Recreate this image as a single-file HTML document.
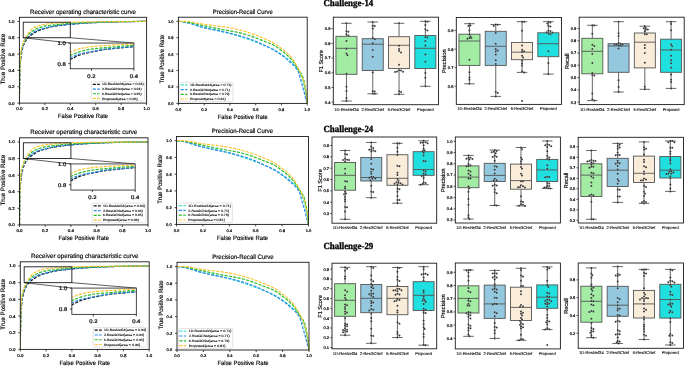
<!DOCTYPE html>
<html><head><meta charset="utf-8"><style>
html,body{margin:0;padding:0;background:#fff;width:685px;height:366px;overflow:hidden}
svg{display:block;will-change:transform}
.d{fill:#2b2b2b;stroke:#fff;stroke-opacity:.4;stroke-width:.3}

</style></head><body>
<svg width="685" height="366" viewBox="0 0 685 366" text-rendering="geometricPrecision" font-family="'Liberation Sans', sans-serif">
<rect width="685" height="366" fill="#fff"/>
<text x="83.00" y="13.80" font-size="6.3" text-anchor="middle" textLength="106.00" lengthAdjust="spacingAndGlyphs" stroke="#000" stroke-width="0.15">Receiver operating characteristic curve</text>
<text x="83.00" y="118.40" font-size="6.2" text-anchor="middle" textLength="50.00" lengthAdjust="spacingAndGlyphs" stroke="#000" stroke-width="0.15">False Positive Rate</text>
<text x="0" y="0" font-size="6.3" text-anchor="middle" textLength="50.50" lengthAdjust="spacingAndGlyphs" transform="translate(4.90,59.00) rotate(-90)" stroke="#000" stroke-width="0.15">True Positive Rate</text>
<line x1="19.40" y1="103.10" x2="19.40" y2="105.10" stroke="#1a1a1a" stroke-width="0.8"/>
<text x="19.40" y="110.30" font-size="4.1" text-anchor="middle" textLength="6.20" lengthAdjust="spacingAndGlyphs" stroke="#000" stroke-width="0.2">0.0</text>
<line x1="17.40" y1="103.10" x2="19.40" y2="103.10" stroke="#1a1a1a" stroke-width="0.8"/>
<text x="14.60" y="104.60" font-size="4.1" text-anchor="end" textLength="6.20" lengthAdjust="spacingAndGlyphs" stroke="#000" stroke-width="0.2">0.0</text>
<line x1="44.84" y1="103.10" x2="44.84" y2="105.10" stroke="#1a1a1a" stroke-width="0.8"/>
<text x="44.84" y="110.30" font-size="4.1" text-anchor="middle" textLength="6.20" lengthAdjust="spacingAndGlyphs" stroke="#000" stroke-width="0.2">0.2</text>
<line x1="17.40" y1="86.76" x2="19.40" y2="86.76" stroke="#1a1a1a" stroke-width="0.8"/>
<text x="14.60" y="88.26" font-size="4.1" text-anchor="end" textLength="6.20" lengthAdjust="spacingAndGlyphs" stroke="#000" stroke-width="0.2">0.2</text>
<line x1="70.28" y1="103.10" x2="70.28" y2="105.10" stroke="#1a1a1a" stroke-width="0.8"/>
<text x="70.28" y="110.30" font-size="4.1" text-anchor="middle" textLength="6.20" lengthAdjust="spacingAndGlyphs" stroke="#000" stroke-width="0.2">0.4</text>
<line x1="17.40" y1="70.41" x2="19.40" y2="70.41" stroke="#1a1a1a" stroke-width="0.8"/>
<text x="14.60" y="71.91" font-size="4.1" text-anchor="end" textLength="6.20" lengthAdjust="spacingAndGlyphs" stroke="#000" stroke-width="0.2">0.4</text>
<line x1="95.72" y1="103.10" x2="95.72" y2="105.10" stroke="#1a1a1a" stroke-width="0.8"/>
<text x="95.72" y="110.30" font-size="4.1" text-anchor="middle" textLength="6.20" lengthAdjust="spacingAndGlyphs" stroke="#000" stroke-width="0.2">0.6</text>
<line x1="17.40" y1="54.07" x2="19.40" y2="54.07" stroke="#1a1a1a" stroke-width="0.8"/>
<text x="14.60" y="55.57" font-size="4.1" text-anchor="end" textLength="6.20" lengthAdjust="spacingAndGlyphs" stroke="#000" stroke-width="0.2">0.6</text>
<line x1="121.16" y1="103.10" x2="121.16" y2="105.10" stroke="#1a1a1a" stroke-width="0.8"/>
<text x="121.16" y="110.30" font-size="4.1" text-anchor="middle" textLength="6.20" lengthAdjust="spacingAndGlyphs" stroke="#000" stroke-width="0.2">0.8</text>
<line x1="17.40" y1="37.73" x2="19.40" y2="37.73" stroke="#1a1a1a" stroke-width="0.8"/>
<text x="14.60" y="39.23" font-size="4.1" text-anchor="end" textLength="6.20" lengthAdjust="spacingAndGlyphs" stroke="#000" stroke-width="0.2">0.8</text>
<line x1="146.60" y1="103.10" x2="146.60" y2="105.10" stroke="#1a1a1a" stroke-width="0.8"/>
<text x="146.60" y="110.30" font-size="4.1" text-anchor="middle" textLength="6.20" lengthAdjust="spacingAndGlyphs" stroke="#000" stroke-width="0.2">1.0</text>
<line x1="17.40" y1="21.39" x2="19.40" y2="21.39" stroke="#1a1a1a" stroke-width="0.8"/>
<text x="14.60" y="22.89" font-size="4.1" text-anchor="end" textLength="6.20" lengthAdjust="spacingAndGlyphs" stroke="#000" stroke-width="0.2">1.0</text>
<clipPath id="c19_17"><rect x="19.4" y="17.3" width="127.19999999999999" height="85.8"/></clipPath>
<g clip-path="url(#c19_17)">
<polyline points="19.40,103.10 19.41,101.69 19.42,100.22 19.43,98.76 19.44,97.35 19.45,96.05 19.46,94.93 19.47,93.95 19.48,93.04 19.50,92.19 19.51,91.41 19.52,90.69 19.53,90.03 19.59,86.32 19.65,82.93 19.72,79.87 19.78,77.16 19.85,74.82 19.91,72.87 19.99,70.68 20.08,68.76 20.16,67.08 20.25,65.59 20.33,64.26 20.42,63.06 20.52,61.69 20.63,60.45 20.74,59.32 20.84,58.30 20.95,57.37 21.05,56.52 21.20,55.44 21.35,54.45 21.50,53.54 21.65,52.71 21.80,51.94 21.94,51.21 22.16,50.24 22.37,49.33 22.58,48.48 22.79,47.69 23.00,46.97 23.22,46.31 23.53,45.40 23.85,44.56 24.17,43.79 24.49,43.08 24.81,42.42 25.12,41.81 25.44,41.25 25.76,40.73 26.08,40.25 26.40,39.79 26.71,39.36 27.03,38.95 27.46,38.44 27.88,37.94 28.30,37.48 28.73,37.04 29.15,36.63 29.58,36.26 30.04,35.88 30.51,35.54 30.98,35.21 31.44,34.90 31.91,34.60 32.37,34.30 33.37,33.63 34.37,32.95 35.36,32.28 36.36,31.66 37.36,31.10 38.35,30.62 39.62,30.11 40.90,29.65 42.17,29.24 43.44,28.86 44.71,28.51 45.98,28.17 47.45,27.79 48.91,27.42 50.37,27.08 51.84,26.76 53.30,26.47 54.76,26.21 56.22,25.98 57.69,25.78 59.15,25.59 60.61,25.42 62.08,25.24 63.54,25.06 64.66,24.92 65.79,24.77 66.91,24.63 68.03,24.49 69.16,24.36 70.28,24.25 72.40,24.05 74.52,23.87 76.64,23.71 78.76,23.55 80.88,23.41 83.00,23.27 85.12,23.13 87.24,22.99 89.36,22.87 91.48,22.75 93.60,22.63 95.72,22.53 97.84,22.43 99.96,22.34 102.08,22.26 104.20,22.18 106.32,22.11 108.44,22.04 110.56,21.97 112.68,21.91 114.80,21.85 116.92,21.80 119.04,21.75 121.16,21.71 123.28,21.68 125.40,21.65 127.52,21.62 129.64,21.60 131.76,21.58 133.88,21.55 136.00,21.52 138.12,21.49 140.24,21.47 142.36,21.44 144.48,21.41 146.60,21.39" fill="none" stroke="#111111" stroke-width="1.2" stroke-dasharray="3.1 1.3"/>
<polyline points="19.40,103.10 19.41,101.54 19.42,99.91 19.43,98.28 19.44,96.72 19.45,95.30 19.46,94.11 19.47,93.11 19.48,92.19 19.50,91.36 19.51,90.59 19.52,89.88 19.53,89.21 19.59,85.38 19.65,81.83 19.72,78.59 19.78,75.72 19.85,73.25 19.91,71.23 19.99,69.02 20.08,67.10 20.16,65.42 20.25,63.94 20.33,62.62 20.42,61.43 20.52,60.06 20.63,58.81 20.74,57.69 20.84,56.67 20.95,55.74 21.05,54.89 21.20,53.80 21.35,52.80 21.50,51.89 21.65,51.06 21.80,50.29 21.94,49.58 22.16,48.64 22.37,47.77 22.58,46.97 22.79,46.23 23.00,45.55 23.22,44.92 23.53,44.05 23.85,43.25 24.17,42.51 24.49,41.82 24.81,41.18 25.12,40.59 25.44,40.03 25.76,39.51 26.08,39.02 26.40,38.56 26.71,38.13 27.03,37.73 27.46,37.23 27.88,36.76 28.30,36.32 28.73,35.90 29.15,35.50 29.58,35.11 30.04,34.69 30.51,34.27 30.98,33.87 31.44,33.49 31.91,33.14 32.37,32.83 33.37,32.22 34.37,31.65 35.36,31.14 36.36,30.67 37.36,30.25 38.35,29.88 39.62,29.48 40.90,29.12 42.17,28.81 43.44,28.51 44.71,28.22 45.98,27.92 47.45,27.57 48.91,27.21 50.37,26.85 51.84,26.52 53.30,26.22 54.76,25.96 56.22,25.75 57.69,25.55 59.15,25.38 60.61,25.21 62.08,25.06 63.54,24.90 64.66,24.78 65.79,24.67 66.91,24.56 68.03,24.45 69.16,24.35 70.28,24.25 72.40,24.06 74.52,23.89 76.64,23.72 78.76,23.56 80.88,23.41 83.00,23.27 85.12,23.13 87.24,22.99 89.36,22.87 91.48,22.75 93.60,22.63 95.72,22.53 97.84,22.43 99.96,22.34 102.08,22.26 104.20,22.18 106.32,22.11 108.44,22.04 110.56,21.97 112.68,21.91 114.80,21.85 116.92,21.80 119.04,21.75 121.16,21.71 123.28,21.68 125.40,21.65 127.52,21.62 129.64,21.60 131.76,21.58 133.88,21.55 136.00,21.52 138.12,21.49 140.24,21.47 142.36,21.44 144.48,21.41 146.60,21.39" fill="none" stroke="#2a8be8" stroke-width="1.2" stroke-dasharray="3.1 1.3"/>
<polyline points="19.40,103.10 19.41,101.24 19.42,99.27 19.43,97.30 19.44,95.44 19.45,93.79 19.46,92.48 19.47,91.43 19.48,90.51 19.50,89.69 19.51,88.95 19.52,88.25 19.53,87.57 19.59,83.63 19.65,79.92 19.72,76.50 19.78,73.46 19.85,70.86 19.91,68.78 19.99,66.55 20.08,64.62 20.16,62.94 20.25,61.47 20.33,60.17 20.42,58.97 20.52,57.60 20.63,56.35 20.74,55.21 20.84,54.18 20.95,53.26 21.05,52.44 21.20,51.41 21.35,50.49 21.50,49.66 21.65,48.90 21.80,48.20 21.94,47.53 22.16,46.64 22.37,45.80 22.58,45.02 22.79,44.31 23.00,43.64 23.22,43.04 23.53,42.22 23.85,41.46 24.17,40.77 24.49,40.13 24.81,39.53 25.12,38.95 25.44,38.41 25.76,37.90 26.08,37.41 26.40,36.95 26.71,36.51 27.03,36.09 27.46,35.56 27.88,35.04 28.30,34.55 28.73,34.08 29.15,33.64 29.58,33.23 30.04,32.81 30.51,32.41 30.98,32.03 31.44,31.67 31.91,31.34 32.37,31.03 33.37,30.42 34.37,29.84 35.36,29.31 36.36,28.82 37.36,28.39 38.35,28.00 39.62,27.57 40.90,27.17 42.17,26.81 43.44,26.48 44.71,26.20 45.98,25.96 47.45,25.74 48.91,25.55 50.37,25.38 51.84,25.22 53.30,25.07 54.76,24.90 56.22,24.72 57.69,24.53 59.15,24.34 60.61,24.16 62.08,23.99 63.54,23.84 64.66,23.73 65.79,23.62 66.91,23.52 68.03,23.43 69.16,23.34 70.28,23.27 72.40,23.13 74.52,23.01 76.64,22.90 78.76,22.79 80.88,22.70 83.00,22.61 85.12,22.53 87.24,22.46 89.36,22.39 91.48,22.33 93.60,22.26 95.72,22.20 97.84,22.14 99.96,22.09 102.08,22.03 104.20,21.98 106.32,21.92 108.44,21.88 110.56,21.83 112.68,21.79 114.80,21.74 116.92,21.70 119.04,21.67 121.16,21.63 123.28,21.60 125.40,21.57 127.52,21.54 129.64,21.51 131.76,21.49 133.88,21.47 136.00,21.45 138.12,21.44 140.24,21.42 142.36,21.41 144.48,21.40 146.60,21.39" fill="none" stroke="#2bbd2b" stroke-width="1.2" stroke-dasharray="3.1 1.3"/>
<polyline points="19.40,103.10 19.41,100.95 19.42,98.68 19.43,96.41 19.44,94.27 19.45,92.37 19.46,90.84 19.47,89.62 19.48,88.53 19.50,87.55 19.51,86.67 19.52,85.87 19.53,85.12 19.59,80.96 19.65,77.18 19.72,73.81 19.78,70.87 19.85,68.37 19.91,66.33 19.99,64.08 20.08,62.12 20.16,60.42 20.25,58.94 20.33,57.65 20.42,56.52 20.52,55.28 20.63,54.16 20.74,53.17 20.84,52.28 20.95,51.50 21.05,50.80 21.20,49.94 21.35,49.18 21.50,48.50 21.65,47.87 21.80,47.29 21.94,46.72 22.16,45.92 22.37,45.17 22.58,44.46 22.79,43.79 23.00,43.18 23.22,42.63 23.53,41.90 23.85,41.25 24.17,40.66 24.49,40.10 24.81,39.54 25.12,38.95 25.53,38.18 25.93,37.40 26.33,36.62 26.74,35.86 27.14,35.13 27.54,34.46 27.88,33.93 28.22,33.42 28.56,32.94 28.90,32.47 29.24,32.03 29.58,31.60 30.04,31.02 30.51,30.45 30.98,29.90 31.44,29.39 31.91,28.95 32.37,28.58 33.37,27.92 34.37,27.35 35.36,26.85 36.36,26.42 37.36,26.04 38.35,25.72 39.62,25.35 40.90,25.03 42.17,24.74 43.44,24.48 44.71,24.27 45.98,24.08 47.45,23.91 48.91,23.75 50.37,23.62 51.84,23.50 53.30,23.38 54.76,23.27 56.22,23.15 57.69,23.03 59.15,22.92 60.61,22.81 62.08,22.71 63.54,22.61 64.66,22.53 65.79,22.45 66.91,22.38 68.03,22.31 69.16,22.25 70.28,22.20 72.40,22.14 74.52,22.10 76.64,22.06 78.76,22.02 80.88,21.99 83.00,21.96 85.12,21.93 87.24,21.90 89.36,21.87 91.48,21.85 93.60,21.82 95.72,21.79 97.84,21.77 99.96,21.74 102.08,21.71 104.20,21.68 106.32,21.65 108.44,21.63 110.56,21.61 112.68,21.60 114.80,21.59 116.92,21.57 119.04,21.56 121.16,21.55 123.28,21.54 125.40,21.52 127.52,21.51 129.64,21.49 131.76,21.48 133.88,21.47 136.00,21.45 138.12,21.44 140.24,21.43 142.36,21.41 144.48,21.40 146.60,21.39" fill="none" stroke="#fcc430" stroke-width="1.2" stroke-dasharray="3.1 1.3"/>
</g>
<rect x="19.40" y="17.30" width="127.20" height="85.80" fill="none" stroke="#1a1a1a" stroke-width="0.9"/>
<rect x="23.22" y="22.20" width="47.06" height="15.53" fill="none" stroke="#1a1a1a" stroke-width="0.9"/>
<line x1="23.22" y1="37.73" x2="70.28" y2="43.04" stroke="#1a1a1a" stroke-width="0.7"/>
<line x1="70.28" y1="37.73" x2="133.88" y2="43.04" stroke="#1a1a1a" stroke-width="0.7"/>
<rect x="70.28" y="43.04" width="63.60" height="25.74" fill="#fff" stroke="none" stroke-width="0"/>
<clipPath id="i19_17"><rect x="70.28" y="43.04" width="63.599999999999994" height="25.740000000000002"/></clipPath>
<g clip-path="url(#i19_17)">
<polyline points="66.04,61.78 66.82,61.30 67.59,60.87 68.37,60.46 69.15,60.07 69.93,59.69 70.70,59.31 72.36,58.46 74.03,57.61 75.69,56.77 77.35,55.98 79.01,55.28 80.67,54.67 82.79,54.03 84.91,53.45 87.03,52.93 89.15,52.46 91.27,52.01 93.39,51.59 95.83,51.11 98.26,50.65 100.70,50.21 103.14,49.81 105.58,49.44 108.02,49.11 110.45,48.83 112.89,48.57 115.33,48.34 117.77,48.12 120.21,47.90 122.64,47.67 124.52,47.49 126.39,47.31 128.26,47.13 130.13,46.95 132.01,46.79 133.88,46.64 137.41,46.40" fill="none" stroke="#111111" stroke-width="1.2" stroke-dasharray="3.1 1.3"/>
<polyline points="66.04,60.34 66.82,59.80 67.59,59.28 68.37,58.77 69.15,58.29 69.93,57.85 70.70,57.45 72.36,56.69 74.03,55.98 75.69,55.33 77.35,54.74 79.01,54.21 80.67,53.75 82.79,53.24 84.91,52.79 87.03,52.39 89.15,52.01 91.27,51.65 93.39,51.28 95.83,50.83 98.26,50.37 100.70,49.93 103.14,49.51 105.58,49.13 108.02,48.81 110.45,48.53 112.89,48.29 115.33,48.07 117.77,47.86 120.21,47.66 122.64,47.47 124.52,47.32 126.39,47.17 128.26,47.03 130.13,46.90 132.01,46.77 133.88,46.64 137.41,46.42" fill="none" stroke="#2a8be8" stroke-width="1.2" stroke-dasharray="3.1 1.3"/>
<polyline points="66.04,57.97 66.82,57.44 67.59,56.93 68.37,56.45 69.15,56.00 69.93,55.58 70.70,55.19 72.36,54.42 74.03,53.69 75.69,53.02 77.35,52.41 79.01,51.86 80.67,51.38 82.79,50.83 84.91,50.33 87.03,49.87 89.15,49.46 91.27,49.10 93.39,48.81 95.83,48.52 98.26,48.28 100.70,48.07 103.14,47.87 105.58,47.68 108.02,47.47 110.45,47.24 112.89,47.00 115.33,46.77 117.77,46.54 120.21,46.32 122.64,46.13 124.52,45.99 126.39,45.86 128.26,45.73 130.13,45.62 132.01,45.51 133.88,45.41 137.41,45.24" fill="none" stroke="#2bbd2b" stroke-width="1.2" stroke-dasharray="3.1 1.3"/>
<polyline points="66.04,55.91 66.82,55.18 67.59,54.46 68.37,53.77 69.15,53.13 69.93,52.57 70.70,52.10 72.36,51.28 74.03,50.56 75.69,49.93 77.35,49.38 79.01,48.90 80.67,48.50 82.79,48.04 84.91,47.63 87.03,47.26 89.15,46.94 91.27,46.67 93.39,46.44 95.83,46.21 98.26,46.02 100.70,45.86 103.14,45.70 105.58,45.56 108.02,45.41 110.45,45.26 112.89,45.11 115.33,44.97 117.77,44.84 120.21,44.71 122.64,44.58 124.52,44.49 126.39,44.39 128.26,44.29 130.13,44.20 132.01,44.13 133.88,44.07 137.41,44.00" fill="none" stroke="#fcc430" stroke-width="1.2" stroke-dasharray="3.1 1.3"/>
</g>
<rect x="70.28" y="43.04" width="63.60" height="25.74" fill="none" stroke="#1a1a1a" stroke-width="0.8"/>
<line x1="91.48" y1="68.78" x2="91.48" y2="70.78" stroke="#1a1a1a" stroke-width="0.8"/>
<text x="91.48" y="77.78" font-size="5.2" text-anchor="middle" textLength="8.20" lengthAdjust="spacingAndGlyphs" stroke="#000" stroke-width="0.2">0.2</text>
<line x1="133.88" y1="68.78" x2="133.88" y2="70.78" stroke="#1a1a1a" stroke-width="0.8"/>
<text x="133.88" y="77.78" font-size="5.2" text-anchor="middle" textLength="8.20" lengthAdjust="spacingAndGlyphs" stroke="#000" stroke-width="0.2">0.4</text>
<line x1="68.28" y1="63.63" x2="70.28" y2="63.63" stroke="#1a1a1a" stroke-width="0.8"/>
<text x="65.68" y="65.53" font-size="5.2" text-anchor="end" textLength="8.20" lengthAdjust="spacingAndGlyphs" stroke="#000" stroke-width="0.2">0.8</text>
<line x1="68.28" y1="43.04" x2="70.28" y2="43.04" stroke="#1a1a1a" stroke-width="0.8"/>
<text x="65.68" y="44.94" font-size="5.2" text-anchor="end" textLength="8.20" lengthAdjust="spacingAndGlyphs" stroke="#000" stroke-width="0.2">1.0</text>
<rect x="91.27" y="81.74" width="53.30" height="19.13" rx="1" fill="#fff" fill-opacity="0.85" stroke="#d0d0d0" stroke-width="0.6"/>
<line x1="92.77" y1="84.34" x2="99.77" y2="84.34" stroke="#111111" stroke-width="1.2" stroke-dasharray="3.1 1.3"/>
<text x="101.97" y="85.49" font-size="3.1999999999999997" textLength="41.60" lengthAdjust="spacingAndGlyphs" stroke="#000" stroke-width="0.1">1D-ResNet34(area = 0.94)</text>
<line x1="92.77" y1="89.04" x2="99.77" y2="89.04" stroke="#2a8be8" stroke-width="1.2" stroke-dasharray="3.1 1.3"/>
<text x="101.97" y="90.19" font-size="3.1999999999999997" textLength="39.60" lengthAdjust="spacingAndGlyphs" stroke="#000" stroke-width="0.1">2-ResGCNet(area = 0.94)</text>
<line x1="92.77" y1="93.74" x2="99.77" y2="93.74" stroke="#2bbd2b" stroke-width="1.2" stroke-dasharray="3.1 1.3"/>
<text x="101.97" y="94.89" font-size="3.1999999999999997" textLength="39.60" lengthAdjust="spacingAndGlyphs" stroke="#000" stroke-width="0.1">6-ResGCNet(area = 0.95)</text>
<line x1="92.77" y1="98.44" x2="99.77" y2="98.44" stroke="#fcc430" stroke-width="1.2" stroke-dasharray="3.1 1.3"/>
<text x="101.97" y="99.59" font-size="3.1999999999999997" textLength="35.70" lengthAdjust="spacingAndGlyphs" stroke="#000" stroke-width="0.1">Proposed(area = 0.96)</text>
<text x="83.75" y="134.30" font-size="6.3" text-anchor="middle" textLength="107.08" lengthAdjust="spacingAndGlyphs" stroke="#000" stroke-width="0.15">Receiver operating characteristic curve</text>
<text x="83.75" y="240.20" font-size="6.2" text-anchor="middle" textLength="50.51" lengthAdjust="spacingAndGlyphs" stroke="#000" stroke-width="0.15">False Positive Rate</text>
<text x="0" y="0" font-size="6.3" text-anchor="middle" textLength="50.50" lengthAdjust="spacingAndGlyphs" transform="translate(4.90,180.15) rotate(-90)" stroke="#000" stroke-width="0.15">True Positive Rate</text>
<line x1="19.50" y1="224.90" x2="19.50" y2="226.90" stroke="#1a1a1a" stroke-width="0.8"/>
<text x="19.50" y="232.10" font-size="4.1" text-anchor="middle" textLength="6.20" lengthAdjust="spacingAndGlyphs" stroke="#000" stroke-width="0.2">0.0</text>
<line x1="17.50" y1="224.90" x2="19.50" y2="224.90" stroke="#1a1a1a" stroke-width="0.8"/>
<text x="14.70" y="226.40" font-size="4.1" text-anchor="end" textLength="6.20" lengthAdjust="spacingAndGlyphs" stroke="#000" stroke-width="0.2">0.0</text>
<line x1="45.20" y1="224.90" x2="45.20" y2="226.90" stroke="#1a1a1a" stroke-width="0.8"/>
<text x="45.20" y="232.10" font-size="4.1" text-anchor="middle" textLength="6.20" lengthAdjust="spacingAndGlyphs" stroke="#000" stroke-width="0.2">0.2</text>
<line x1="17.50" y1="208.31" x2="19.50" y2="208.31" stroke="#1a1a1a" stroke-width="0.8"/>
<text x="14.70" y="209.81" font-size="4.1" text-anchor="end" textLength="6.20" lengthAdjust="spacingAndGlyphs" stroke="#000" stroke-width="0.2">0.2</text>
<line x1="70.90" y1="224.90" x2="70.90" y2="226.90" stroke="#1a1a1a" stroke-width="0.8"/>
<text x="70.90" y="232.10" font-size="4.1" text-anchor="middle" textLength="6.20" lengthAdjust="spacingAndGlyphs" stroke="#000" stroke-width="0.2">0.4</text>
<line x1="17.50" y1="191.72" x2="19.50" y2="191.72" stroke="#1a1a1a" stroke-width="0.8"/>
<text x="14.70" y="193.22" font-size="4.1" text-anchor="end" textLength="6.20" lengthAdjust="spacingAndGlyphs" stroke="#000" stroke-width="0.2">0.4</text>
<line x1="96.60" y1="224.90" x2="96.60" y2="226.90" stroke="#1a1a1a" stroke-width="0.8"/>
<text x="96.60" y="232.10" font-size="4.1" text-anchor="middle" textLength="6.20" lengthAdjust="spacingAndGlyphs" stroke="#000" stroke-width="0.2">0.6</text>
<line x1="17.50" y1="175.13" x2="19.50" y2="175.13" stroke="#1a1a1a" stroke-width="0.8"/>
<text x="14.70" y="176.63" font-size="4.1" text-anchor="end" textLength="6.20" lengthAdjust="spacingAndGlyphs" stroke="#000" stroke-width="0.2">0.6</text>
<line x1="122.30" y1="224.90" x2="122.30" y2="226.90" stroke="#1a1a1a" stroke-width="0.8"/>
<text x="122.30" y="232.10" font-size="4.1" text-anchor="middle" textLength="6.20" lengthAdjust="spacingAndGlyphs" stroke="#000" stroke-width="0.2">0.8</text>
<line x1="17.50" y1="158.54" x2="19.50" y2="158.54" stroke="#1a1a1a" stroke-width="0.8"/>
<text x="14.70" y="160.04" font-size="4.1" text-anchor="end" textLength="6.20" lengthAdjust="spacingAndGlyphs" stroke="#000" stroke-width="0.2">0.8</text>
<line x1="148.00" y1="224.90" x2="148.00" y2="226.90" stroke="#1a1a1a" stroke-width="0.8"/>
<text x="148.00" y="232.10" font-size="4.1" text-anchor="middle" textLength="6.20" lengthAdjust="spacingAndGlyphs" stroke="#000" stroke-width="0.2">1.0</text>
<line x1="17.50" y1="141.95" x2="19.50" y2="141.95" stroke="#1a1a1a" stroke-width="0.8"/>
<text x="14.70" y="143.45" font-size="4.1" text-anchor="end" textLength="6.20" lengthAdjust="spacingAndGlyphs" stroke="#000" stroke-width="0.2">1.0</text>
<clipPath id="c19_137"><rect x="19.5" y="137.8" width="128.5" height="87.1"/></clipPath>
<g clip-path="url(#c19_137)">
<polyline points="19.50,224.90 19.51,223.47 19.52,221.98 19.53,220.49 19.54,219.06 19.55,217.75 19.56,216.60 19.57,215.61 19.59,214.68 19.60,213.83 19.61,213.04 19.62,212.31 19.63,211.63 19.69,207.87 19.76,204.42 19.82,201.32 19.89,198.56 19.95,196.19 20.01,194.21 20.10,191.99 20.19,190.04 20.27,188.33 20.36,186.82 20.44,185.47 20.53,184.25 20.64,182.86 20.74,181.60 20.85,180.46 20.96,179.42 21.06,178.48 21.17,177.62 21.32,176.52 21.47,175.51 21.62,174.59 21.77,173.75 21.92,172.96 22.07,172.23 22.28,171.24 22.50,170.31 22.71,169.45 22.93,168.65 23.14,167.92 23.36,167.25 23.68,166.33 24.00,165.48 24.32,164.69 24.64,163.97 24.96,163.30 25.28,162.69 25.60,162.12 25.93,161.59 26.25,161.09 26.57,160.63 26.89,160.20 27.21,159.78 27.64,159.26 28.07,158.76 28.50,158.28 28.92,157.84 29.35,157.43 29.78,157.04 30.25,156.66 30.72,156.31 31.19,155.98 31.66,155.67 32.14,155.36 32.61,155.05 33.61,154.37 34.62,153.68 35.63,153.01 36.63,152.38 37.64,151.81 38.65,151.32 39.93,150.80 41.22,150.34 42.50,149.92 43.79,149.54 45.07,149.18 46.36,148.83 47.83,148.45 49.31,148.08 50.79,147.73 52.27,147.40 53.75,147.10 55.22,146.84 56.70,146.61 58.18,146.41 59.66,146.22 61.13,146.04 62.61,145.86 64.09,145.68 65.22,145.53 66.36,145.39 67.49,145.24 68.63,145.10 69.76,144.97 70.90,144.85 73.04,144.65 75.18,144.47 77.33,144.30 79.47,144.15 81.61,144.00 83.75,143.86 85.89,143.72 88.03,143.58 90.18,143.45 92.32,143.33 94.46,143.21 96.60,143.11 98.74,143.01 100.88,142.92 103.02,142.84 105.17,142.76 107.31,142.68 109.45,142.61 111.59,142.55 113.73,142.48 115.88,142.42 118.02,142.37 120.16,142.32 122.30,142.28 124.44,142.25 126.58,142.22 128.73,142.19 130.87,142.16 133.01,142.14 135.15,142.11 137.29,142.09 139.43,142.06 141.57,142.03 143.72,142.00 145.86,141.98 148.00,141.95" fill="none" stroke="#111111" stroke-width="1.2" stroke-dasharray="3.1 1.3"/>
<polyline points="19.50,224.90 19.51,223.32 19.52,221.66 19.53,220.00 19.54,218.42 19.55,216.99 19.56,215.78 19.57,214.75 19.59,213.83 19.60,212.98 19.61,212.20 19.62,211.48 19.63,210.80 19.69,206.91 19.76,203.31 19.82,200.02 19.89,197.10 19.95,194.60 20.01,192.55 20.10,190.30 20.19,188.35 20.27,186.64 20.36,185.14 20.44,183.81 20.53,182.59 20.64,181.20 20.74,179.94 20.85,178.80 20.96,177.76 21.06,176.82 21.17,175.96 21.32,174.85 21.47,173.84 21.62,172.92 21.77,172.07 21.92,171.29 22.07,170.57 22.28,169.61 22.50,168.73 22.71,167.92 22.93,167.17 23.14,166.48 23.36,165.84 23.68,164.95 24.00,164.14 24.32,163.39 24.64,162.69 24.96,162.04 25.28,161.44 25.60,160.88 25.93,160.35 26.25,159.85 26.57,159.38 26.89,158.95 27.21,158.54 27.64,158.03 28.07,157.55 28.50,157.11 28.92,156.69 29.35,156.28 29.78,155.88 30.25,155.45 30.72,155.03 31.19,154.62 31.66,154.24 32.14,153.88 32.61,153.56 33.61,152.94 34.62,152.37 35.63,151.85 36.63,151.37 37.64,150.95 38.65,150.57 39.93,150.16 41.22,149.80 42.50,149.48 43.79,149.18 45.07,148.88 46.36,148.58 47.83,148.22 49.31,147.86 50.79,147.50 52.27,147.16 53.75,146.85 55.22,146.59 56.70,146.37 58.18,146.18 59.66,146.00 61.13,145.83 62.61,145.67 64.09,145.51 65.22,145.39 66.36,145.28 67.49,145.17 68.63,145.06 69.76,144.95 70.90,144.85 73.04,144.67 75.18,144.49 77.33,144.32 79.47,144.16 81.61,144.00 83.75,143.86 85.89,143.72 88.03,143.58 90.18,143.45 92.32,143.33 94.46,143.21 96.60,143.11 98.74,143.01 100.88,142.92 103.02,142.84 105.17,142.76 107.31,142.68 109.45,142.61 111.59,142.55 113.73,142.48 115.88,142.42 118.02,142.37 120.16,142.32 122.30,142.28 124.44,142.25 126.58,142.22 128.73,142.19 130.87,142.16 133.01,142.14 135.15,142.11 137.29,142.09 139.43,142.06 141.57,142.03 143.72,142.00 145.86,141.98 148.00,141.95" fill="none" stroke="#2a8be8" stroke-width="1.2" stroke-dasharray="3.1 1.3"/>
<polyline points="19.50,224.90 19.51,223.01 19.52,221.01 19.53,219.01 19.54,217.12 19.55,215.45 19.56,214.12 19.57,213.05 19.59,212.12 19.60,211.29 19.61,210.53 19.62,209.82 19.63,209.14 19.69,205.14 19.76,201.36 19.82,197.90 19.89,194.81 19.95,192.17 20.01,190.06 20.10,187.79 20.19,185.83 20.27,184.13 20.36,182.64 20.44,181.32 20.53,180.11 20.64,178.71 20.74,177.44 20.85,176.28 20.96,175.24 21.06,174.30 21.17,173.47 21.32,172.43 21.47,171.49 21.62,170.65 21.77,169.88 21.92,169.16 22.07,168.49 22.28,167.58 22.50,166.73 22.71,165.94 22.93,165.21 23.14,164.54 23.36,163.93 23.68,163.09 24.00,162.33 24.32,161.63 24.64,160.97 24.96,160.36 25.28,159.78 25.60,159.23 25.93,158.71 26.25,158.22 26.57,157.75 26.89,157.31 27.21,156.88 27.64,156.33 28.07,155.81 28.50,155.31 28.92,154.84 29.35,154.39 29.78,153.98 30.25,153.55 30.72,153.14 31.19,152.75 31.66,152.39 32.14,152.05 32.61,151.74 33.61,151.11 34.62,150.53 35.63,149.99 36.63,149.50 37.64,149.05 38.65,148.67 39.93,148.23 41.22,147.82 42.50,147.45 43.79,147.12 45.07,146.83 46.36,146.59 47.83,146.36 49.31,146.17 50.79,146.00 52.27,145.84 53.75,145.68 55.22,145.51 56.70,145.33 58.18,145.14 59.66,144.95 61.13,144.77 62.61,144.59 64.09,144.44 65.22,144.33 66.36,144.22 67.49,144.12 68.63,144.02 69.76,143.93 70.90,143.86 73.04,143.72 75.18,143.60 77.33,143.48 79.47,143.38 81.61,143.28 83.75,143.19 85.89,143.11 88.03,143.04 90.18,142.97 92.32,142.90 94.46,142.84 96.60,142.78 98.74,142.72 100.88,142.66 103.02,142.60 105.17,142.55 107.31,142.49 109.45,142.45 111.59,142.40 113.73,142.35 115.88,142.31 118.02,142.27 120.16,142.23 122.30,142.20 124.44,142.16 126.58,142.13 128.73,142.10 130.87,142.08 133.01,142.05 135.15,142.03 137.29,142.01 139.43,142.00 141.57,141.99 143.72,141.97 145.86,141.96 148.00,141.95" fill="none" stroke="#2bbd2b" stroke-width="1.2" stroke-dasharray="3.1 1.3"/>
<polyline points="19.50,224.90 19.51,222.72 19.52,220.42 19.53,218.11 19.54,215.93 19.55,214.01 19.56,212.46 19.57,211.21 19.59,210.11 19.60,209.12 19.61,208.22 19.62,207.41 19.63,206.65 19.69,202.42 19.76,198.59 19.82,195.17 19.89,192.18 19.95,189.64 20.01,187.57 20.10,185.29 20.19,183.30 20.27,181.57 20.36,180.07 20.44,178.76 20.53,177.62 20.64,176.35 20.74,175.22 20.85,174.21 20.96,173.31 21.06,172.52 21.17,171.81 21.32,170.94 21.47,170.16 21.62,169.47 21.77,168.84 21.92,168.24 22.07,167.66 22.28,166.86 22.50,166.09 22.71,165.37 22.93,164.69 23.14,164.07 23.36,163.52 23.68,162.77 24.00,162.12 24.32,161.51 24.64,160.94 24.96,160.37 25.28,159.78 25.69,159.00 26.10,158.20 26.50,157.41 26.91,156.64 27.32,155.90 27.72,155.22 28.07,154.68 28.41,154.17 28.75,153.67 29.09,153.20 29.44,152.75 29.78,152.32 30.25,151.73 30.72,151.15 31.19,150.59 31.66,150.08 32.14,149.62 32.61,149.25 33.61,148.59 34.62,148.00 35.63,147.50 36.63,147.05 37.64,146.67 38.65,146.34 39.93,145.98 41.22,145.64 42.50,145.35 43.79,145.09 45.07,144.87 46.36,144.69 47.83,144.51 49.31,144.35 50.79,144.22 52.27,144.09 53.75,143.98 55.22,143.86 56.70,143.73 58.18,143.62 59.66,143.51 61.13,143.40 62.61,143.29 64.09,143.19 65.22,143.11 66.36,143.03 67.49,142.95 68.63,142.88 69.76,142.82 70.90,142.78 73.04,142.72 75.18,142.67 77.33,142.63 79.47,142.59 81.61,142.56 83.75,142.53 85.89,142.50 88.03,142.47 90.18,142.44 92.32,142.42 94.46,142.39 96.60,142.36 98.74,142.33 100.88,142.30 103.02,142.27 105.17,142.24 107.31,142.22 109.45,142.20 111.59,142.18 113.73,142.16 115.88,142.15 118.02,142.14 120.16,142.13 122.30,142.11 124.44,142.10 126.58,142.09 128.73,142.07 130.87,142.06 133.01,142.04 135.15,142.03 137.29,142.02 139.43,142.00 141.57,141.99 143.72,141.98 145.86,141.96 148.00,141.95" fill="none" stroke="#fcc430" stroke-width="1.2" stroke-dasharray="3.1 1.3"/>
</g>
<rect x="19.50" y="137.80" width="128.50" height="87.10" fill="none" stroke="#1a1a1a" stroke-width="0.9"/>
<rect x="23.36" y="142.78" width="47.55" height="15.76" fill="none" stroke="#1a1a1a" stroke-width="0.9"/>
<line x1="23.36" y1="158.54" x2="70.90" y2="163.93" stroke="#1a1a1a" stroke-width="0.7"/>
<line x1="70.90" y1="158.54" x2="135.15" y2="163.93" stroke="#1a1a1a" stroke-width="0.7"/>
<rect x="70.90" y="163.93" width="64.25" height="26.13" fill="#fff" stroke="none" stroke-width="0"/>
<clipPath id="i19_137"><rect x="70.9" y="163.93" width="64.25" height="26.129999999999995"/></clipPath>
<g clip-path="url(#i19_137)">
<polyline points="66.62,182.95 67.40,182.47 68.19,182.03 68.97,181.62 69.76,181.22 70.54,180.83 71.33,180.44 73.01,179.59 74.68,178.72 76.36,177.87 78.04,177.07 79.72,176.35 81.39,175.74 83.54,175.09 85.68,174.50 87.82,173.97 89.96,173.49 92.10,173.04 94.24,172.61 96.71,172.12 99.17,171.65 101.63,171.21 104.10,170.80 106.56,170.43 109.02,170.10 111.48,169.81 113.95,169.55 116.41,169.31 118.87,169.08 121.34,168.86 123.80,168.63 125.69,168.45 127.58,168.26 129.47,168.08 131.37,167.90 133.26,167.74 135.15,167.59 138.72,167.34" fill="none" stroke="#111111" stroke-width="1.2" stroke-dasharray="3.1 1.3"/>
<polyline points="66.62,181.49 67.40,180.95 68.19,180.41 68.97,179.90 69.76,179.42 70.54,178.97 71.33,178.56 73.01,177.78 74.68,177.06 76.36,176.40 78.04,175.80 79.72,175.27 81.39,174.80 83.54,174.28 85.68,173.83 87.82,173.42 89.96,173.04 92.10,172.67 94.24,172.29 96.71,171.84 99.17,171.37 101.63,170.92 104.10,170.50 106.56,170.11 109.02,169.78 111.48,169.51 113.95,169.26 116.41,169.03 118.87,168.82 121.34,168.62 123.80,168.42 125.69,168.27 127.58,168.13 129.47,167.98 131.37,167.85 133.26,167.72 135.15,167.59 138.72,167.36" fill="none" stroke="#2a8be8" stroke-width="1.2" stroke-dasharray="3.1 1.3"/>
<polyline points="66.62,179.09 67.40,178.54 68.19,178.03 68.97,177.54 69.76,177.08 70.54,176.66 71.33,176.26 73.01,175.48 74.68,174.74 76.36,174.06 78.04,173.44 79.72,172.88 81.39,172.40 83.54,171.84 85.68,171.33 87.82,170.86 89.96,170.45 92.10,170.09 94.24,169.78 96.71,169.50 99.17,169.25 101.63,169.04 104.10,168.84 106.56,168.64 109.02,168.42 111.48,168.19 113.95,167.95 116.41,167.71 118.87,167.48 121.34,167.26 123.80,167.07 125.69,166.93 127.58,166.79 129.47,166.66 131.37,166.54 133.26,166.43 135.15,166.33 138.72,166.16" fill="none" stroke="#2bbd2b" stroke-width="1.2" stroke-dasharray="3.1 1.3"/>
<polyline points="66.62,177.00 67.40,176.26 68.19,175.52 68.97,174.82 69.76,174.17 70.54,173.60 71.33,173.13 73.01,172.29 74.68,171.56 76.36,170.92 78.04,170.36 79.72,169.88 81.39,169.47 83.54,169.00 85.68,168.59 87.82,168.22 89.96,167.89 92.10,167.61 94.24,167.38 96.71,167.15 99.17,166.96 101.63,166.79 104.10,166.63 106.56,166.48 109.02,166.33 111.48,166.18 113.95,166.03 116.41,165.89 118.87,165.76 121.34,165.62 123.80,165.50 125.69,165.40 127.58,165.30 129.47,165.20 131.37,165.11 133.26,165.03 135.15,164.98 138.72,164.90" fill="none" stroke="#fcc430" stroke-width="1.2" stroke-dasharray="3.1 1.3"/>
</g>
<rect x="70.90" y="163.93" width="64.25" height="26.13" fill="none" stroke="#1a1a1a" stroke-width="0.8"/>
<line x1="92.32" y1="190.06" x2="92.32" y2="192.06" stroke="#1a1a1a" stroke-width="0.8"/>
<text x="92.32" y="199.06" font-size="5.2" text-anchor="middle" textLength="8.20" lengthAdjust="spacingAndGlyphs" stroke="#000" stroke-width="0.2">0.2</text>
<line x1="135.15" y1="190.06" x2="135.15" y2="192.06" stroke="#1a1a1a" stroke-width="0.8"/>
<text x="135.15" y="199.06" font-size="5.2" text-anchor="middle" textLength="8.20" lengthAdjust="spacingAndGlyphs" stroke="#000" stroke-width="0.2">0.4</text>
<line x1="68.90" y1="184.83" x2="70.90" y2="184.83" stroke="#1a1a1a" stroke-width="0.8"/>
<text x="66.30" y="186.73" font-size="5.2" text-anchor="end" textLength="8.20" lengthAdjust="spacingAndGlyphs" stroke="#000" stroke-width="0.2">0.8</text>
<line x1="68.90" y1="163.93" x2="70.90" y2="163.93" stroke="#1a1a1a" stroke-width="0.8"/>
<text x="66.30" y="165.83" font-size="5.2" text-anchor="end" textLength="8.20" lengthAdjust="spacingAndGlyphs" stroke="#000" stroke-width="0.2">1.0</text>
<rect x="92.10" y="203.21" width="53.84" height="19.42" rx="1" fill="#fff" fill-opacity="0.85" stroke="#d0d0d0" stroke-width="0.6"/>
<line x1="93.62" y1="205.84" x2="100.69" y2="205.84" stroke="#111111" stroke-width="1.2" stroke-dasharray="3.1 1.3"/>
<text x="102.91" y="206.99" font-size="3.232704402515724" textLength="42.03" lengthAdjust="spacingAndGlyphs" stroke="#000" stroke-width="0.1">1D-ResNet34(area = 0.94)</text>
<line x1="93.62" y1="210.59" x2="100.69" y2="210.59" stroke="#2a8be8" stroke-width="1.2" stroke-dasharray="3.1 1.3"/>
<text x="102.91" y="211.74" font-size="3.232704402515724" textLength="40.00" lengthAdjust="spacingAndGlyphs" stroke="#000" stroke-width="0.1">2-ResGCNet(area = 0.94)</text>
<line x1="93.62" y1="215.33" x2="100.69" y2="215.33" stroke="#2bbd2b" stroke-width="1.2" stroke-dasharray="3.1 1.3"/>
<text x="102.91" y="216.48" font-size="3.232704402515724" textLength="40.00" lengthAdjust="spacingAndGlyphs" stroke="#000" stroke-width="0.1">6-ResGCNet(area = 0.95)</text>
<line x1="93.62" y1="220.08" x2="100.69" y2="220.08" stroke="#fcc430" stroke-width="1.2" stroke-dasharray="3.1 1.3"/>
<text x="102.91" y="221.23" font-size="3.232704402515724" textLength="36.06" lengthAdjust="spacingAndGlyphs" stroke="#000" stroke-width="0.1">Proposed(area = 0.96)</text>
<text x="84.75" y="258.30" font-size="6.3" text-anchor="middle" textLength="107.42" lengthAdjust="spacingAndGlyphs" stroke="#000" stroke-width="0.15">Receiver operating characteristic curve</text>
<text x="84.75" y="364.70" font-size="6.2" text-anchor="middle" textLength="50.67" lengthAdjust="spacingAndGlyphs" stroke="#000" stroke-width="0.15">False Positive Rate</text>
<text x="0" y="0" font-size="6.3" text-anchor="middle" textLength="50.50" lengthAdjust="spacingAndGlyphs" transform="translate(4.90,304.40) rotate(-90)" stroke="#000" stroke-width="0.15">True Positive Rate</text>
<line x1="20.30" y1="349.40" x2="20.30" y2="351.40" stroke="#1a1a1a" stroke-width="0.8"/>
<text x="20.30" y="356.60" font-size="4.1" text-anchor="middle" textLength="6.20" lengthAdjust="spacingAndGlyphs" stroke="#000" stroke-width="0.2">0.0</text>
<line x1="18.30" y1="349.40" x2="20.30" y2="349.40" stroke="#1a1a1a" stroke-width="0.8"/>
<text x="15.50" y="350.90" font-size="4.1" text-anchor="end" textLength="6.20" lengthAdjust="spacingAndGlyphs" stroke="#000" stroke-width="0.2">0.0</text>
<line x1="46.08" y1="349.40" x2="46.08" y2="351.40" stroke="#1a1a1a" stroke-width="0.8"/>
<text x="46.08" y="356.60" font-size="4.1" text-anchor="middle" textLength="6.20" lengthAdjust="spacingAndGlyphs" stroke="#000" stroke-width="0.2">0.2</text>
<line x1="18.30" y1="332.71" x2="20.30" y2="332.71" stroke="#1a1a1a" stroke-width="0.8"/>
<text x="15.50" y="334.21" font-size="4.1" text-anchor="end" textLength="6.20" lengthAdjust="spacingAndGlyphs" stroke="#000" stroke-width="0.2">0.2</text>
<line x1="71.86" y1="349.40" x2="71.86" y2="351.40" stroke="#1a1a1a" stroke-width="0.8"/>
<text x="71.86" y="356.60" font-size="4.1" text-anchor="middle" textLength="6.20" lengthAdjust="spacingAndGlyphs" stroke="#000" stroke-width="0.2">0.4</text>
<line x1="18.30" y1="316.03" x2="20.30" y2="316.03" stroke="#1a1a1a" stroke-width="0.8"/>
<text x="15.50" y="317.53" font-size="4.1" text-anchor="end" textLength="6.20" lengthAdjust="spacingAndGlyphs" stroke="#000" stroke-width="0.2">0.4</text>
<line x1="97.64" y1="349.40" x2="97.64" y2="351.40" stroke="#1a1a1a" stroke-width="0.8"/>
<text x="97.64" y="356.60" font-size="4.1" text-anchor="middle" textLength="6.20" lengthAdjust="spacingAndGlyphs" stroke="#000" stroke-width="0.2">0.6</text>
<line x1="18.30" y1="299.34" x2="20.30" y2="299.34" stroke="#1a1a1a" stroke-width="0.8"/>
<text x="15.50" y="300.84" font-size="4.1" text-anchor="end" textLength="6.20" lengthAdjust="spacingAndGlyphs" stroke="#000" stroke-width="0.2">0.6</text>
<line x1="123.42" y1="349.40" x2="123.42" y2="351.40" stroke="#1a1a1a" stroke-width="0.8"/>
<text x="123.42" y="356.60" font-size="4.1" text-anchor="middle" textLength="6.20" lengthAdjust="spacingAndGlyphs" stroke="#000" stroke-width="0.2">0.8</text>
<line x1="18.30" y1="282.66" x2="20.30" y2="282.66" stroke="#1a1a1a" stroke-width="0.8"/>
<text x="15.50" y="284.16" font-size="4.1" text-anchor="end" textLength="6.20" lengthAdjust="spacingAndGlyphs" stroke="#000" stroke-width="0.2">0.8</text>
<line x1="149.20" y1="349.40" x2="149.20" y2="351.40" stroke="#1a1a1a" stroke-width="0.8"/>
<text x="149.20" y="356.60" font-size="4.1" text-anchor="middle" textLength="6.20" lengthAdjust="spacingAndGlyphs" stroke="#000" stroke-width="0.2">1.0</text>
<line x1="18.30" y1="265.97" x2="20.30" y2="265.97" stroke="#1a1a1a" stroke-width="0.8"/>
<text x="15.50" y="267.47" font-size="4.1" text-anchor="end" textLength="6.20" lengthAdjust="spacingAndGlyphs" stroke="#000" stroke-width="0.2">1.0</text>
<clipPath id="c20_261"><rect x="20.3" y="261.8" width="128.89999999999998" height="87.59999999999997"/></clipPath>
<g clip-path="url(#c20_261)">
<polyline points="20.30,349.40 20.31,347.96 20.32,346.46 20.33,344.97 20.34,343.53 20.35,342.21 20.36,341.06 20.38,340.05 20.39,339.12 20.40,338.26 20.41,337.47 20.42,336.73 20.43,336.05 20.49,332.27 20.56,328.81 20.62,325.68 20.69,322.91 20.75,320.52 20.82,318.53 20.90,316.30 20.99,314.34 21.07,312.62 21.16,311.10 21.25,309.75 21.33,308.52 21.44,307.12 21.55,305.85 21.65,304.70 21.76,303.66 21.87,302.71 21.98,301.85 22.13,300.74 22.28,299.73 22.43,298.80 22.58,297.95 22.73,297.16 22.88,296.42 23.09,295.43 23.31,294.50 23.52,293.63 23.74,292.83 23.95,292.09 24.17,291.42 24.49,290.49 24.81,289.63 25.13,288.85 25.46,288.12 25.78,287.45 26.10,286.83 26.42,286.26 26.74,285.72 27.07,285.23 27.39,284.76 27.71,284.32 28.03,283.91 28.46,283.38 28.89,282.88 29.32,282.40 29.75,281.95 30.18,281.54 30.61,281.16 31.08,280.77 31.56,280.42 32.03,280.09 32.50,279.77 32.98,279.46 33.45,279.15 34.46,278.47 35.47,277.78 36.48,277.10 37.49,276.46 38.50,275.89 39.51,275.40 40.80,274.88 42.08,274.41 43.37,273.99 44.66,273.60 45.95,273.24 47.24,272.90 48.72,272.51 50.20,272.13 51.69,271.78 53.17,271.46 54.65,271.16 56.13,270.89 57.62,270.66 59.10,270.46 60.58,270.27 62.06,270.09 63.55,269.91 65.03,269.73 66.17,269.58 67.31,269.43 68.44,269.28 69.58,269.14 70.72,269.01 71.86,268.89 74.01,268.69 76.16,268.51 78.30,268.34 80.45,268.18 82.60,268.03 84.75,267.89 86.90,267.75 89.05,267.61 91.19,267.48 93.34,267.36 95.49,267.24 97.64,267.14 99.79,267.04 101.94,266.95 104.08,266.86 106.23,266.78 108.38,266.71 110.53,266.64 112.68,266.57 114.83,266.51 116.97,266.45 119.12,266.39 121.27,266.35 123.42,266.31 125.57,266.27 127.72,266.24 129.87,266.21 132.01,266.19 134.16,266.16 136.31,266.14 138.46,266.11 140.61,266.08 142.75,266.05 144.90,266.03 147.05,266.00 149.20,265.97" fill="none" stroke="#111111" stroke-width="1.2" stroke-dasharray="3.1 1.3"/>
<polyline points="20.30,349.40 20.31,347.81 20.32,346.14 20.33,344.47 20.34,342.88 20.35,341.44 20.36,340.22 20.38,339.20 20.39,338.26 20.40,337.41 20.41,336.63 20.42,335.90 20.43,335.22 20.49,331.31 20.56,327.68 20.62,324.38 20.69,321.44 20.75,318.92 20.82,316.86 20.90,314.61 20.99,312.64 21.07,310.93 21.16,309.42 21.25,308.07 21.33,306.85 21.44,305.45 21.55,304.19 21.65,303.04 21.76,301.99 21.87,301.04 21.98,300.18 22.13,299.07 22.28,298.05 22.43,297.12 22.58,296.26 22.73,295.48 22.88,294.75 23.09,293.80 23.31,292.91 23.52,292.09 23.74,291.34 23.95,290.64 24.17,290.00 24.49,289.11 24.81,288.29 25.13,287.53 25.46,286.83 25.78,286.18 26.10,285.58 26.42,285.01 26.74,284.48 27.07,283.98 27.39,283.51 27.71,283.07 28.03,282.66 28.46,282.14 28.89,281.67 29.32,281.22 29.75,280.79 30.18,280.39 30.61,279.99 31.08,279.55 31.56,279.13 32.03,278.72 32.50,278.33 32.98,277.97 33.45,277.65 34.46,277.03 35.47,276.45 36.48,275.93 37.49,275.45 38.50,275.02 39.51,274.65 40.80,274.23 42.08,273.87 43.37,273.55 44.66,273.24 45.95,272.95 47.24,272.65 48.72,272.28 50.20,271.91 51.69,271.55 53.17,271.21 54.65,270.90 56.13,270.64 57.62,270.42 59.10,270.22 60.58,270.05 62.06,269.88 63.55,269.72 65.03,269.56 66.17,269.44 67.31,269.32 68.44,269.21 69.58,269.10 70.72,268.99 71.86,268.89 74.01,268.71 76.16,268.53 78.30,268.36 80.45,268.19 82.60,268.04 84.75,267.89 86.90,267.75 89.05,267.61 91.19,267.48 93.34,267.36 95.49,267.24 97.64,267.14 99.79,267.04 101.94,266.95 104.08,266.86 106.23,266.78 108.38,266.71 110.53,266.64 112.68,266.57 114.83,266.51 116.97,266.45 119.12,266.39 121.27,266.35 123.42,266.31 125.57,266.27 127.72,266.24 129.87,266.21 132.01,266.19 134.16,266.16 136.31,266.14 138.46,266.11 140.61,266.08 142.75,266.05 144.90,266.03 147.05,266.00 149.20,265.97" fill="none" stroke="#2a8be8" stroke-width="1.2" stroke-dasharray="3.1 1.3"/>
<polyline points="20.30,349.40 20.31,347.50 20.32,345.49 20.33,343.48 20.34,341.58 20.35,339.90 20.36,338.55 20.38,337.49 20.39,336.55 20.40,335.71 20.41,334.95 20.42,334.24 20.43,333.55 20.49,329.52 20.56,325.73 20.62,322.24 20.69,319.14 20.75,316.49 20.82,314.36 20.90,312.08 20.99,310.11 21.07,308.40 21.16,306.90 21.25,305.57 21.33,304.35 21.44,302.94 21.55,301.66 21.65,300.50 21.76,299.45 21.87,298.51 21.98,297.67 22.13,296.63 22.28,295.69 22.43,294.84 22.58,294.06 22.73,293.34 22.88,292.67 23.09,291.75 23.31,290.90 23.52,290.11 23.74,289.37 23.95,288.70 24.17,288.08 24.49,287.24 24.81,286.47 25.13,285.76 25.46,285.11 25.78,284.49 26.10,283.91 26.42,283.35 26.74,282.83 27.07,282.33 27.39,281.86 27.71,281.42 28.03,280.99 28.46,280.44 28.89,279.91 29.32,279.41 29.75,278.93 30.18,278.49 30.61,278.07 31.08,277.64 31.56,277.23 32.03,276.84 32.50,276.47 32.98,276.13 33.45,275.82 34.46,275.19 35.47,274.60 36.48,274.06 37.49,273.56 38.50,273.12 39.51,272.73 40.80,272.29 42.08,271.88 43.37,271.50 44.66,271.17 45.95,270.89 47.24,270.64 48.72,270.41 50.20,270.22 51.69,270.05 53.17,269.89 54.65,269.73 56.13,269.56 57.62,269.37 59.10,269.18 60.58,268.99 62.06,268.81 63.55,268.63 65.03,268.47 66.17,268.36 67.31,268.26 68.44,268.15 69.58,268.06 70.72,267.97 71.86,267.89 74.01,267.75 76.16,267.63 78.30,267.51 80.45,267.41 82.60,267.31 84.75,267.22 86.90,267.14 89.05,267.07 91.19,267.00 93.34,266.93 95.49,266.87 97.64,266.81 99.79,266.74 101.94,266.69 104.08,266.63 106.23,266.57 108.38,266.52 110.53,266.47 112.68,266.42 114.83,266.38 116.97,266.34 119.12,266.30 121.27,266.26 123.42,266.22 125.57,266.19 127.72,266.16 129.87,266.13 132.01,266.10 134.16,266.08 136.31,266.05 138.46,266.04 140.61,266.02 142.75,266.01 144.90,266.00 147.05,265.98 149.20,265.97" fill="none" stroke="#2bbd2b" stroke-width="1.2" stroke-dasharray="3.1 1.3"/>
<polyline points="20.30,349.40 20.31,347.21 20.32,344.89 20.33,342.57 20.34,340.38 20.35,338.44 20.36,336.89 20.38,335.63 20.39,334.52 20.40,333.53 20.41,332.63 20.42,331.81 20.43,331.05 20.49,326.79 20.56,322.94 20.62,319.50 20.69,316.49 20.75,313.94 20.82,311.86 20.90,309.56 20.99,307.56 21.07,305.82 21.16,304.31 21.25,302.99 21.33,301.85 21.44,300.57 21.55,299.43 21.65,298.42 21.76,297.52 21.87,296.72 21.98,296.01 22.13,295.13 22.28,294.35 22.43,293.65 22.58,293.01 22.73,292.41 22.88,291.83 23.09,291.02 23.31,290.25 23.52,289.53 23.74,288.85 23.95,288.23 24.17,287.66 24.49,286.92 24.81,286.26 25.13,285.65 25.46,285.08 25.78,284.50 26.10,283.91 26.51,283.12 26.92,282.32 27.33,281.52 27.73,280.75 28.14,280.01 28.55,279.32 28.89,278.78 29.24,278.26 29.58,277.77 29.92,277.29 30.27,276.84 30.61,276.40 31.08,275.81 31.56,275.23 32.03,274.67 32.50,274.15 32.98,273.69 33.45,273.31 34.46,272.65 35.47,272.06 36.48,271.55 37.49,271.11 38.50,270.72 39.51,270.39 40.80,270.02 42.08,269.69 43.37,269.39 44.66,269.13 45.95,268.91 47.24,268.72 48.72,268.54 50.20,268.39 51.69,268.25 53.17,268.13 54.65,268.01 56.13,267.89 57.62,267.77 59.10,267.65 60.58,267.54 62.06,267.43 63.55,267.32 65.03,267.22 66.17,267.14 67.31,267.06 68.44,266.98 69.58,266.91 70.72,266.85 71.86,266.81 74.01,266.75 76.16,266.70 78.30,266.66 80.45,266.62 82.60,266.59 84.75,266.56 86.90,266.52 89.05,266.49 91.19,266.47 93.34,266.44 95.49,266.42 97.64,266.39 99.79,266.36 101.94,266.33 104.08,266.30 106.23,266.27 108.38,266.24 110.53,266.22 112.68,266.20 114.83,266.19 116.97,266.18 119.12,266.16 121.27,266.15 123.42,266.14 125.57,266.12 127.72,266.11 129.87,266.10 132.01,266.08 134.16,266.07 136.31,266.05 138.46,266.04 140.61,266.03 142.75,266.01 144.90,266.00 147.05,265.99 149.20,265.97" fill="none" stroke="#fcc430" stroke-width="1.2" stroke-dasharray="3.1 1.3"/>
</g>
<rect x="20.30" y="261.80" width="128.90" height="87.60" fill="none" stroke="#1a1a1a" stroke-width="0.9"/>
<rect x="24.17" y="266.81" width="47.69" height="15.85" fill="none" stroke="#1a1a1a" stroke-width="0.9"/>
<line x1="24.17" y1="282.66" x2="71.86" y2="288.08" stroke="#1a1a1a" stroke-width="0.7"/>
<line x1="71.86" y1="282.66" x2="136.31" y2="288.08" stroke="#1a1a1a" stroke-width="0.7"/>
<rect x="71.86" y="288.08" width="64.45" height="26.28" fill="#fff" stroke="none" stroke-width="0"/>
<clipPath id="i20_261"><rect x="71.86" y="288.08" width="64.44999999999997" height="26.28000000000003"/></clipPath>
<g clip-path="url(#i20_261)">
<polyline points="67.56,307.21 68.35,306.73 69.14,306.28 69.93,305.87 70.71,305.47 71.50,305.08 72.29,304.69 73.97,303.83 75.66,302.95 77.34,302.10 79.02,301.30 80.70,300.57 82.39,299.96 84.54,299.30 86.68,298.71 88.83,298.18 90.98,297.70 93.13,297.24 95.28,296.80 97.75,296.32 100.22,295.85 102.69,295.40 105.16,294.99 107.63,294.61 110.10,294.28 112.57,293.99 115.04,293.73 117.51,293.49 119.98,293.26 122.45,293.04 124.92,292.81 126.82,292.63 128.72,292.44 130.62,292.25 132.51,292.08 134.41,291.91 136.31,291.76 139.89,291.51" fill="none" stroke="#111111" stroke-width="1.2" stroke-dasharray="3.1 1.3"/>
<polyline points="67.56,305.74 68.35,305.19 69.14,304.66 69.93,304.14 70.71,303.65 71.50,303.20 72.29,302.80 73.97,302.01 75.66,301.29 77.34,300.62 79.02,300.02 80.70,299.48 82.39,299.01 84.54,298.49 86.68,298.04 88.83,297.63 90.98,297.24 93.13,296.87 95.28,296.49 97.75,296.03 100.22,295.57 102.69,295.11 105.16,294.68 107.63,294.30 110.10,293.97 112.57,293.69 115.04,293.44 117.51,293.21 119.98,293.00 122.45,292.80 124.92,292.60 126.82,292.45 128.72,292.30 130.62,292.16 132.51,292.02 134.41,291.89 136.31,291.76 139.89,291.53" fill="none" stroke="#2a8be8" stroke-width="1.2" stroke-dasharray="3.1 1.3"/>
<polyline points="67.56,303.32 68.35,302.78 69.14,302.26 69.93,301.77 70.71,301.31 71.50,300.88 72.29,300.48 73.97,299.70 75.66,298.96 77.34,298.27 79.02,297.65 80.70,297.09 82.39,296.59 84.54,296.04 86.68,295.52 88.83,295.05 90.98,294.63 93.13,294.27 95.28,293.97 97.75,293.68 100.22,293.43 102.69,293.22 105.16,293.02 107.63,292.82 110.10,292.60 112.57,292.37 115.04,292.13 117.51,291.89 119.98,291.65 122.45,291.43 124.92,291.23 126.82,291.09 128.72,290.96 130.62,290.83 132.51,290.71 134.41,290.60 136.31,290.50 139.89,290.33" fill="none" stroke="#2bbd2b" stroke-width="1.2" stroke-dasharray="3.1 1.3"/>
<polyline points="67.56,301.22 68.35,300.48 69.14,299.74 69.93,299.03 70.71,298.38 71.50,297.81 72.29,297.33 73.97,296.49 75.66,295.76 77.34,295.11 79.02,294.55 80.70,294.07 82.39,293.65 84.54,293.18 86.68,292.76 88.83,292.39 90.98,292.07 93.13,291.79 95.28,291.55 97.75,291.32 100.22,291.13 102.69,290.96 105.16,290.80 107.63,290.65 110.10,290.50 112.57,290.34 115.04,290.20 117.51,290.05 119.98,289.92 122.45,289.78 124.92,289.66 126.82,289.56 128.72,289.45 130.62,289.36 132.51,289.26 134.41,289.19 136.31,289.13 139.89,289.06" fill="none" stroke="#fcc430" stroke-width="1.2" stroke-dasharray="3.1 1.3"/>
</g>
<rect x="71.86" y="288.08" width="64.45" height="26.28" fill="none" stroke="#1a1a1a" stroke-width="0.8"/>
<line x1="93.34" y1="314.36" x2="93.34" y2="316.36" stroke="#1a1a1a" stroke-width="0.8"/>
<text x="93.34" y="323.36" font-size="5.2" text-anchor="middle" textLength="8.20" lengthAdjust="spacingAndGlyphs" stroke="#000" stroke-width="0.2">0.2</text>
<line x1="136.31" y1="314.36" x2="136.31" y2="316.36" stroke="#1a1a1a" stroke-width="0.8"/>
<text x="136.31" y="323.36" font-size="5.2" text-anchor="middle" textLength="8.20" lengthAdjust="spacingAndGlyphs" stroke="#000" stroke-width="0.2">0.4</text>
<line x1="69.86" y1="309.10" x2="71.86" y2="309.10" stroke="#1a1a1a" stroke-width="0.8"/>
<text x="67.26" y="311.00" font-size="5.2" text-anchor="end" textLength="8.20" lengthAdjust="spacingAndGlyphs" stroke="#000" stroke-width="0.2">0.8</text>
<line x1="69.86" y1="288.08" x2="71.86" y2="288.08" stroke="#1a1a1a" stroke-width="0.8"/>
<text x="67.26" y="289.98" font-size="5.2" text-anchor="end" textLength="8.20" lengthAdjust="spacingAndGlyphs" stroke="#000" stroke-width="0.2">1.0</text>
<rect x="93.13" y="327.59" width="54.01" height="19.53" rx="1" fill="#fff" fill-opacity="0.85" stroke="#d0d0d0" stroke-width="0.6"/>
<line x1="94.65" y1="330.22" x2="101.74" y2="330.22" stroke="#111111" stroke-width="1.2" stroke-dasharray="3.1 1.3"/>
<text x="103.97" y="331.37" font-size="3.2427672955974836" textLength="42.16" lengthAdjust="spacingAndGlyphs" stroke="#000" stroke-width="0.1">1D-ResNet34(area = 0.94)</text>
<line x1="94.65" y1="334.99" x2="101.74" y2="334.99" stroke="#2a8be8" stroke-width="1.2" stroke-dasharray="3.1 1.3"/>
<text x="103.97" y="336.14" font-size="3.2427672955974836" textLength="40.13" lengthAdjust="spacingAndGlyphs" stroke="#000" stroke-width="0.1">2-ResGCNet(area = 0.94)</text>
<line x1="94.65" y1="339.75" x2="101.74" y2="339.75" stroke="#2bbd2b" stroke-width="1.2" stroke-dasharray="3.1 1.3"/>
<text x="103.97" y="340.90" font-size="3.2427672955974836" textLength="40.13" lengthAdjust="spacingAndGlyphs" stroke="#000" stroke-width="0.1">6-ResGCNet(area = 0.95)</text>
<line x1="94.65" y1="344.51" x2="101.74" y2="344.51" stroke="#fcc430" stroke-width="1.2" stroke-dasharray="3.1 1.3"/>
<text x="103.97" y="345.66" font-size="3.2427672955974836" textLength="36.18" lengthAdjust="spacingAndGlyphs" stroke="#000" stroke-width="0.1">Proposed(area = 0.96)</text>
<text x="242.80" y="13.70" font-size="6.3" text-anchor="middle" textLength="60.00" lengthAdjust="spacingAndGlyphs" stroke="#000" stroke-width="0.15">Precision-Recall Curve</text>
<text x="242.80" y="118.70" font-size="6.2" text-anchor="middle" textLength="50.00" lengthAdjust="spacingAndGlyphs" stroke="#000" stroke-width="0.15">False Positive Rate</text>
<text x="0" y="0" font-size="6.3" text-anchor="middle" textLength="49.00" lengthAdjust="spacingAndGlyphs" transform="translate(164.30,59.10) rotate(-90)" stroke="#000" stroke-width="0.15">True Positive Rate</text>
<line x1="178.40" y1="103.40" x2="178.40" y2="105.40" stroke="#1a1a1a" stroke-width="0.8"/>
<text x="178.40" y="110.60" font-size="3.8" text-anchor="middle" textLength="5.70" lengthAdjust="spacingAndGlyphs" stroke="#000" stroke-width="0.2">0.0</text>
<line x1="176.40" y1="103.40" x2="178.40" y2="103.40" stroke="#1a1a1a" stroke-width="0.8"/>
<text x="173.60" y="104.80" font-size="3.8" text-anchor="end" textLength="5.60" lengthAdjust="spacingAndGlyphs" stroke="#000" stroke-width="0.2">0.0</text>
<line x1="204.16" y1="103.40" x2="204.16" y2="105.40" stroke="#1a1a1a" stroke-width="0.8"/>
<text x="204.16" y="110.60" font-size="3.8" text-anchor="middle" textLength="5.70" lengthAdjust="spacingAndGlyphs" stroke="#000" stroke-width="0.2">0.2</text>
<line x1="176.40" y1="86.98" x2="178.40" y2="86.98" stroke="#1a1a1a" stroke-width="0.8"/>
<text x="173.60" y="88.38" font-size="3.8" text-anchor="end" textLength="5.60" lengthAdjust="spacingAndGlyphs" stroke="#000" stroke-width="0.2">0.2</text>
<line x1="229.92" y1="103.40" x2="229.92" y2="105.40" stroke="#1a1a1a" stroke-width="0.8"/>
<text x="229.92" y="110.60" font-size="3.8" text-anchor="middle" textLength="5.70" lengthAdjust="spacingAndGlyphs" stroke="#000" stroke-width="0.2">0.4</text>
<line x1="176.40" y1="70.56" x2="178.40" y2="70.56" stroke="#1a1a1a" stroke-width="0.8"/>
<text x="173.60" y="71.96" font-size="3.8" text-anchor="end" textLength="5.60" lengthAdjust="spacingAndGlyphs" stroke="#000" stroke-width="0.2">0.4</text>
<line x1="255.68" y1="103.40" x2="255.68" y2="105.40" stroke="#1a1a1a" stroke-width="0.8"/>
<text x="255.68" y="110.60" font-size="3.8" text-anchor="middle" textLength="5.70" lengthAdjust="spacingAndGlyphs" stroke="#000" stroke-width="0.2">0.6</text>
<line x1="176.40" y1="54.14" x2="178.40" y2="54.14" stroke="#1a1a1a" stroke-width="0.8"/>
<text x="173.60" y="55.54" font-size="3.8" text-anchor="end" textLength="5.60" lengthAdjust="spacingAndGlyphs" stroke="#000" stroke-width="0.2">0.6</text>
<line x1="281.44" y1="103.40" x2="281.44" y2="105.40" stroke="#1a1a1a" stroke-width="0.8"/>
<text x="281.44" y="110.60" font-size="3.8" text-anchor="middle" textLength="5.70" lengthAdjust="spacingAndGlyphs" stroke="#000" stroke-width="0.2">0.8</text>
<line x1="176.40" y1="37.72" x2="178.40" y2="37.72" stroke="#1a1a1a" stroke-width="0.8"/>
<text x="173.60" y="39.12" font-size="3.8" text-anchor="end" textLength="5.60" lengthAdjust="spacingAndGlyphs" stroke="#000" stroke-width="0.2">0.8</text>
<line x1="307.20" y1="103.40" x2="307.20" y2="105.40" stroke="#1a1a1a" stroke-width="0.8"/>
<text x="307.20" y="110.60" font-size="3.8" text-anchor="middle" textLength="5.70" lengthAdjust="spacingAndGlyphs" stroke="#000" stroke-width="0.2">1.0</text>
<line x1="176.40" y1="21.30" x2="178.40" y2="21.30" stroke="#1a1a1a" stroke-width="0.8"/>
<text x="173.60" y="22.70" font-size="3.8" text-anchor="end" textLength="5.60" lengthAdjust="spacingAndGlyphs" stroke="#000" stroke-width="0.2">1.0</text>
<clipPath id="p178_17"><rect x="178.4" y="15.2" width="130.79999999999998" height="88.2"/></clipPath>
<g clip-path="url(#p178_17)">
<polyline points="178.40,21.30 180.01,21.50 181.62,21.68 183.23,21.89 184.84,22.13 189.22,23.10 193.60,24.41 197.98,25.81 202.36,27.05 207.28,28.20 212.21,29.25 217.14,30.29 222.06,31.40 224.06,31.89 226.06,32.39 228.05,32.91 230.05,33.45 232.75,34.26 235.46,35.14 238.16,36.03 240.87,36.90 242.25,37.33 243.64,37.75 245.02,38.18 246.41,38.63 248.56,39.39 250.72,40.19 252.88,41.01 255.04,41.83 256.97,42.53 258.90,43.23 260.83,43.95 262.76,44.70 265.50,45.83 268.24,47.00 270.98,48.26 273.71,49.63 275.06,50.37 276.42,51.18 277.77,52.03 279.12,52.91 282.02,54.84 284.92,56.85 287.82,59.05 290.71,61.53 292.52,63.22 294.32,65.07 296.12,67.20 297.93,69.74 298.96,71.50 299.99,73.60 301.02,76.03 302.05,78.77 302.85,81.23 303.66,84.10 304.46,87.38 305.27,91.09 305.75,93.76 306.23,96.88 306.72,100.19 307.20,103.40" fill="none" stroke="#40e0d0" stroke-width="1.2" stroke-dasharray="3.1 1.3"/>
<polyline points="178.40,21.30 180.01,21.50 181.62,21.68 183.23,21.88 184.84,22.13 189.22,23.13 193.60,24.49 197.98,25.94 202.36,27.22 207.28,28.39 212.21,29.47 217.14,30.52 222.06,31.57 224.06,31.99 226.06,32.41 228.05,32.84 230.05,33.29 232.75,33.95 235.46,34.65 238.16,35.39 240.87,36.16 243.60,36.97 246.34,37.81 249.08,38.71 251.82,39.69 254.55,40.80 257.29,42.03 260.03,43.32 262.76,44.62 265.50,45.91 268.24,47.22 270.98,48.58 273.71,50.04 275.06,50.80 276.42,51.59 277.77,52.43 279.12,53.32 282.02,55.39 284.92,57.64 287.82,60.09 290.71,62.76 292.52,64.41 294.32,66.10 296.12,68.18 297.93,70.97 298.70,72.87 299.47,75.49 300.24,78.42 301.02,81.23 301.76,83.73 302.50,86.24 303.24,88.81 303.98,91.50 304.50,93.52 305.01,95.66 305.53,97.77 306.04,99.71 306.33,100.68 306.62,101.60 306.91,102.49 307.20,103.40" fill="none" stroke="#2a8be8" stroke-width="1.2" stroke-dasharray="3.1 1.3"/>
<polyline points="178.40,21.30 180.01,21.40 181.62,21.49 183.23,21.59 184.84,21.72 189.22,22.34 193.60,23.30 197.98,24.39 202.36,25.41 207.28,26.46 212.21,27.52 217.14,28.55 222.06,29.51 224.06,29.87 226.06,30.21 228.05,30.55 230.05,30.91 232.75,31.42 235.46,31.94 238.16,32.51 240.87,33.13 243.60,33.84 246.34,34.64 249.08,35.50 251.82,36.41 254.55,37.40 257.29,38.47 260.03,39.57 262.76,40.68 265.50,41.71 268.24,42.72 270.98,43.81 273.71,45.11 275.06,45.91 276.42,46.85 277.77,47.86 279.12,48.89 282.02,51.06 284.92,53.30 287.82,55.78 290.71,58.66 292.52,60.84 294.32,63.39 296.12,66.13 297.93,68.92 299.18,70.68 300.44,72.37 301.69,74.39 302.95,77.13 303.59,79.28 304.24,82.24 304.88,85.73 305.53,89.44 305.85,91.33 306.17,93.36 306.49,95.69 306.81,98.47 306.91,99.53 307.01,100.78 307.10,102.11 307.20,103.40" fill="none" stroke="#2bbd2b" stroke-width="1.2" stroke-dasharray="3.1 1.3"/>
<polyline points="178.40,21.30 180.01,21.30 181.62,21.30 183.23,21.30 184.84,21.30 189.22,21.62 193.60,22.39 197.98,23.31 202.36,24.10 207.28,24.76 212.21,25.37 217.14,25.98 222.06,26.64 224.06,26.92 226.06,27.21 228.05,27.53 230.05,27.87 232.75,28.42 235.46,29.04 238.16,29.72 240.87,30.42 243.60,31.15 246.34,31.91 249.08,32.73 251.82,33.62 254.55,34.60 257.29,35.68 260.03,36.81 262.76,37.97 265.50,39.10 268.24,40.24 270.98,41.47 273.71,42.90 275.06,43.73 276.42,44.69 277.77,45.71 279.12,46.75 282.02,48.93 284.92,51.16 287.82,53.64 290.71,56.61 292.52,58.89 294.32,61.60 296.12,64.65 297.93,67.93 298.96,69.94 299.99,72.11 301.02,74.49 302.05,77.13 302.82,79.24 303.59,81.53 304.37,84.18 305.14,87.39 305.53,89.36 305.91,91.73 306.30,94.49 306.68,97.65 306.81,98.91 306.94,100.37 307.07,101.90 307.20,103.40" fill="none" stroke="#fcc430" stroke-width="1.2" stroke-dasharray="3.1 1.3"/>
</g>
<rect x="178.40" y="17.20" width="128.80" height="86.20" fill="none" stroke="#1a1a1a" stroke-width="0.9"/>
<rect x="179.82" y="82.28" width="53.07" height="19.39" rx="1" fill="#fff" fill-opacity="0.85" stroke="#d0d0d0" stroke-width="0.6"/>
<line x1="180.72" y1="84.88" x2="187.32" y2="84.88" stroke="#40e0d0" stroke-width="1.2" stroke-dasharray="3.1 1.3"/>
<text x="189.92" y="86.03" font-size="3.1999999999999993" textLength="41.60" lengthAdjust="spacingAndGlyphs" stroke="#000" stroke-width="0.1">1D-ResNet34(area = 0.71)</text>
<line x1="180.72" y1="89.58" x2="187.32" y2="89.58" stroke="#2a8be8" stroke-width="1.2" stroke-dasharray="3.1 1.3"/>
<text x="189.92" y="90.73" font-size="3.1999999999999993" textLength="39.90" lengthAdjust="spacingAndGlyphs" stroke="#000" stroke-width="0.1">2-ResGCNet(area = 0.71)</text>
<line x1="180.72" y1="94.28" x2="187.32" y2="94.28" stroke="#2bbd2b" stroke-width="1.2" stroke-dasharray="3.1 1.3"/>
<text x="189.92" y="95.43" font-size="3.1999999999999993" textLength="39.60" lengthAdjust="spacingAndGlyphs" stroke="#000" stroke-width="0.1">6-ResGCNet(area = 0.79)</text>
<line x1="180.72" y1="98.98" x2="187.32" y2="98.98" stroke="#fcc430" stroke-width="1.2" stroke-dasharray="3.1 1.3"/>
<text x="189.92" y="100.13" font-size="3.1999999999999993" textLength="35.70" lengthAdjust="spacingAndGlyphs" stroke="#000" stroke-width="0.1">Proposed(area = 0.81)</text>
<text x="242.50" y="133.00" font-size="6.3" text-anchor="middle" textLength="61.49" lengthAdjust="spacingAndGlyphs" stroke="#000" stroke-width="0.15">Precision-Recall Curve</text>
<text x="242.50" y="239.70" font-size="6.2" text-anchor="middle" textLength="51.24" lengthAdjust="spacingAndGlyphs" stroke="#000" stroke-width="0.15">False Positive Rate</text>
<text x="0" y="0" font-size="6.3" text-anchor="middle" textLength="49.00" lengthAdjust="spacingAndGlyphs" transform="translate(162.40,179.25) rotate(-90)" stroke="#000" stroke-width="0.15">True Positive Rate</text>
<line x1="176.50" y1="224.40" x2="176.50" y2="226.40" stroke="#1a1a1a" stroke-width="0.8"/>
<text x="176.50" y="231.60" font-size="3.8" text-anchor="middle" textLength="5.70" lengthAdjust="spacingAndGlyphs" stroke="#000" stroke-width="0.2">0.0</text>
<line x1="174.50" y1="224.40" x2="176.50" y2="224.40" stroke="#1a1a1a" stroke-width="0.8"/>
<text x="171.70" y="225.80" font-size="3.8" text-anchor="end" textLength="5.60" lengthAdjust="spacingAndGlyphs" stroke="#000" stroke-width="0.2">0.0</text>
<line x1="202.90" y1="224.40" x2="202.90" y2="226.40" stroke="#1a1a1a" stroke-width="0.8"/>
<text x="202.90" y="231.60" font-size="3.8" text-anchor="middle" textLength="5.70" lengthAdjust="spacingAndGlyphs" stroke="#000" stroke-width="0.2">0.2</text>
<line x1="174.50" y1="207.66" x2="176.50" y2="207.66" stroke="#1a1a1a" stroke-width="0.8"/>
<text x="171.70" y="209.06" font-size="3.8" text-anchor="end" textLength="5.60" lengthAdjust="spacingAndGlyphs" stroke="#000" stroke-width="0.2">0.2</text>
<line x1="229.30" y1="224.40" x2="229.30" y2="226.40" stroke="#1a1a1a" stroke-width="0.8"/>
<text x="229.30" y="231.60" font-size="3.8" text-anchor="middle" textLength="5.70" lengthAdjust="spacingAndGlyphs" stroke="#000" stroke-width="0.2">0.4</text>
<line x1="174.50" y1="190.91" x2="176.50" y2="190.91" stroke="#1a1a1a" stroke-width="0.8"/>
<text x="171.70" y="192.31" font-size="3.8" text-anchor="end" textLength="5.60" lengthAdjust="spacingAndGlyphs" stroke="#000" stroke-width="0.2">0.4</text>
<line x1="255.70" y1="224.40" x2="255.70" y2="226.40" stroke="#1a1a1a" stroke-width="0.8"/>
<text x="255.70" y="231.60" font-size="3.8" text-anchor="middle" textLength="5.70" lengthAdjust="spacingAndGlyphs" stroke="#000" stroke-width="0.2">0.6</text>
<line x1="174.50" y1="174.17" x2="176.50" y2="174.17" stroke="#1a1a1a" stroke-width="0.8"/>
<text x="171.70" y="175.57" font-size="3.8" text-anchor="end" textLength="5.60" lengthAdjust="spacingAndGlyphs" stroke="#000" stroke-width="0.2">0.6</text>
<line x1="282.10" y1="224.40" x2="282.10" y2="226.40" stroke="#1a1a1a" stroke-width="0.8"/>
<text x="282.10" y="231.60" font-size="3.8" text-anchor="middle" textLength="5.70" lengthAdjust="spacingAndGlyphs" stroke="#000" stroke-width="0.2">0.8</text>
<line x1="174.50" y1="157.43" x2="176.50" y2="157.43" stroke="#1a1a1a" stroke-width="0.8"/>
<text x="171.70" y="158.83" font-size="3.8" text-anchor="end" textLength="5.60" lengthAdjust="spacingAndGlyphs" stroke="#000" stroke-width="0.2">0.8</text>
<line x1="308.50" y1="224.40" x2="308.50" y2="226.40" stroke="#1a1a1a" stroke-width="0.8"/>
<text x="308.50" y="231.60" font-size="3.8" text-anchor="middle" textLength="5.70" lengthAdjust="spacingAndGlyphs" stroke="#000" stroke-width="0.2">1.0</text>
<line x1="174.50" y1="140.69" x2="176.50" y2="140.69" stroke="#1a1a1a" stroke-width="0.8"/>
<text x="171.70" y="142.09" font-size="3.8" text-anchor="end" textLength="5.60" lengthAdjust="spacingAndGlyphs" stroke="#000" stroke-width="0.2">1.0</text>
<clipPath id="p176_136"><rect x="176.5" y="134.5" width="134.0" height="89.9"/></clipPath>
<g clip-path="url(#p176_136)">
<polyline points="176.50,140.69 178.15,140.88 179.80,141.07 181.45,141.28 183.10,141.52 187.59,142.52 192.08,143.85 196.56,145.28 201.05,146.55 206.10,147.71 211.15,148.78 216.20,149.84 221.25,150.98 223.29,151.48 225.34,151.99 227.39,152.52 229.43,153.08 232.20,153.90 234.98,154.79 237.75,155.70 240.52,156.59 241.94,157.03 243.36,157.46 244.78,157.89 246.20,158.35 248.41,159.12 250.62,159.94 252.83,160.78 255.04,161.61 257.02,162.33 259.00,163.05 260.98,163.77 262.96,164.54 265.76,165.69 268.57,166.89 271.38,168.17 274.18,169.57 275.57,170.33 276.95,171.15 278.34,172.02 279.72,172.92 282.69,174.88 285.66,176.94 288.63,179.18 291.60,181.71 293.45,183.43 295.30,185.31 297.15,187.49 299.00,190.08 300.05,191.87 301.11,194.01 302.16,196.49 303.22,199.29 304.04,201.80 304.87,204.72 305.69,208.06 306.52,211.84 307.01,214.57 307.51,217.75 308.00,221.12 308.50,224.40" fill="none" stroke="#40e0d0" stroke-width="1.2" stroke-dasharray="3.1 1.3"/>
<polyline points="176.50,140.69 178.15,140.88 179.80,141.07 181.45,141.28 183.10,141.52 187.59,142.54 192.08,143.93 196.56,145.41 201.05,146.71 206.10,147.91 211.15,149.02 216.20,150.08 221.25,151.15 223.29,151.58 225.34,152.01 227.39,152.45 229.43,152.91 232.20,153.58 234.98,154.30 237.75,155.05 240.52,155.84 243.32,156.66 246.13,157.52 248.94,158.44 251.74,159.44 254.54,160.57 257.35,161.82 260.15,163.13 262.96,164.46 265.76,165.78 268.57,167.11 271.38,168.50 274.18,169.99 275.57,170.76 276.95,171.57 278.34,172.42 279.72,173.33 282.69,175.44 285.66,177.74 288.63,180.24 291.60,182.96 293.45,184.64 295.30,186.36 297.15,188.48 299.00,191.33 299.79,193.27 300.58,195.94 301.37,198.93 302.16,201.80 302.92,204.35 303.68,206.90 304.44,209.53 305.20,212.26 305.73,214.32 306.26,216.50 306.78,218.66 307.31,220.63 307.61,221.63 307.91,222.56 308.20,223.48 308.50,224.40" fill="none" stroke="#2a8be8" stroke-width="1.2" stroke-dasharray="3.1 1.3"/>
<polyline points="176.50,140.69 178.15,140.78 179.80,140.87 181.45,140.97 183.10,141.10 187.59,141.74 192.08,142.72 196.56,143.83 201.05,144.87 206.10,145.94 211.15,147.02 216.20,148.07 221.25,149.06 223.29,149.42 225.34,149.77 227.39,150.11 229.43,150.48 232.20,151.00 234.98,151.53 237.75,152.11 240.52,152.74 243.32,153.47 246.13,154.28 248.94,155.16 251.74,156.09 254.54,157.09 257.35,158.18 260.15,159.32 262.96,160.44 265.76,161.50 268.57,162.52 271.38,163.63 274.18,164.96 275.57,165.78 276.95,166.73 278.34,167.76 279.72,168.81 282.69,171.03 285.66,173.31 288.63,175.84 291.60,178.78 293.45,181.00 295.30,183.60 297.15,186.40 299.00,189.24 300.28,191.03 301.57,192.76 302.86,194.82 304.14,197.61 304.80,199.81 305.46,202.83 306.12,206.38 306.78,210.17 307.11,212.09 307.44,214.16 307.77,216.53 308.10,219.38 308.20,220.46 308.30,221.73 308.40,223.09 308.50,224.40" fill="none" stroke="#2bbd2b" stroke-width="1.2" stroke-dasharray="3.1 1.3"/>
<polyline points="176.50,140.69 178.15,140.69 179.80,140.69 181.45,140.69 183.10,140.69 187.59,141.01 192.08,141.79 196.56,142.73 201.05,143.53 206.10,144.21 211.15,144.83 216.20,145.45 221.25,146.13 223.29,146.42 225.34,146.71 227.39,147.03 229.43,147.38 232.20,147.94 234.98,148.58 237.75,149.26 240.52,149.98 243.32,150.72 246.13,151.50 248.94,152.34 251.74,153.24 254.54,154.24 257.35,155.34 260.15,156.50 262.96,157.68 265.76,158.83 268.57,159.99 271.38,161.25 274.18,162.70 275.57,163.56 276.95,164.53 278.34,165.57 279.72,166.64 282.69,168.86 285.66,171.13 288.63,173.66 291.60,176.68 293.45,179.01 295.30,181.78 297.15,184.88 299.00,188.24 300.05,190.28 301.11,192.49 302.16,194.92 303.22,197.61 304.01,199.76 304.80,202.09 305.60,204.80 306.39,208.08 306.78,210.09 307.18,212.50 307.58,215.32 307.97,218.54 308.10,219.82 308.24,221.31 308.37,222.87 308.50,224.40" fill="none" stroke="#fcc430" stroke-width="1.2" stroke-dasharray="3.1 1.3"/>
</g>
<rect x="176.50" y="136.50" width="132.00" height="87.90" fill="none" stroke="#1a1a1a" stroke-width="0.9"/>
<rect x="177.95" y="202.86" width="54.38" height="19.78" rx="1" fill="#fff" fill-opacity="0.85" stroke="#d0d0d0" stroke-width="0.6"/>
<line x1="178.87" y1="205.53" x2="185.64" y2="205.53" stroke="#40e0d0" stroke-width="1.2" stroke-dasharray="3.1 1.3"/>
<text x="188.30" y="206.68" font-size="3.2795031055900616" textLength="42.63" lengthAdjust="spacingAndGlyphs" stroke="#000" stroke-width="0.1">1D-ResNet34(area = 0.71)</text>
<line x1="178.87" y1="210.35" x2="185.64" y2="210.35" stroke="#2a8be8" stroke-width="1.2" stroke-dasharray="3.1 1.3"/>
<text x="188.30" y="211.50" font-size="3.2795031055900616" textLength="40.89" lengthAdjust="spacingAndGlyphs" stroke="#000" stroke-width="0.1">2-ResGCNet(area = 0.71)</text>
<line x1="178.87" y1="215.16" x2="185.64" y2="215.16" stroke="#2bbd2b" stroke-width="1.2" stroke-dasharray="3.1 1.3"/>
<text x="188.30" y="216.31" font-size="3.2795031055900616" textLength="40.58" lengthAdjust="spacingAndGlyphs" stroke="#000" stroke-width="0.1">6-ResGCNet(area = 0.79)</text>
<line x1="178.87" y1="219.98" x2="185.64" y2="219.98" stroke="#fcc430" stroke-width="1.2" stroke-dasharray="3.1 1.3"/>
<text x="188.30" y="221.13" font-size="3.2795031055900616" textLength="36.59" lengthAdjust="spacingAndGlyphs" stroke="#000" stroke-width="0.1">Proposed(area = 0.81)</text>
<text x="243.00" y="258.80" font-size="6.3" text-anchor="middle" textLength="61.49" lengthAdjust="spacingAndGlyphs" stroke="#000" stroke-width="0.15">Precision-Recall Curve</text>
<text x="243.00" y="365.30" font-size="6.2" text-anchor="middle" textLength="51.24" lengthAdjust="spacingAndGlyphs" stroke="#000" stroke-width="0.15">False Positive Rate</text>
<text x="0" y="0" font-size="6.3" text-anchor="middle" textLength="49.00" lengthAdjust="spacingAndGlyphs" transform="translate(162.90,304.95) rotate(-90)" stroke="#000" stroke-width="0.15">True Positive Rate</text>
<line x1="177.00" y1="350.00" x2="177.00" y2="352.00" stroke="#1a1a1a" stroke-width="0.8"/>
<text x="177.00" y="357.20" font-size="3.8" text-anchor="middle" textLength="5.70" lengthAdjust="spacingAndGlyphs" stroke="#000" stroke-width="0.2">0.0</text>
<line x1="175.00" y1="350.00" x2="177.00" y2="350.00" stroke="#1a1a1a" stroke-width="0.8"/>
<text x="172.20" y="351.40" font-size="3.8" text-anchor="end" textLength="5.60" lengthAdjust="spacingAndGlyphs" stroke="#000" stroke-width="0.2">0.0</text>
<line x1="203.40" y1="350.00" x2="203.40" y2="352.00" stroke="#1a1a1a" stroke-width="0.8"/>
<text x="203.40" y="357.20" font-size="3.8" text-anchor="middle" textLength="5.70" lengthAdjust="spacingAndGlyphs" stroke="#000" stroke-width="0.2">0.2</text>
<line x1="175.00" y1="333.30" x2="177.00" y2="333.30" stroke="#1a1a1a" stroke-width="0.8"/>
<text x="172.20" y="334.70" font-size="3.8" text-anchor="end" textLength="5.60" lengthAdjust="spacingAndGlyphs" stroke="#000" stroke-width="0.2">0.2</text>
<line x1="229.80" y1="350.00" x2="229.80" y2="352.00" stroke="#1a1a1a" stroke-width="0.8"/>
<text x="229.80" y="357.20" font-size="3.8" text-anchor="middle" textLength="5.70" lengthAdjust="spacingAndGlyphs" stroke="#000" stroke-width="0.2">0.4</text>
<line x1="175.00" y1="316.59" x2="177.00" y2="316.59" stroke="#1a1a1a" stroke-width="0.8"/>
<text x="172.20" y="317.99" font-size="3.8" text-anchor="end" textLength="5.60" lengthAdjust="spacingAndGlyphs" stroke="#000" stroke-width="0.2">0.4</text>
<line x1="256.20" y1="350.00" x2="256.20" y2="352.00" stroke="#1a1a1a" stroke-width="0.8"/>
<text x="256.20" y="357.20" font-size="3.8" text-anchor="middle" textLength="5.70" lengthAdjust="spacingAndGlyphs" stroke="#000" stroke-width="0.2">0.6</text>
<line x1="175.00" y1="299.89" x2="177.00" y2="299.89" stroke="#1a1a1a" stroke-width="0.8"/>
<text x="172.20" y="301.29" font-size="3.8" text-anchor="end" textLength="5.60" lengthAdjust="spacingAndGlyphs" stroke="#000" stroke-width="0.2">0.6</text>
<line x1="282.60" y1="350.00" x2="282.60" y2="352.00" stroke="#1a1a1a" stroke-width="0.8"/>
<text x="282.60" y="357.20" font-size="3.8" text-anchor="middle" textLength="5.70" lengthAdjust="spacingAndGlyphs" stroke="#000" stroke-width="0.2">0.8</text>
<line x1="175.00" y1="283.18" x2="177.00" y2="283.18" stroke="#1a1a1a" stroke-width="0.8"/>
<text x="172.20" y="284.58" font-size="3.8" text-anchor="end" textLength="5.60" lengthAdjust="spacingAndGlyphs" stroke="#000" stroke-width="0.2">0.8</text>
<line x1="309.00" y1="350.00" x2="309.00" y2="352.00" stroke="#1a1a1a" stroke-width="0.8"/>
<text x="309.00" y="357.20" font-size="3.8" text-anchor="middle" textLength="5.70" lengthAdjust="spacingAndGlyphs" stroke="#000" stroke-width="0.2">1.0</text>
<line x1="175.00" y1="266.48" x2="177.00" y2="266.48" stroke="#1a1a1a" stroke-width="0.8"/>
<text x="172.20" y="267.88" font-size="3.8" text-anchor="end" textLength="5.60" lengthAdjust="spacingAndGlyphs" stroke="#000" stroke-width="0.2">1.0</text>
<clipPath id="p177_262"><rect x="177.0" y="260.3" width="134.0" height="89.69999999999999"/></clipPath>
<g clip-path="url(#p177_262)">
<polyline points="177.00,266.48 178.65,266.67 180.30,266.86 181.95,267.07 183.60,267.31 188.09,268.30 192.58,269.63 197.06,271.06 201.55,272.32 206.60,273.49 211.65,274.56 216.70,275.61 221.75,276.75 223.79,277.24 225.84,277.75 227.89,278.28 229.93,278.84 232.70,279.66 235.48,280.55 238.25,281.46 241.02,282.35 242.44,282.78 243.86,283.21 245.28,283.64 246.70,284.10 248.91,284.87 251.12,285.69 253.33,286.53 255.54,287.36 257.52,288.08 259.50,288.79 261.48,289.51 263.46,290.28 266.26,291.42 269.07,292.62 271.88,293.90 274.68,295.29 276.07,296.05 277.45,296.87 278.84,297.74 280.22,298.63 283.19,300.59 286.16,302.64 289.13,304.88 292.10,307.40 293.95,309.12 295.80,311.00 297.65,313.17 299.50,315.76 300.55,317.55 301.61,319.68 302.66,322.15 303.72,324.94 304.54,327.45 305.37,330.36 306.19,333.70 307.02,337.47 307.51,340.19 308.01,343.37 308.50,346.73 309.00,350.00" fill="none" stroke="#40e0d0" stroke-width="1.2" stroke-dasharray="3.1 1.3"/>
<polyline points="177.00,266.48 178.65,266.67 180.30,266.86 181.95,267.07 183.60,267.31 188.09,268.33 192.58,269.71 197.06,271.19 201.55,272.49 206.60,273.69 211.65,274.79 216.70,275.85 221.75,276.92 223.79,277.35 225.84,277.77 227.89,278.21 229.93,278.67 232.70,279.34 235.48,280.06 238.25,280.81 241.02,281.59 243.82,282.42 246.63,283.27 249.44,284.19 252.24,285.19 255.04,286.31 257.85,287.56 260.65,288.87 263.46,290.20 266.26,291.51 269.07,292.84 271.88,294.23 274.68,295.71 276.07,296.48 277.45,297.29 278.84,298.14 280.22,299.05 283.19,301.15 286.16,303.44 289.13,305.94 292.10,308.66 293.95,310.33 295.80,312.05 297.65,314.16 299.50,317.01 300.29,318.94 301.08,321.61 301.87,324.58 302.66,327.45 303.42,329.99 304.18,332.54 304.94,335.16 305.70,337.89 306.23,339.95 306.76,342.12 307.28,344.27 307.81,346.24 308.11,347.23 308.41,348.17 308.70,349.08 309.00,350.00" fill="none" stroke="#2a8be8" stroke-width="1.2" stroke-dasharray="3.1 1.3"/>
<polyline points="177.00,266.48 178.65,266.57 180.30,266.66 181.95,266.76 183.60,266.89 188.09,267.53 192.58,268.51 197.06,269.62 201.55,270.65 206.60,271.72 211.65,272.80 216.70,273.84 221.75,274.83 223.79,275.19 225.84,275.54 227.89,275.88 229.93,276.25 232.70,276.77 235.48,277.30 238.25,277.87 241.02,278.50 243.82,279.23 246.63,280.04 249.44,280.92 252.24,281.84 255.04,282.85 257.85,283.94 260.65,285.06 263.46,286.19 266.26,287.24 269.07,288.26 271.88,289.37 274.68,290.70 276.07,291.51 277.45,292.46 278.84,293.49 280.22,294.54 283.19,296.75 286.16,299.03 289.13,301.55 292.10,304.48 293.95,306.70 295.80,309.29 297.65,312.08 299.50,314.92 300.78,316.71 302.07,318.43 303.36,320.49 304.64,323.27 305.30,325.46 305.96,328.48 306.62,332.02 307.28,335.80 307.61,337.72 307.94,339.78 308.27,342.15 308.60,344.99 308.70,346.06 308.80,347.34 308.90,348.69 309.00,350.00" fill="none" stroke="#2bbd2b" stroke-width="1.2" stroke-dasharray="3.1 1.3"/>
<polyline points="177.00,266.48 178.65,266.48 180.30,266.48 181.95,266.48 183.60,266.48 188.09,266.80 192.58,267.58 197.06,268.51 201.55,269.32 206.60,269.99 211.65,270.61 216.70,271.23 221.75,271.91 223.79,272.19 225.84,272.49 227.89,272.81 229.93,273.16 232.70,273.71 235.48,274.35 238.25,275.03 241.02,275.75 243.82,276.49 246.63,277.27 249.44,278.10 252.24,279.00 255.04,280.00 257.85,281.10 260.65,282.25 263.46,283.43 266.26,284.58 269.07,285.74 271.88,286.99 274.68,288.44 276.07,289.30 277.45,290.27 278.84,291.31 280.22,292.37 283.19,294.58 286.16,296.85 289.13,299.38 292.10,302.39 293.95,304.71 295.80,307.47 297.65,310.57 299.50,313.92 300.55,315.95 301.61,318.16 302.66,320.59 303.72,323.27 304.51,325.42 305.30,327.74 306.10,330.45 306.89,333.71 307.28,335.72 307.68,338.13 308.08,340.94 308.47,344.15 308.60,345.43 308.74,346.92 308.87,348.48 309.00,350.00" fill="none" stroke="#fcc430" stroke-width="1.2" stroke-dasharray="3.1 1.3"/>
</g>
<rect x="177.00" y="262.30" width="132.00" height="87.70" fill="none" stroke="#1a1a1a" stroke-width="0.9"/>
<rect x="178.45" y="328.51" width="54.38" height="19.73" rx="1" fill="#fff" fill-opacity="0.85" stroke="#d0d0d0" stroke-width="0.6"/>
<line x1="179.37" y1="331.18" x2="186.14" y2="331.18" stroke="#40e0d0" stroke-width="1.2" stroke-dasharray="3.1 1.3"/>
<text x="188.80" y="332.33" font-size="3.2795031055900616" textLength="42.63" lengthAdjust="spacingAndGlyphs" stroke="#000" stroke-width="0.1">1D-ResNet34(area = 0.71)</text>
<line x1="179.37" y1="335.99" x2="186.14" y2="335.99" stroke="#2a8be8" stroke-width="1.2" stroke-dasharray="3.1 1.3"/>
<text x="188.80" y="337.14" font-size="3.2795031055900616" textLength="40.89" lengthAdjust="spacingAndGlyphs" stroke="#000" stroke-width="0.1">2-ResGCNet(area = 0.71)</text>
<line x1="179.37" y1="340.81" x2="186.14" y2="340.81" stroke="#2bbd2b" stroke-width="1.2" stroke-dasharray="3.1 1.3"/>
<text x="188.80" y="341.96" font-size="3.2795031055900616" textLength="40.58" lengthAdjust="spacingAndGlyphs" stroke="#000" stroke-width="0.1">6-ResGCNet(area = 0.79)</text>
<line x1="179.37" y1="345.63" x2="186.14" y2="345.63" stroke="#fcc430" stroke-width="1.2" stroke-dasharray="3.1 1.3"/>
<text x="188.80" y="346.78" font-size="3.2795031055900616" textLength="36.59" lengthAdjust="spacingAndGlyphs" stroke="#000" stroke-width="0.1">Proposed(area = 0.81)</text>
<text x="323.40" y="6.30" font-size="9.4" textLength="49.90" lengthAdjust="spacingAndGlyphs" font-weight="bold" font-family="'Liberation Serif', serif" stroke="#000" stroke-width="0.3">Challenge-14</text>
<text x="323.40" y="131.80" font-size="9.4" textLength="49.90" lengthAdjust="spacingAndGlyphs" font-weight="bold" font-family="'Liberation Serif', serif" stroke="#000" stroke-width="0.3">Challenge-24</text>
<text x="323.40" y="248.80" font-size="9.4" textLength="49.90" lengthAdjust="spacingAndGlyphs" font-weight="bold" font-family="'Liberation Serif', serif" stroke="#000" stroke-width="0.3">Challenge-29</text>
<line x1="331.50" y1="28.60" x2="333.30" y2="28.60" stroke="#1a1a1a" stroke-width="0.7"/>
<text x="330.40" y="30.00" font-size="3.9" text-anchor="end" textLength="5.60" lengthAdjust="spacingAndGlyphs" stroke="#000" stroke-width="0.2">0.9</text>
<line x1="331.50" y1="43.32" x2="333.30" y2="43.32" stroke="#1a1a1a" stroke-width="0.7"/>
<text x="330.40" y="44.72" font-size="3.9" text-anchor="end" textLength="5.60" lengthAdjust="spacingAndGlyphs" stroke="#000" stroke-width="0.2">0.8</text>
<line x1="331.50" y1="58.04" x2="333.30" y2="58.04" stroke="#1a1a1a" stroke-width="0.7"/>
<text x="330.40" y="59.44" font-size="3.9" text-anchor="end" textLength="5.60" lengthAdjust="spacingAndGlyphs" stroke="#000" stroke-width="0.2">0.7</text>
<line x1="331.50" y1="72.76" x2="333.30" y2="72.76" stroke="#1a1a1a" stroke-width="0.7"/>
<text x="330.40" y="74.16" font-size="3.9" text-anchor="end" textLength="5.60" lengthAdjust="spacingAndGlyphs" stroke="#000" stroke-width="0.2">0.6</text>
<line x1="331.50" y1="87.48" x2="333.30" y2="87.48" stroke="#1a1a1a" stroke-width="0.7"/>
<text x="330.40" y="88.88" font-size="3.9" text-anchor="end" textLength="5.60" lengthAdjust="spacingAndGlyphs" stroke="#000" stroke-width="0.2">0.5</text>
<line x1="331.50" y1="102.20" x2="333.30" y2="102.20" stroke="#1a1a1a" stroke-width="0.7"/>
<text x="330.40" y="103.60" font-size="3.9" text-anchor="end" textLength="5.60" lengthAdjust="spacingAndGlyphs" stroke="#000" stroke-width="0.2">0.4</text>
<text x="0" y="0" font-size="5.8" text-anchor="middle" textLength="22.50" lengthAdjust="spacingAndGlyphs" transform="translate(322.80,61.35) rotate(-90)" stroke="#000" stroke-width="0.15">F1 Score</text>
<line x1="346.45" y1="23.30" x2="346.45" y2="36.30" stroke="#555555" stroke-width="0.9"/>
<line x1="346.45" y1="74.30" x2="346.45" y2="101.00" stroke="#555555" stroke-width="0.9"/>
<line x1="341.19" y1="23.30" x2="351.71" y2="23.30" stroke="#555555" stroke-width="0.9"/>
<line x1="341.19" y1="101.00" x2="351.71" y2="101.00" stroke="#555555" stroke-width="0.9"/>
<rect x="335.93" y="36.30" width="21.04" height="38.00" fill="#a3eca3" stroke="#555555" stroke-width="0.9"/>
<line x1="335.93" y1="48.30" x2="356.97" y2="48.30" stroke="#555555" stroke-width="0.9"/>
<text x="346.45" y="110.70" font-size="4.1" text-anchor="middle" textLength="24.60" lengthAdjust="spacingAndGlyphs" stroke="#000" stroke-width="0.1">1D-ResNet34</text>
<circle class="d" cx="346.45" cy="23.30" r="1.0"/>
<circle class="d" cx="346.45" cy="31.23" r="1.0"/>
<circle class="d" cx="348.45" cy="31.84" r="1.0"/>
<circle class="d" cx="346.45" cy="34.29" r="1.0"/>
<circle class="d" cx="348.45" cy="35.58" r="1.0"/>
<circle class="d" cx="346.45" cy="41.02" r="1.0"/>
<circle class="d" cx="346.45" cy="48.77" r="1.0"/>
<circle class="d" cx="346.45" cy="53.55" r="1.0"/>
<circle class="d" cx="347.45" cy="55.29" r="1.0"/>
<circle class="d" cx="346.45" cy="73.77" r="1.0"/>
<circle class="d" cx="346.45" cy="86.65" r="1.0"/>
<circle class="d" cx="346.45" cy="90.98" r="1.0"/>
<circle class="d" cx="346.45" cy="97.97" r="1.0"/>
<circle class="d" cx="346.45" cy="101.00" r="1.0"/>
<line x1="372.75" y1="22.00" x2="372.75" y2="38.70" stroke="#555555" stroke-width="0.9"/>
<line x1="372.75" y1="70.50" x2="372.75" y2="93.80" stroke="#555555" stroke-width="0.9"/>
<line x1="367.49" y1="22.00" x2="378.01" y2="22.00" stroke="#555555" stroke-width="0.9"/>
<line x1="367.49" y1="93.80" x2="378.01" y2="93.80" stroke="#555555" stroke-width="0.9"/>
<rect x="362.23" y="38.70" width="21.04" height="31.80" fill="#93c8de" stroke="#555555" stroke-width="0.9"/>
<line x1="362.23" y1="44.20" x2="383.27" y2="44.20" stroke="#555555" stroke-width="0.9"/>
<text x="372.75" y="110.70" font-size="4.1" text-anchor="middle" textLength="22.50" lengthAdjust="spacingAndGlyphs" stroke="#000" stroke-width="0.1">2-ResGCNet</text>
<circle class="d" cx="372.75" cy="22.00" r="1.0"/>
<circle class="d" cx="372.75" cy="25.66" r="1.0"/>
<circle class="d" cx="374.75" cy="26.06" r="1.0"/>
<circle class="d" cx="372.75" cy="28.58" r="1.0"/>
<circle class="d" cx="372.75" cy="37.88" r="1.0"/>
<circle class="d" cx="374.75" cy="39.33" r="1.0"/>
<circle class="d" cx="372.75" cy="43.29" r="1.0"/>
<circle class="d" cx="372.75" cy="49.95" r="1.0"/>
<circle class="d" cx="372.75" cy="56.70" r="1.0"/>
<circle class="d" cx="372.75" cy="72.48" r="1.0"/>
<circle class="d" cx="372.75" cy="90.95" r="1.0"/>
<circle class="d" cx="374.75" cy="91.43" r="1.0"/>
<circle class="d" cx="372.75" cy="93.60" r="1.0"/>
<circle class="d" cx="374.75" cy="93.80" r="1.0"/>
<line x1="399.05" y1="23.30" x2="399.05" y2="36.70" stroke="#555555" stroke-width="0.9"/>
<line x1="399.05" y1="68.50" x2="399.05" y2="94.30" stroke="#555555" stroke-width="0.9"/>
<line x1="393.79" y1="23.30" x2="404.31" y2="23.30" stroke="#555555" stroke-width="0.9"/>
<line x1="393.79" y1="94.30" x2="404.31" y2="94.30" stroke="#555555" stroke-width="0.9"/>
<rect x="388.53" y="36.70" width="21.04" height="31.80" fill="#f9ecd9" stroke="#555555" stroke-width="0.9"/>
<line x1="388.53" y1="45.30" x2="409.57" y2="45.30" stroke="#555555" stroke-width="0.9"/>
<text x="399.05" y="110.70" font-size="4.1" text-anchor="middle" textLength="22.50" lengthAdjust="spacingAndGlyphs" stroke="#000" stroke-width="0.1">6-ResGCNet</text>
<circle class="d" cx="399.05" cy="23.30" r="1.0"/>
<circle class="d" cx="399.05" cy="45.69" r="1.0"/>
<circle class="d" cx="399.05" cy="49.05" r="1.0"/>
<circle class="d" cx="399.05" cy="51.06" r="1.0"/>
<circle class="d" cx="401.05" cy="52.53" r="1.0"/>
<circle class="d" cx="399.05" cy="64.81" r="1.0"/>
<circle class="d" cx="399.05" cy="70.25" r="1.0"/>
<circle class="d" cx="401.05" cy="70.47" r="1.0"/>
<circle class="d" cx="397.05" cy="71.42" r="1.0"/>
<circle class="d" cx="403.05" cy="71.72" r="1.0"/>
<circle class="d" cx="395.05" cy="71.95" r="1.0"/>
<circle class="d" cx="399.05" cy="91.30" r="1.0"/>
<circle class="d" cx="401.05" cy="92.08" r="1.0"/>
<circle class="d" cx="399.05" cy="94.30" r="1.0"/>
<line x1="425.35" y1="21.30" x2="425.35" y2="35.50" stroke="#555555" stroke-width="0.9"/>
<line x1="425.35" y1="68.50" x2="425.35" y2="86.30" stroke="#555555" stroke-width="0.9"/>
<line x1="420.09" y1="21.30" x2="430.61" y2="21.30" stroke="#555555" stroke-width="0.9"/>
<line x1="420.09" y1="86.30" x2="430.61" y2="86.30" stroke="#555555" stroke-width="0.9"/>
<rect x="414.83" y="35.50" width="21.04" height="33.00" fill="#20dfdf" stroke="#555555" stroke-width="0.9"/>
<line x1="414.83" y1="48.30" x2="435.87" y2="48.30" stroke="#555555" stroke-width="0.9"/>
<text x="425.35" y="110.70" font-size="4.1" text-anchor="middle" textLength="16.60" lengthAdjust="spacingAndGlyphs" stroke="#000" stroke-width="0.1">Proposed</text>
<circle class="d" cx="425.35" cy="21.30" r="1.0"/>
<circle class="d" cx="427.35" cy="21.72" r="1.0"/>
<circle class="d" cx="425.35" cy="24.91" r="1.0"/>
<circle class="d" cx="425.35" cy="29.26" r="1.0"/>
<circle class="d" cx="427.35" cy="30.53" r="1.0"/>
<circle class="d" cx="425.35" cy="36.96" r="1.0"/>
<circle class="d" cx="427.35" cy="37.49" r="1.0"/>
<circle class="d" cx="425.35" cy="41.01" r="1.0"/>
<circle class="d" cx="425.35" cy="45.41" r="1.0"/>
<circle class="d" cx="425.35" cy="54.59" r="1.0"/>
<circle class="d" cx="425.35" cy="61.82" r="1.0"/>
<circle class="d" cx="425.35" cy="73.06" r="1.0"/>
<circle class="d" cx="425.35" cy="77.69" r="1.0"/>
<circle class="d" cx="425.35" cy="86.30" r="1.0"/>
<rect x="333.30" y="17.20" width="105.20" height="87.50" fill="none" stroke="#1a1a1a" stroke-width="0.9"/>
<line x1="454.50" y1="30.50" x2="456.30" y2="30.50" stroke="#1a1a1a" stroke-width="0.7"/>
<text x="453.40" y="31.90" font-size="3.9" text-anchor="end" textLength="5.60" lengthAdjust="spacingAndGlyphs" stroke="#000" stroke-width="0.2">0.9</text>
<line x1="454.50" y1="49.10" x2="456.30" y2="49.10" stroke="#1a1a1a" stroke-width="0.7"/>
<text x="453.40" y="50.50" font-size="3.9" text-anchor="end" textLength="5.60" lengthAdjust="spacingAndGlyphs" stroke="#000" stroke-width="0.2">0.8</text>
<line x1="454.50" y1="67.70" x2="456.30" y2="67.70" stroke="#1a1a1a" stroke-width="0.7"/>
<text x="453.40" y="69.10" font-size="3.9" text-anchor="end" textLength="5.60" lengthAdjust="spacingAndGlyphs" stroke="#000" stroke-width="0.2">0.7</text>
<line x1="454.50" y1="86.30" x2="456.30" y2="86.30" stroke="#1a1a1a" stroke-width="0.7"/>
<text x="453.40" y="87.70" font-size="3.9" text-anchor="end" textLength="5.60" lengthAdjust="spacingAndGlyphs" stroke="#000" stroke-width="0.2">0.6</text>
<text x="0" y="0" font-size="5.8" text-anchor="middle" textLength="23.90" lengthAdjust="spacingAndGlyphs" transform="translate(445.80,61.35) rotate(-90)" stroke="#000" stroke-width="0.15">Precision</text>
<line x1="469.45" y1="23.70" x2="469.45" y2="34.20" stroke="#555555" stroke-width="0.9"/>
<line x1="469.45" y1="65.40" x2="469.45" y2="83.80" stroke="#555555" stroke-width="0.9"/>
<line x1="464.19" y1="23.70" x2="474.71" y2="23.70" stroke="#555555" stroke-width="0.9"/>
<line x1="464.19" y1="83.80" x2="474.71" y2="83.80" stroke="#555555" stroke-width="0.9"/>
<rect x="458.93" y="34.20" width="21.04" height="31.20" fill="#a3eca3" stroke="#555555" stroke-width="0.9"/>
<line x1="458.93" y1="41.00" x2="479.97" y2="41.00" stroke="#555555" stroke-width="0.9"/>
<text x="469.45" y="110.40" font-size="4.1" text-anchor="middle" textLength="24.60" lengthAdjust="spacingAndGlyphs" stroke="#000" stroke-width="0.1">1D-ResNet34</text>
<circle class="d" cx="469.45" cy="23.70" r="1.0"/>
<circle class="d" cx="470.45" cy="25.55" r="1.0"/>
<circle class="d" cx="468.45" cy="25.89" r="1.0"/>
<circle class="d" cx="469.45" cy="30.61" r="1.0"/>
<circle class="d" cx="469.45" cy="34.58" r="1.0"/>
<circle class="d" cx="470.45" cy="36.38" r="1.0"/>
<circle class="d" cx="469.45" cy="38.09" r="1.0"/>
<circle class="d" cx="471.45" cy="38.12" r="1.0"/>
<circle class="d" cx="467.45" cy="38.79" r="1.0"/>
<circle class="d" cx="469.45" cy="59.73" r="1.0"/>
<circle class="d" cx="469.45" cy="72.14" r="1.0"/>
<circle class="d" cx="469.45" cy="77.55" r="1.0"/>
<circle class="d" cx="469.45" cy="79.64" r="1.0"/>
<circle class="d" cx="469.45" cy="83.80" r="1.0"/>
<line x1="495.75" y1="24.50" x2="495.75" y2="31.30" stroke="#555555" stroke-width="0.9"/>
<line x1="495.75" y1="65.40" x2="495.75" y2="96.40" stroke="#555555" stroke-width="0.9"/>
<line x1="490.49" y1="24.50" x2="501.01" y2="24.50" stroke="#555555" stroke-width="0.9"/>
<line x1="490.49" y1="96.40" x2="501.01" y2="96.40" stroke="#555555" stroke-width="0.9"/>
<rect x="485.23" y="31.30" width="21.04" height="34.10" fill="#93c8de" stroke="#555555" stroke-width="0.9"/>
<line x1="485.23" y1="46.30" x2="506.27" y2="46.30" stroke="#555555" stroke-width="0.9"/>
<text x="495.75" y="110.40" font-size="4.1" text-anchor="middle" textLength="22.50" lengthAdjust="spacingAndGlyphs" stroke="#000" stroke-width="0.1">2-ResGCNet</text>
<circle class="d" cx="495.75" cy="24.50" r="1.0"/>
<circle class="d" cx="497.75" cy="24.64" r="1.0"/>
<circle class="d" cx="493.75" cy="25.88" r="1.0"/>
<circle class="d" cx="495.75" cy="32.92" r="1.0"/>
<circle class="d" cx="495.75" cy="43.65" r="1.0"/>
<circle class="d" cx="495.75" cy="48.98" r="1.0"/>
<circle class="d" cx="497.75" cy="50.51" r="1.0"/>
<circle class="d" cx="495.75" cy="51.60" r="1.0"/>
<circle class="d" cx="495.75" cy="54.43" r="1.0"/>
<circle class="d" cx="495.75" cy="60.17" r="1.0"/>
<circle class="d" cx="495.75" cy="64.01" r="1.0"/>
<circle class="d" cx="495.75" cy="91.95" r="1.0"/>
<circle class="d" cx="497.75" cy="93.00" r="1.0"/>
<circle class="d" cx="495.75" cy="96.40" r="1.0"/>
<line x1="522.05" y1="21.70" x2="522.05" y2="42.50" stroke="#555555" stroke-width="0.9"/>
<line x1="522.05" y1="59.70" x2="522.05" y2="72.40" stroke="#555555" stroke-width="0.9"/>
<line x1="516.79" y1="21.70" x2="527.31" y2="21.70" stroke="#555555" stroke-width="0.9"/>
<line x1="516.79" y1="72.40" x2="527.31" y2="72.40" stroke="#555555" stroke-width="0.9"/>
<rect x="511.53" y="42.50" width="21.04" height="17.20" fill="#f9ecd9" stroke="#555555" stroke-width="0.9"/>
<line x1="511.53" y1="52.20" x2="532.57" y2="52.20" stroke="#555555" stroke-width="0.9"/>
<text x="522.05" y="110.40" font-size="4.1" text-anchor="middle" textLength="22.50" lengthAdjust="spacingAndGlyphs" stroke="#000" stroke-width="0.1">6-ResGCNet</text>
<circle class="d" cx="522.05" cy="21.70" r="1.0"/>
<circle class="d" cx="524.05" cy="21.81" r="1.0"/>
<circle class="d" cx="522.05" cy="30.70" r="1.0"/>
<circle class="d" cx="522.05" cy="45.43" r="1.0"/>
<circle class="d" cx="522.05" cy="49.85" r="1.0"/>
<circle class="d" cx="524.05" cy="51.20" r="1.0"/>
<circle class="d" cx="522.05" cy="51.80" r="1.0"/>
<circle class="d" cx="522.05" cy="55.80" r="1.0"/>
<circle class="d" cx="523.05" cy="57.45" r="1.0"/>
<circle class="d" cx="522.05" cy="60.40" r="1.0"/>
<circle class="d" cx="522.05" cy="63.16" r="1.0"/>
<circle class="d" cx="522.05" cy="65.46" r="1.0"/>
<circle class="d" cx="522.05" cy="71.19" r="1.0"/>
<circle class="d" cx="524.05" cy="72.40" r="1.0"/>
<circle class="d" cx="522.05" cy="101.00" r="1.0"/>
<line x1="548.35" y1="21.70" x2="548.35" y2="32.80" stroke="#555555" stroke-width="0.9"/>
<line x1="548.35" y1="56.70" x2="548.35" y2="74.10" stroke="#555555" stroke-width="0.9"/>
<line x1="543.09" y1="21.70" x2="553.61" y2="21.70" stroke="#555555" stroke-width="0.9"/>
<line x1="543.09" y1="74.10" x2="553.61" y2="74.10" stroke="#555555" stroke-width="0.9"/>
<rect x="537.83" y="32.80" width="21.04" height="23.90" fill="#20dfdf" stroke="#555555" stroke-width="0.9"/>
<line x1="537.83" y1="43.70" x2="558.87" y2="43.70" stroke="#555555" stroke-width="0.9"/>
<text x="548.35" y="110.40" font-size="4.1" text-anchor="middle" textLength="16.60" lengthAdjust="spacingAndGlyphs" stroke="#000" stroke-width="0.1">Proposed</text>
<circle class="d" cx="548.35" cy="21.70" r="1.0"/>
<circle class="d" cx="550.35" cy="22.54" r="1.0"/>
<circle class="d" cx="547.35" cy="23.39" r="1.0"/>
<circle class="d" cx="548.35" cy="25.85" r="1.0"/>
<circle class="d" cx="550.35" cy="26.43" r="1.0"/>
<circle class="d" cx="548.35" cy="30.72" r="1.0"/>
<circle class="d" cx="550.35" cy="31.04" r="1.0"/>
<circle class="d" cx="546.35" cy="32.23" r="1.0"/>
<circle class="d" cx="552.35" cy="32.62" r="1.0"/>
<circle class="d" cx="548.35" cy="33.48" r="1.0"/>
<circle class="d" cx="550.35" cy="34.32" r="1.0"/>
<circle class="d" cx="548.35" cy="51.30" r="1.0"/>
<circle class="d" cx="548.35" cy="62.88" r="1.0"/>
<circle class="d" cx="548.35" cy="74.10" r="1.0"/>
<rect x="456.30" y="17.50" width="105.20" height="86.90" fill="none" stroke="#1a1a1a" stroke-width="0.9"/>
<line x1="577.40" y1="28.50" x2="579.20" y2="28.50" stroke="#1a1a1a" stroke-width="0.7"/>
<text x="576.30" y="29.90" font-size="3.9" text-anchor="end" textLength="5.60" lengthAdjust="spacingAndGlyphs" stroke="#000" stroke-width="0.2">0.9</text>
<line x1="577.40" y1="40.77" x2="579.20" y2="40.77" stroke="#1a1a1a" stroke-width="0.7"/>
<text x="576.30" y="42.17" font-size="3.9" text-anchor="end" textLength="5.60" lengthAdjust="spacingAndGlyphs" stroke="#000" stroke-width="0.2">0.8</text>
<line x1="577.40" y1="53.04" x2="579.20" y2="53.04" stroke="#1a1a1a" stroke-width="0.7"/>
<text x="576.30" y="54.44" font-size="3.9" text-anchor="end" textLength="5.60" lengthAdjust="spacingAndGlyphs" stroke="#000" stroke-width="0.2">0.7</text>
<line x1="577.40" y1="65.31" x2="579.20" y2="65.31" stroke="#1a1a1a" stroke-width="0.7"/>
<text x="576.30" y="66.71" font-size="3.9" text-anchor="end" textLength="5.60" lengthAdjust="spacingAndGlyphs" stroke="#000" stroke-width="0.2">0.6</text>
<line x1="577.40" y1="77.58" x2="579.20" y2="77.58" stroke="#1a1a1a" stroke-width="0.7"/>
<text x="576.30" y="78.98" font-size="3.9" text-anchor="end" textLength="5.60" lengthAdjust="spacingAndGlyphs" stroke="#000" stroke-width="0.2">0.5</text>
<line x1="577.40" y1="89.85" x2="579.20" y2="89.85" stroke="#1a1a1a" stroke-width="0.7"/>
<text x="576.30" y="91.25" font-size="3.9" text-anchor="end" textLength="5.60" lengthAdjust="spacingAndGlyphs" stroke="#000" stroke-width="0.2">0.4</text>
<line x1="577.40" y1="102.12" x2="579.20" y2="102.12" stroke="#1a1a1a" stroke-width="0.7"/>
<text x="576.30" y="103.52" font-size="3.9" text-anchor="end" textLength="5.60" lengthAdjust="spacingAndGlyphs" stroke="#000" stroke-width="0.2">0.3</text>
<text x="0" y="0" font-size="5.8" text-anchor="middle" textLength="15.30" lengthAdjust="spacingAndGlyphs" transform="translate(568.70,61.30) rotate(-90)" stroke="#000" stroke-width="0.15">Recall</text>
<line x1="592.33" y1="25.30" x2="592.33" y2="38.30" stroke="#555555" stroke-width="0.9"/>
<line x1="592.33" y1="73.80" x2="592.33" y2="100.60" stroke="#555555" stroke-width="0.9"/>
<line x1="587.08" y1="25.30" x2="597.58" y2="25.30" stroke="#555555" stroke-width="0.9"/>
<line x1="587.08" y1="100.60" x2="597.58" y2="100.60" stroke="#555555" stroke-width="0.9"/>
<rect x="581.83" y="38.30" width="21.00" height="35.50" fill="#a3eca3" stroke="#555555" stroke-width="0.9"/>
<line x1="581.83" y1="51.30" x2="602.83" y2="51.30" stroke="#555555" stroke-width="0.9"/>
<text x="592.33" y="110.60" font-size="4.1" text-anchor="middle" textLength="24.60" lengthAdjust="spacingAndGlyphs" stroke="#000" stroke-width="0.1">1D-ResNet34</text>
<circle class="d" cx="592.33" cy="25.30" r="1.0"/>
<circle class="d" cx="594.33" cy="25.53" r="1.0"/>
<circle class="d" cx="592.33" cy="33.75" r="1.0"/>
<circle class="d" cx="592.33" cy="44.76" r="1.0"/>
<circle class="d" cx="594.33" cy="45.90" r="1.0"/>
<circle class="d" cx="592.33" cy="49.00" r="1.0"/>
<circle class="d" cx="592.33" cy="53.98" r="1.0"/>
<circle class="d" cx="592.33" cy="63.00" r="1.0"/>
<circle class="d" cx="592.33" cy="72.96" r="1.0"/>
<circle class="d" cx="592.33" cy="75.09" r="1.0"/>
<circle class="d" cx="594.33" cy="75.48" r="1.0"/>
<circle class="d" cx="592.33" cy="93.58" r="1.0"/>
<circle class="d" cx="592.33" cy="99.19" r="1.0"/>
<circle class="d" cx="594.33" cy="100.60" r="1.0"/>
<line x1="618.58" y1="21.70" x2="618.58" y2="43.70" stroke="#555555" stroke-width="0.9"/>
<line x1="618.58" y1="72.30" x2="618.58" y2="92.00" stroke="#555555" stroke-width="0.9"/>
<line x1="613.33" y1="21.70" x2="623.83" y2="21.70" stroke="#555555" stroke-width="0.9"/>
<line x1="613.33" y1="92.00" x2="623.83" y2="92.00" stroke="#555555" stroke-width="0.9"/>
<rect x="608.08" y="43.70" width="21.00" height="28.60" fill="#93c8de" stroke="#555555" stroke-width="0.9"/>
<line x1="608.08" y1="46.00" x2="629.08" y2="46.00" stroke="#555555" stroke-width="0.9"/>
<text x="618.58" y="110.60" font-size="4.1" text-anchor="middle" textLength="22.50" lengthAdjust="spacingAndGlyphs" stroke="#000" stroke-width="0.1">2-ResGCNet</text>
<circle class="d" cx="618.58" cy="21.70" r="1.0"/>
<circle class="d" cx="618.58" cy="33.31" r="1.0"/>
<circle class="d" cx="618.58" cy="36.09" r="1.0"/>
<circle class="d" cx="618.58" cy="42.98" r="1.0"/>
<circle class="d" cx="620.58" cy="43.78" r="1.0"/>
<circle class="d" cx="616.58" cy="44.42" r="1.0"/>
<circle class="d" cx="622.58" cy="44.72" r="1.0"/>
<circle class="d" cx="614.58" cy="44.76" r="1.0"/>
<circle class="d" cx="618.58" cy="45.16" r="1.0"/>
<circle class="d" cx="620.58" cy="45.79" r="1.0"/>
<circle class="d" cx="618.58" cy="48.49" r="1.0"/>
<circle class="d" cx="618.58" cy="80.13" r="1.0"/>
<circle class="d" cx="618.58" cy="86.95" r="1.0"/>
<circle class="d" cx="618.58" cy="92.00" r="1.0"/>
<line x1="644.83" y1="26.20" x2="644.83" y2="33.00" stroke="#555555" stroke-width="0.9"/>
<line x1="644.83" y1="67.90" x2="644.83" y2="89.30" stroke="#555555" stroke-width="0.9"/>
<line x1="639.58" y1="26.20" x2="650.08" y2="26.20" stroke="#555555" stroke-width="0.9"/>
<line x1="639.58" y1="89.30" x2="650.08" y2="89.30" stroke="#555555" stroke-width="0.9"/>
<rect x="634.33" y="33.00" width="21.00" height="34.90" fill="#f9ecd9" stroke="#555555" stroke-width="0.9"/>
<line x1="634.33" y1="42.20" x2="655.33" y2="42.20" stroke="#555555" stroke-width="0.9"/>
<text x="644.83" y="110.60" font-size="4.1" text-anchor="middle" textLength="22.50" lengthAdjust="spacingAndGlyphs" stroke="#000" stroke-width="0.1">6-ResGCNet</text>
<circle class="d" cx="644.83" cy="26.20" r="1.0"/>
<circle class="d" cx="645.83" cy="27.95" r="1.0"/>
<circle class="d" cx="643.83" cy="28.35" r="1.0"/>
<circle class="d" cx="647.83" cy="29.50" r="1.0"/>
<circle class="d" cx="645.83" cy="29.86" r="1.0"/>
<circle class="d" cx="644.83" cy="31.62" r="1.0"/>
<circle class="d" cx="644.83" cy="34.15" r="1.0"/>
<circle class="d" cx="646.83" cy="34.32" r="1.0"/>
<circle class="d" cx="644.83" cy="45.00" r="1.0"/>
<circle class="d" cx="644.83" cy="47.89" r="1.0"/>
<circle class="d" cx="644.83" cy="53.00" r="1.0"/>
<circle class="d" cx="644.83" cy="62.63" r="1.0"/>
<circle class="d" cx="644.83" cy="86.65" r="1.0"/>
<circle class="d" cx="644.83" cy="89.30" r="1.0"/>
<line x1="671.08" y1="21.70" x2="671.08" y2="39.20" stroke="#555555" stroke-width="0.9"/>
<line x1="671.08" y1="72.30" x2="671.08" y2="88.40" stroke="#555555" stroke-width="0.9"/>
<line x1="665.83" y1="21.70" x2="676.33" y2="21.70" stroke="#555555" stroke-width="0.9"/>
<line x1="665.83" y1="88.40" x2="676.33" y2="88.40" stroke="#555555" stroke-width="0.9"/>
<rect x="660.58" y="39.20" width="21.00" height="33.10" fill="#20dfdf" stroke="#555555" stroke-width="0.9"/>
<line x1="660.58" y1="50.00" x2="681.58" y2="50.00" stroke="#555555" stroke-width="0.9"/>
<text x="671.08" y="110.60" font-size="4.1" text-anchor="middle" textLength="16.60" lengthAdjust="spacingAndGlyphs" stroke="#000" stroke-width="0.1">Proposed</text>
<circle class="d" cx="671.08" cy="21.70" r="1.0"/>
<circle class="d" cx="671.08" cy="24.12" r="1.0"/>
<circle class="d" cx="671.08" cy="30.18" r="1.0"/>
<circle class="d" cx="671.08" cy="44.53" r="1.0"/>
<circle class="d" cx="672.08" cy="46.32" r="1.0"/>
<circle class="d" cx="671.08" cy="49.69" r="1.0"/>
<circle class="d" cx="671.08" cy="55.69" r="1.0"/>
<circle class="d" cx="671.08" cy="60.18" r="1.0"/>
<circle class="d" cx="671.08" cy="63.30" r="1.0"/>
<circle class="d" cx="671.08" cy="67.75" r="1.0"/>
<circle class="d" cx="671.08" cy="74.43" r="1.0"/>
<circle class="d" cx="671.08" cy="79.64" r="1.0"/>
<circle class="d" cx="671.08" cy="82.12" r="1.0"/>
<circle class="d" cx="671.08" cy="88.40" r="1.0"/>
<rect x="579.20" y="17.20" width="105.00" height="87.40" fill="none" stroke="#1a1a1a" stroke-width="0.9"/>
<line x1="330.20" y1="145.50" x2="332.00" y2="145.50" stroke="#1a1a1a" stroke-width="0.7"/>
<text x="329.10" y="146.90" font-size="3.9" text-anchor="end" textLength="5.60" lengthAdjust="spacingAndGlyphs" stroke="#000" stroke-width="0.2">0.9</text>
<line x1="330.20" y1="156.83" x2="332.00" y2="156.83" stroke="#1a1a1a" stroke-width="0.7"/>
<text x="329.10" y="158.23" font-size="3.9" text-anchor="end" textLength="5.60" lengthAdjust="spacingAndGlyphs" stroke="#000" stroke-width="0.2">0.8</text>
<line x1="330.20" y1="168.16" x2="332.00" y2="168.16" stroke="#1a1a1a" stroke-width="0.7"/>
<text x="329.10" y="169.56" font-size="3.9" text-anchor="end" textLength="5.60" lengthAdjust="spacingAndGlyphs" stroke="#000" stroke-width="0.2">0.7</text>
<line x1="330.20" y1="179.49" x2="332.00" y2="179.49" stroke="#1a1a1a" stroke-width="0.7"/>
<text x="329.10" y="180.89" font-size="3.9" text-anchor="end" textLength="5.60" lengthAdjust="spacingAndGlyphs" stroke="#000" stroke-width="0.2">0.6</text>
<line x1="330.20" y1="190.82" x2="332.00" y2="190.82" stroke="#1a1a1a" stroke-width="0.7"/>
<text x="329.10" y="192.22" font-size="3.9" text-anchor="end" textLength="5.60" lengthAdjust="spacingAndGlyphs" stroke="#000" stroke-width="0.2">0.5</text>
<line x1="330.20" y1="202.15" x2="332.00" y2="202.15" stroke="#1a1a1a" stroke-width="0.7"/>
<text x="329.10" y="203.55" font-size="3.9" text-anchor="end" textLength="5.60" lengthAdjust="spacingAndGlyphs" stroke="#000" stroke-width="0.2">0.4</text>
<line x1="330.20" y1="213.48" x2="332.00" y2="213.48" stroke="#1a1a1a" stroke-width="0.7"/>
<text x="329.10" y="214.88" font-size="3.9" text-anchor="end" textLength="5.60" lengthAdjust="spacingAndGlyphs" stroke="#000" stroke-width="0.2">0.3</text>
<text x="0" y="0" font-size="5.8" text-anchor="middle" textLength="22.50" lengthAdjust="spacingAndGlyphs" transform="translate(321.50,180.50) rotate(-90)" stroke="#000" stroke-width="0.15">F1 Score</text>
<line x1="345.09" y1="150.50" x2="345.09" y2="162.50" stroke="#555555" stroke-width="0.9"/>
<line x1="345.09" y1="190.20" x2="345.09" y2="219.30" stroke="#555555" stroke-width="0.9"/>
<line x1="339.85" y1="150.50" x2="350.32" y2="150.50" stroke="#555555" stroke-width="0.9"/>
<line x1="339.85" y1="219.30" x2="350.32" y2="219.30" stroke="#555555" stroke-width="0.9"/>
<rect x="334.62" y="162.50" width="20.94" height="27.70" fill="#a3eca3" stroke="#555555" stroke-width="0.9"/>
<line x1="334.62" y1="175.30" x2="355.56" y2="175.30" stroke="#555555" stroke-width="0.9"/>
<text x="345.09" y="229.20" font-size="4.1" text-anchor="middle" textLength="24.60" lengthAdjust="spacingAndGlyphs" stroke="#000" stroke-width="0.1">1D-ResNet34</text>
<circle class="d" cx="345.09" cy="150.50" r="1.0"/>
<circle class="d" cx="345.09" cy="153.98" r="1.0"/>
<circle class="d" cx="347.09" cy="154.44" r="1.0"/>
<circle class="d" cx="345.09" cy="158.71" r="1.0"/>
<circle class="d" cx="347.09" cy="159.78" r="1.0"/>
<circle class="d" cx="343.09" cy="160.08" r="1.0"/>
<circle class="d" cx="349.09" cy="160.08" r="1.0"/>
<circle class="d" cx="345.09" cy="161.77" r="1.0"/>
<circle class="d" cx="345.09" cy="168.80" r="1.0"/>
<circle class="d" cx="345.09" cy="173.42" r="1.0"/>
<circle class="d" cx="345.09" cy="181.17" r="1.0"/>
<circle class="d" cx="347.09" cy="181.49" r="1.0"/>
<circle class="d" cx="345.09" cy="186.63" r="1.0"/>
<circle class="d" cx="345.09" cy="188.61" r="1.0"/>
<circle class="d" cx="345.09" cy="191.82" r="1.0"/>
<circle class="d" cx="346.09" cy="193.47" r="1.0"/>
<circle class="d" cx="344.09" cy="194.34" r="1.0"/>
<circle class="d" cx="345.09" cy="196.78" r="1.0"/>
<circle class="d" cx="345.09" cy="199.20" r="1.0"/>
<circle class="d" cx="345.09" cy="201.26" r="1.0"/>
<circle class="d" cx="345.09" cy="206.94" r="1.0"/>
<circle class="d" cx="347.09" cy="207.29" r="1.0"/>
<circle class="d" cx="345.09" cy="211.56" r="1.0"/>
<circle class="d" cx="345.09" cy="219.30" r="1.0"/>
<line x1="371.26" y1="142.50" x2="371.26" y2="157.50" stroke="#555555" stroke-width="0.9"/>
<line x1="371.26" y1="181.00" x2="371.26" y2="197.70" stroke="#555555" stroke-width="0.9"/>
<line x1="366.03" y1="142.50" x2="376.50" y2="142.50" stroke="#555555" stroke-width="0.9"/>
<line x1="366.03" y1="197.70" x2="376.50" y2="197.70" stroke="#555555" stroke-width="0.9"/>
<rect x="360.79" y="157.50" width="20.94" height="23.50" fill="#93c8de" stroke="#555555" stroke-width="0.9"/>
<line x1="360.79" y1="177.50" x2="381.73" y2="177.50" stroke="#555555" stroke-width="0.9"/>
<text x="371.26" y="229.20" font-size="4.1" text-anchor="middle" textLength="22.50" lengthAdjust="spacingAndGlyphs" stroke="#000" stroke-width="0.1">2-ResGCNet</text>
<circle class="d" cx="371.26" cy="142.50" r="1.0"/>
<circle class="d" cx="371.26" cy="146.42" r="1.0"/>
<circle class="d" cx="373.26" cy="147.97" r="1.0"/>
<circle class="d" cx="371.26" cy="149.56" r="1.0"/>
<circle class="d" cx="369.26" cy="149.70" r="1.0"/>
<circle class="d" cx="373.26" cy="150.57" r="1.0"/>
<circle class="d" cx="375.26" cy="151.22" r="1.0"/>
<circle class="d" cx="371.26" cy="151.62" r="1.0"/>
<circle class="d" cx="371.26" cy="158.95" r="1.0"/>
<circle class="d" cx="371.26" cy="163.76" r="1.0"/>
<circle class="d" cx="371.26" cy="169.03" r="1.0"/>
<circle class="d" cx="373.26" cy="169.59" r="1.0"/>
<circle class="d" cx="371.26" cy="171.71" r="1.0"/>
<circle class="d" cx="371.26" cy="173.69" r="1.0"/>
<circle class="d" cx="371.26" cy="176.83" r="1.0"/>
<circle class="d" cx="373.26" cy="177.02" r="1.0"/>
<circle class="d" cx="369.26" cy="177.87" r="1.0"/>
<circle class="d" cx="375.26" cy="178.47" r="1.0"/>
<circle class="d" cx="372.26" cy="178.70" r="1.0"/>
<circle class="d" cx="370.26" cy="180.30" r="1.0"/>
<circle class="d" cx="371.26" cy="185.82" r="1.0"/>
<circle class="d" cx="371.26" cy="191.73" r="1.0"/>
<circle class="d" cx="373.26" cy="191.91" r="1.0"/>
<circle class="d" cx="371.26" cy="197.70" r="1.0"/>
<line x1="397.44" y1="143.30" x2="397.44" y2="154.70" stroke="#555555" stroke-width="0.9"/>
<line x1="397.44" y1="185.30" x2="397.44" y2="203.20" stroke="#555555" stroke-width="0.9"/>
<line x1="392.20" y1="143.30" x2="402.67" y2="143.30" stroke="#555555" stroke-width="0.9"/>
<line x1="392.20" y1="203.20" x2="402.67" y2="203.20" stroke="#555555" stroke-width="0.9"/>
<rect x="386.97" y="154.70" width="20.94" height="30.60" fill="#f9ecd9" stroke="#555555" stroke-width="0.9"/>
<line x1="386.97" y1="178.30" x2="407.91" y2="178.30" stroke="#555555" stroke-width="0.9"/>
<text x="397.44" y="229.20" font-size="4.1" text-anchor="middle" textLength="22.50" lengthAdjust="spacingAndGlyphs" stroke="#000" stroke-width="0.1">6-ResGCNet</text>
<circle class="d" cx="397.44" cy="143.30" r="1.0"/>
<circle class="d" cx="399.44" cy="143.42" r="1.0"/>
<circle class="d" cx="397.44" cy="147.66" r="1.0"/>
<circle class="d" cx="397.44" cy="151.85" r="1.0"/>
<circle class="d" cx="397.44" cy="154.99" r="1.0"/>
<circle class="d" cx="397.44" cy="165.78" r="1.0"/>
<circle class="d" cx="399.44" cy="166.37" r="1.0"/>
<circle class="d" cx="397.44" cy="172.77" r="1.0"/>
<circle class="d" cx="397.44" cy="175.03" r="1.0"/>
<circle class="d" cx="397.44" cy="179.11" r="1.0"/>
<circle class="d" cx="398.44" cy="180.74" r="1.0"/>
<circle class="d" cx="396.44" cy="182.34" r="1.0"/>
<circle class="d" cx="398.44" cy="182.70" r="1.0"/>
<circle class="d" cx="400.44" cy="183.32" r="1.0"/>
<circle class="d" cx="394.44" cy="183.76" r="1.0"/>
<circle class="d" cx="397.44" cy="184.45" r="1.0"/>
<circle class="d" cx="402.44" cy="184.56" r="1.0"/>
<circle class="d" cx="397.44" cy="188.69" r="1.0"/>
<circle class="d" cx="399.44" cy="189.20" r="1.0"/>
<circle class="d" cx="397.44" cy="191.65" r="1.0"/>
<circle class="d" cx="397.44" cy="195.97" r="1.0"/>
<circle class="d" cx="397.44" cy="199.88" r="1.0"/>
<circle class="d" cx="399.44" cy="200.10" r="1.0"/>
<circle class="d" cx="397.44" cy="203.20" r="1.0"/>
<line x1="423.61" y1="140.80" x2="423.61" y2="151.70" stroke="#555555" stroke-width="0.9"/>
<line x1="423.61" y1="175.30" x2="423.61" y2="184.70" stroke="#555555" stroke-width="0.9"/>
<line x1="418.38" y1="140.80" x2="428.85" y2="140.80" stroke="#555555" stroke-width="0.9"/>
<line x1="418.38" y1="184.70" x2="428.85" y2="184.70" stroke="#555555" stroke-width="0.9"/>
<rect x="413.14" y="151.70" width="20.94" height="23.60" fill="#20dfdf" stroke="#555555" stroke-width="0.9"/>
<line x1="413.14" y1="169.50" x2="434.08" y2="169.50" stroke="#555555" stroke-width="0.9"/>
<text x="423.61" y="229.20" font-size="4.1" text-anchor="middle" textLength="16.60" lengthAdjust="spacingAndGlyphs" stroke="#000" stroke-width="0.1">Proposed</text>
<circle class="d" cx="423.61" cy="140.80" r="1.0"/>
<circle class="d" cx="425.61" cy="142.28" r="1.0"/>
<circle class="d" cx="422.61" cy="142.55" r="1.0"/>
<circle class="d" cx="420.61" cy="142.77" r="1.0"/>
<circle class="d" cx="427.61" cy="143.27" r="1.0"/>
<circle class="d" cx="423.61" cy="145.34" r="1.0"/>
<circle class="d" cx="423.61" cy="148.74" r="1.0"/>
<circle class="d" cx="424.61" cy="150.60" r="1.0"/>
<circle class="d" cx="422.61" cy="151.04" r="1.0"/>
<circle class="d" cx="423.61" cy="152.78" r="1.0"/>
<circle class="d" cx="423.61" cy="155.45" r="1.0"/>
<circle class="d" cx="423.61" cy="160.92" r="1.0"/>
<circle class="d" cx="425.61" cy="161.28" r="1.0"/>
<circle class="d" cx="423.61" cy="170.45" r="1.0"/>
<circle class="d" cx="425.61" cy="171.58" r="1.0"/>
<circle class="d" cx="423.61" cy="173.42" r="1.0"/>
<circle class="d" cx="425.61" cy="174.40" r="1.0"/>
<circle class="d" cx="423.61" cy="175.77" r="1.0"/>
<circle class="d" cx="421.61" cy="176.09" r="1.0"/>
<circle class="d" cx="423.61" cy="178.02" r="1.0"/>
<circle class="d" cx="423.61" cy="182.38" r="1.0"/>
<circle class="d" cx="425.61" cy="183.09" r="1.0"/>
<circle class="d" cx="422.61" cy="184.02" r="1.0"/>
<circle class="d" cx="420.61" cy="184.70" r="1.0"/>
<rect x="332.00" y="137.00" width="104.70" height="86.20" fill="none" stroke="#1a1a1a" stroke-width="0.9"/>
<line x1="453.50" y1="141.30" x2="455.30" y2="141.30" stroke="#1a1a1a" stroke-width="0.7"/>
<text x="452.40" y="142.70" font-size="3.9" text-anchor="end" textLength="5.60" lengthAdjust="spacingAndGlyphs" stroke="#000" stroke-width="0.2">1.0</text>
<line x1="453.50" y1="152.55" x2="455.30" y2="152.55" stroke="#1a1a1a" stroke-width="0.7"/>
<text x="452.40" y="153.95" font-size="3.9" text-anchor="end" textLength="5.60" lengthAdjust="spacingAndGlyphs" stroke="#000" stroke-width="0.2">0.9</text>
<line x1="453.50" y1="163.80" x2="455.30" y2="163.80" stroke="#1a1a1a" stroke-width="0.7"/>
<text x="452.40" y="165.20" font-size="3.9" text-anchor="end" textLength="5.60" lengthAdjust="spacingAndGlyphs" stroke="#000" stroke-width="0.2">0.8</text>
<line x1="453.50" y1="175.05" x2="455.30" y2="175.05" stroke="#1a1a1a" stroke-width="0.7"/>
<text x="452.40" y="176.45" font-size="3.9" text-anchor="end" textLength="5.60" lengthAdjust="spacingAndGlyphs" stroke="#000" stroke-width="0.2">0.7</text>
<line x1="453.50" y1="186.30" x2="455.30" y2="186.30" stroke="#1a1a1a" stroke-width="0.7"/>
<text x="452.40" y="187.70" font-size="3.9" text-anchor="end" textLength="5.60" lengthAdjust="spacingAndGlyphs" stroke="#000" stroke-width="0.2">0.6</text>
<line x1="453.50" y1="197.55" x2="455.30" y2="197.55" stroke="#1a1a1a" stroke-width="0.7"/>
<text x="452.40" y="198.95" font-size="3.9" text-anchor="end" textLength="5.60" lengthAdjust="spacingAndGlyphs" stroke="#000" stroke-width="0.2">0.5</text>
<line x1="453.50" y1="208.80" x2="455.30" y2="208.80" stroke="#1a1a1a" stroke-width="0.7"/>
<text x="452.40" y="210.20" font-size="3.9" text-anchor="end" textLength="5.60" lengthAdjust="spacingAndGlyphs" stroke="#000" stroke-width="0.2">0.4</text>
<line x1="453.50" y1="220.05" x2="455.30" y2="220.05" stroke="#1a1a1a" stroke-width="0.7"/>
<text x="452.40" y="221.45" font-size="3.9" text-anchor="end" textLength="5.60" lengthAdjust="spacingAndGlyphs" stroke="#000" stroke-width="0.2">0.3</text>
<text x="0" y="0" font-size="5.8" text-anchor="middle" textLength="23.90" lengthAdjust="spacingAndGlyphs" transform="translate(444.80,180.40) rotate(-90)" stroke="#000" stroke-width="0.15">Precision</text>
<line x1="468.44" y1="155.40" x2="468.44" y2="165.90" stroke="#555555" stroke-width="0.9"/>
<line x1="468.44" y1="187.70" x2="468.44" y2="219.00" stroke="#555555" stroke-width="0.9"/>
<line x1="463.18" y1="155.40" x2="473.69" y2="155.40" stroke="#555555" stroke-width="0.9"/>
<line x1="463.18" y1="219.00" x2="473.69" y2="219.00" stroke="#555555" stroke-width="0.9"/>
<rect x="457.93" y="165.90" width="21.02" height="21.80" fill="#a3eca3" stroke="#555555" stroke-width="0.9"/>
<line x1="457.93" y1="177.10" x2="478.95" y2="177.10" stroke="#555555" stroke-width="0.9"/>
<text x="468.44" y="229.00" font-size="4.1" text-anchor="middle" textLength="24.60" lengthAdjust="spacingAndGlyphs" stroke="#000" stroke-width="0.1">1D-ResNet34</text>
<circle class="d" cx="468.44" cy="155.40" r="1.0"/>
<circle class="d" cx="468.44" cy="157.78" r="1.0"/>
<circle class="d" cx="470.44" cy="157.82" r="1.0"/>
<circle class="d" cx="466.44" cy="158.66" r="1.0"/>
<circle class="d" cx="472.44" cy="158.91" r="1.0"/>
<circle class="d" cx="469.44" cy="159.56" r="1.0"/>
<circle class="d" cx="468.44" cy="164.00" r="1.0"/>
<circle class="d" cx="470.44" cy="165.24" r="1.0"/>
<circle class="d" cx="468.44" cy="166.27" r="1.0"/>
<circle class="d" cx="466.44" cy="166.35" r="1.0"/>
<circle class="d" cx="468.44" cy="170.43" r="1.0"/>
<circle class="d" cx="470.44" cy="171.59" r="1.0"/>
<circle class="d" cx="468.44" cy="173.79" r="1.0"/>
<circle class="d" cx="470.44" cy="175.14" r="1.0"/>
<circle class="d" cx="468.44" cy="178.41" r="1.0"/>
<circle class="d" cx="470.44" cy="178.56" r="1.0"/>
<circle class="d" cx="468.44" cy="186.45" r="1.0"/>
<circle class="d" cx="469.44" cy="188.13" r="1.0"/>
<circle class="d" cx="468.44" cy="191.87" r="1.0"/>
<circle class="d" cx="468.44" cy="199.02" r="1.0"/>
<circle class="d" cx="468.44" cy="204.83" r="1.0"/>
<circle class="d" cx="468.44" cy="215.37" r="1.0"/>
<circle class="d" cx="468.44" cy="217.36" r="1.0"/>
<circle class="d" cx="469.44" cy="219.00" r="1.0"/>
<line x1="494.71" y1="150.10" x2="494.71" y2="163.30" stroke="#555555" stroke-width="0.9"/>
<line x1="494.71" y1="181.50" x2="494.71" y2="205.50" stroke="#555555" stroke-width="0.9"/>
<line x1="489.46" y1="150.10" x2="499.97" y2="150.10" stroke="#555555" stroke-width="0.9"/>
<line x1="489.46" y1="205.50" x2="499.97" y2="205.50" stroke="#555555" stroke-width="0.9"/>
<rect x="484.20" y="163.30" width="21.02" height="18.20" fill="#93c8de" stroke="#555555" stroke-width="0.9"/>
<line x1="484.20" y1="175.40" x2="505.22" y2="175.40" stroke="#555555" stroke-width="0.9"/>
<text x="494.71" y="229.00" font-size="4.1" text-anchor="middle" textLength="22.50" lengthAdjust="spacingAndGlyphs" stroke="#000" stroke-width="0.1">2-ResGCNet</text>
<circle class="d" cx="494.71" cy="150.10" r="1.0"/>
<circle class="d" cx="496.71" cy="151.03" r="1.0"/>
<circle class="d" cx="493.71" cy="151.87" r="1.0"/>
<circle class="d" cx="491.71" cy="152.13" r="1.0"/>
<circle class="d" cx="495.71" cy="153.22" r="1.0"/>
<circle class="d" cx="494.71" cy="155.71" r="1.0"/>
<circle class="d" cx="496.71" cy="156.84" r="1.0"/>
<circle class="d" cx="492.71" cy="156.89" r="1.0"/>
<circle class="d" cx="494.71" cy="160.81" r="1.0"/>
<circle class="d" cx="494.71" cy="166.17" r="1.0"/>
<circle class="d" cx="496.71" cy="166.79" r="1.0"/>
<circle class="d" cx="494.71" cy="169.72" r="1.0"/>
<circle class="d" cx="494.71" cy="173.50" r="1.0"/>
<circle class="d" cx="494.71" cy="178.79" r="1.0"/>
<circle class="d" cx="496.71" cy="180.31" r="1.0"/>
<circle class="d" cx="493.71" cy="180.54" r="1.0"/>
<circle class="d" cx="494.71" cy="184.81" r="1.0"/>
<circle class="d" cx="496.71" cy="185.39" r="1.0"/>
<circle class="d" cx="492.71" cy="185.84" r="1.0"/>
<circle class="d" cx="494.71" cy="189.57" r="1.0"/>
<circle class="d" cx="494.71" cy="192.18" r="1.0"/>
<circle class="d" cx="496.71" cy="193.34" r="1.0"/>
<circle class="d" cx="494.71" cy="205.33" r="1.0"/>
<circle class="d" cx="496.71" cy="205.50" r="1.0"/>
<line x1="520.99" y1="147.50" x2="520.99" y2="164.10" stroke="#555555" stroke-width="0.9"/>
<line x1="520.99" y1="189.20" x2="520.99" y2="205.90" stroke="#555555" stroke-width="0.9"/>
<line x1="515.73" y1="147.50" x2="526.24" y2="147.50" stroke="#555555" stroke-width="0.9"/>
<line x1="515.73" y1="205.90" x2="526.24" y2="205.90" stroke="#555555" stroke-width="0.9"/>
<rect x="510.48" y="164.10" width="21.02" height="25.10" fill="#f9ecd9" stroke="#555555" stroke-width="0.9"/>
<line x1="510.48" y1="180.60" x2="531.50" y2="180.60" stroke="#555555" stroke-width="0.9"/>
<text x="520.99" y="229.00" font-size="4.1" text-anchor="middle" textLength="22.50" lengthAdjust="spacingAndGlyphs" stroke="#000" stroke-width="0.1">6-ResGCNet</text>
<circle class="d" cx="520.99" cy="147.50" r="1.0"/>
<circle class="d" cx="521.99" cy="149.15" r="1.0"/>
<circle class="d" cx="520.99" cy="157.80" r="1.0"/>
<circle class="d" cx="521.99" cy="159.55" r="1.0"/>
<circle class="d" cx="520.99" cy="161.59" r="1.0"/>
<circle class="d" cx="520.99" cy="164.11" r="1.0"/>
<circle class="d" cx="520.99" cy="167.09" r="1.0"/>
<circle class="d" cx="521.99" cy="168.86" r="1.0"/>
<circle class="d" cx="520.99" cy="173.79" r="1.0"/>
<circle class="d" cx="521.99" cy="175.42" r="1.0"/>
<circle class="d" cx="520.99" cy="181.25" r="1.0"/>
<circle class="d" cx="522.99" cy="181.26" r="1.0"/>
<circle class="d" cx="520.99" cy="185.20" r="1.0"/>
<circle class="d" cx="522.99" cy="186.18" r="1.0"/>
<circle class="d" cx="519.99" cy="186.94" r="1.0"/>
<circle class="d" cx="517.99" cy="187.14" r="1.0"/>
<circle class="d" cx="524.99" cy="187.43" r="1.0"/>
<circle class="d" cx="520.99" cy="196.17" r="1.0"/>
<circle class="d" cx="520.99" cy="201.55" r="1.0"/>
<circle class="d" cx="522.99" cy="202.09" r="1.0"/>
<circle class="d" cx="520.99" cy="204.37" r="1.0"/>
<circle class="d" cx="522.99" cy="204.69" r="1.0"/>
<circle class="d" cx="518.99" cy="205.67" r="1.0"/>
<circle class="d" cx="524.99" cy="205.90" r="1.0"/>
<line x1="547.26" y1="141.00" x2="547.26" y2="159.40" stroke="#555555" stroke-width="0.9"/>
<line x1="547.26" y1="181.50" x2="547.26" y2="188.50" stroke="#555555" stroke-width="0.9"/>
<line x1="542.01" y1="141.00" x2="552.52" y2="141.00" stroke="#555555" stroke-width="0.9"/>
<line x1="542.01" y1="188.50" x2="552.52" y2="188.50" stroke="#555555" stroke-width="0.9"/>
<rect x="536.75" y="159.40" width="21.02" height="22.10" fill="#20dfdf" stroke="#555555" stroke-width="0.9"/>
<line x1="536.75" y1="169.90" x2="557.77" y2="169.90" stroke="#555555" stroke-width="0.9"/>
<text x="547.26" y="229.00" font-size="4.1" text-anchor="middle" textLength="16.60" lengthAdjust="spacingAndGlyphs" stroke="#000" stroke-width="0.1">Proposed</text>
<circle class="d" cx="547.26" cy="141.00" r="1.0"/>
<circle class="d" cx="547.26" cy="144.30" r="1.0"/>
<circle class="d" cx="549.26" cy="144.99" r="1.0"/>
<circle class="d" cx="545.26" cy="145.27" r="1.0"/>
<circle class="d" cx="551.26" cy="146.18" r="1.0"/>
<circle class="d" cx="547.26" cy="147.03" r="1.0"/>
<circle class="d" cx="547.26" cy="151.33" r="1.0"/>
<circle class="d" cx="547.26" cy="155.92" r="1.0"/>
<circle class="d" cx="549.26" cy="157.52" r="1.0"/>
<circle class="d" cx="547.26" cy="158.98" r="1.0"/>
<circle class="d" cx="549.26" cy="159.47" r="1.0"/>
<circle class="d" cx="547.26" cy="165.25" r="1.0"/>
<circle class="d" cx="547.26" cy="168.86" r="1.0"/>
<circle class="d" cx="547.26" cy="176.64" r="1.0"/>
<circle class="d" cx="549.26" cy="177.12" r="1.0"/>
<circle class="d" cx="545.26" cy="177.29" r="1.0"/>
<circle class="d" cx="547.26" cy="183.00" r="1.0"/>
<circle class="d" cx="549.26" cy="183.43" r="1.0"/>
<circle class="d" cx="547.26" cy="185.47" r="1.0"/>
<circle class="d" cx="549.26" cy="185.95" r="1.0"/>
<circle class="d" cx="546.26" cy="187.19" r="1.0"/>
<circle class="d" cx="544.26" cy="187.47" r="1.0"/>
<circle class="d" cx="548.26" cy="188.25" r="1.0"/>
<circle class="d" cx="550.26" cy="188.50" r="1.0"/>
<rect x="455.30" y="137.00" width="105.10" height="86.00" fill="none" stroke="#1a1a1a" stroke-width="0.9"/>
<line x1="576.40" y1="146.80" x2="578.20" y2="146.80" stroke="#1a1a1a" stroke-width="0.7"/>
<text x="575.30" y="148.20" font-size="3.9" text-anchor="end" textLength="5.60" lengthAdjust="spacingAndGlyphs" stroke="#000" stroke-width="0.2">0.9</text>
<line x1="576.40" y1="157.30" x2="578.20" y2="157.30" stroke="#1a1a1a" stroke-width="0.7"/>
<text x="575.30" y="158.70" font-size="3.9" text-anchor="end" textLength="5.60" lengthAdjust="spacingAndGlyphs" stroke="#000" stroke-width="0.2">0.8</text>
<line x1="576.40" y1="167.80" x2="578.20" y2="167.80" stroke="#1a1a1a" stroke-width="0.7"/>
<text x="575.30" y="169.20" font-size="3.9" text-anchor="end" textLength="5.60" lengthAdjust="spacingAndGlyphs" stroke="#000" stroke-width="0.2">0.7</text>
<line x1="576.40" y1="178.30" x2="578.20" y2="178.30" stroke="#1a1a1a" stroke-width="0.7"/>
<text x="575.30" y="179.70" font-size="3.9" text-anchor="end" textLength="5.60" lengthAdjust="spacingAndGlyphs" stroke="#000" stroke-width="0.2">0.6</text>
<line x1="576.40" y1="188.80" x2="578.20" y2="188.80" stroke="#1a1a1a" stroke-width="0.7"/>
<text x="575.30" y="190.20" font-size="3.9" text-anchor="end" textLength="5.60" lengthAdjust="spacingAndGlyphs" stroke="#000" stroke-width="0.2">0.5</text>
<line x1="576.40" y1="199.30" x2="578.20" y2="199.30" stroke="#1a1a1a" stroke-width="0.7"/>
<text x="575.30" y="200.70" font-size="3.9" text-anchor="end" textLength="5.60" lengthAdjust="spacingAndGlyphs" stroke="#000" stroke-width="0.2">0.4</text>
<line x1="576.40" y1="209.80" x2="578.20" y2="209.80" stroke="#1a1a1a" stroke-width="0.7"/>
<text x="575.30" y="211.20" font-size="3.9" text-anchor="end" textLength="5.60" lengthAdjust="spacingAndGlyphs" stroke="#000" stroke-width="0.2">0.3</text>
<line x1="576.40" y1="220.30" x2="578.20" y2="220.30" stroke="#1a1a1a" stroke-width="0.7"/>
<text x="575.30" y="221.70" font-size="3.9" text-anchor="end" textLength="5.60" lengthAdjust="spacingAndGlyphs" stroke="#000" stroke-width="0.2">0.2</text>
<text x="0" y="0" font-size="5.8" text-anchor="middle" textLength="15.30" lengthAdjust="spacingAndGlyphs" transform="translate(567.70,180.55) rotate(-90)" stroke="#000" stroke-width="0.15">Recall</text>
<line x1="591.36" y1="150.50" x2="591.36" y2="163.80" stroke="#555555" stroke-width="0.9"/>
<line x1="591.36" y1="196.50" x2="591.36" y2="219.30" stroke="#555555" stroke-width="0.9"/>
<line x1="586.10" y1="150.50" x2="596.63" y2="150.50" stroke="#555555" stroke-width="0.9"/>
<line x1="586.10" y1="219.30" x2="596.63" y2="219.30" stroke="#555555" stroke-width="0.9"/>
<rect x="580.83" y="163.80" width="21.06" height="32.70" fill="#a3eca3" stroke="#555555" stroke-width="0.9"/>
<line x1="580.83" y1="175.10" x2="601.89" y2="175.10" stroke="#555555" stroke-width="0.9"/>
<text x="591.36" y="229.00" font-size="4.1" text-anchor="middle" textLength="24.60" lengthAdjust="spacingAndGlyphs" stroke="#000" stroke-width="0.1">1D-ResNet34</text>
<circle class="d" cx="591.36" cy="150.50" r="1.0"/>
<circle class="d" cx="591.36" cy="159.97" r="1.0"/>
<circle class="d" cx="593.36" cy="160.87" r="1.0"/>
<circle class="d" cx="589.36" cy="160.96" r="1.0"/>
<circle class="d" cx="595.36" cy="161.04" r="1.0"/>
<circle class="d" cx="587.36" cy="161.49" r="1.0"/>
<circle class="d" cx="591.36" cy="162.73" r="1.0"/>
<circle class="d" cx="593.36" cy="163.28" r="1.0"/>
<circle class="d" cx="591.36" cy="164.71" r="1.0"/>
<circle class="d" cx="591.36" cy="166.71" r="1.0"/>
<circle class="d" cx="593.36" cy="166.87" r="1.0"/>
<circle class="d" cx="589.36" cy="167.74" r="1.0"/>
<circle class="d" cx="591.36" cy="172.68" r="1.0"/>
<circle class="d" cx="593.36" cy="173.37" r="1.0"/>
<circle class="d" cx="591.36" cy="176.38" r="1.0"/>
<circle class="d" cx="593.36" cy="177.65" r="1.0"/>
<circle class="d" cx="591.36" cy="182.46" r="1.0"/>
<circle class="d" cx="591.36" cy="185.96" r="1.0"/>
<circle class="d" cx="591.36" cy="194.56" r="1.0"/>
<circle class="d" cx="593.36" cy="195.17" r="1.0"/>
<circle class="d" cx="589.36" cy="195.51" r="1.0"/>
<circle class="d" cx="591.36" cy="201.70" r="1.0"/>
<circle class="d" cx="591.36" cy="219.26" r="1.0"/>
<circle class="d" cx="593.36" cy="219.30" r="1.0"/>
<line x1="617.69" y1="143.40" x2="617.69" y2="158.30" stroke="#555555" stroke-width="0.9"/>
<line x1="617.69" y1="186.50" x2="617.69" y2="202.40" stroke="#555555" stroke-width="0.9"/>
<line x1="612.42" y1="143.40" x2="622.95" y2="143.40" stroke="#555555" stroke-width="0.9"/>
<line x1="612.42" y1="202.40" x2="622.95" y2="202.40" stroke="#555555" stroke-width="0.9"/>
<rect x="607.16" y="158.30" width="21.06" height="28.20" fill="#93c8de" stroke="#555555" stroke-width="0.9"/>
<line x1="607.16" y1="170.20" x2="628.22" y2="170.20" stroke="#555555" stroke-width="0.9"/>
<text x="617.69" y="229.00" font-size="4.1" text-anchor="middle" textLength="22.50" lengthAdjust="spacingAndGlyphs" stroke="#000" stroke-width="0.1">2-ResGCNet</text>
<circle class="d" cx="617.69" cy="143.40" r="1.0"/>
<circle class="d" cx="619.69" cy="144.81" r="1.0"/>
<circle class="d" cx="617.69" cy="146.30" r="1.0"/>
<circle class="d" cx="619.69" cy="147.41" r="1.0"/>
<circle class="d" cx="617.69" cy="148.79" r="1.0"/>
<circle class="d" cx="617.69" cy="152.68" r="1.0"/>
<circle class="d" cx="617.69" cy="154.99" r="1.0"/>
<circle class="d" cx="619.69" cy="155.04" r="1.0"/>
<circle class="d" cx="615.69" cy="155.30" r="1.0"/>
<circle class="d" cx="617.69" cy="160.78" r="1.0"/>
<circle class="d" cx="617.69" cy="162.80" r="1.0"/>
<circle class="d" cx="619.69" cy="163.32" r="1.0"/>
<circle class="d" cx="615.69" cy="163.78" r="1.0"/>
<circle class="d" cx="617.69" cy="165.98" r="1.0"/>
<circle class="d" cx="617.69" cy="169.50" r="1.0"/>
<circle class="d" cx="617.69" cy="173.77" r="1.0"/>
<circle class="d" cx="617.69" cy="179.30" r="1.0"/>
<circle class="d" cx="618.69" cy="180.92" r="1.0"/>
<circle class="d" cx="617.69" cy="183.81" r="1.0"/>
<circle class="d" cx="617.69" cy="189.62" r="1.0"/>
<circle class="d" cx="619.69" cy="189.86" r="1.0"/>
<circle class="d" cx="617.69" cy="196.44" r="1.0"/>
<circle class="d" cx="619.69" cy="196.48" r="1.0"/>
<circle class="d" cx="617.69" cy="202.40" r="1.0"/>
<line x1="644.01" y1="141.90" x2="644.01" y2="156.10" stroke="#555555" stroke-width="0.9"/>
<line x1="644.01" y1="182.50" x2="644.01" y2="203.40" stroke="#555555" stroke-width="0.9"/>
<line x1="638.75" y1="141.90" x2="649.28" y2="141.90" stroke="#555555" stroke-width="0.9"/>
<line x1="638.75" y1="203.40" x2="649.28" y2="203.40" stroke="#555555" stroke-width="0.9"/>
<rect x="633.48" y="156.10" width="21.06" height="26.40" fill="#f9ecd9" stroke="#555555" stroke-width="0.9"/>
<line x1="633.48" y1="173.30" x2="654.54" y2="173.30" stroke="#555555" stroke-width="0.9"/>
<text x="644.01" y="229.00" font-size="4.1" text-anchor="middle" textLength="22.50" lengthAdjust="spacingAndGlyphs" stroke="#000" stroke-width="0.1">6-ResGCNet</text>
<circle class="d" cx="644.01" cy="141.90" r="1.0"/>
<circle class="d" cx="644.01" cy="147.33" r="1.0"/>
<circle class="d" cx="646.01" cy="148.71" r="1.0"/>
<circle class="d" cx="644.01" cy="149.54" r="1.0"/>
<circle class="d" cx="644.01" cy="154.51" r="1.0"/>
<circle class="d" cx="644.01" cy="159.66" r="1.0"/>
<circle class="d" cx="644.01" cy="162.10" r="1.0"/>
<circle class="d" cx="644.01" cy="166.30" r="1.0"/>
<circle class="d" cx="646.01" cy="167.17" r="1.0"/>
<circle class="d" cx="644.01" cy="171.56" r="1.0"/>
<circle class="d" cx="644.01" cy="173.90" r="1.0"/>
<circle class="d" cx="644.01" cy="178.40" r="1.0"/>
<circle class="d" cx="646.01" cy="179.45" r="1.0"/>
<circle class="d" cx="643.01" cy="180.21" r="1.0"/>
<circle class="d" cx="641.01" cy="180.50" r="1.0"/>
<circle class="d" cx="644.01" cy="185.85" r="1.0"/>
<circle class="d" cx="646.01" cy="187.00" r="1.0"/>
<circle class="d" cx="644.01" cy="191.85" r="1.0"/>
<circle class="d" cx="645.01" cy="193.63" r="1.0"/>
<circle class="d" cx="644.01" cy="195.90" r="1.0"/>
<circle class="d" cx="644.01" cy="201.02" r="1.0"/>
<circle class="d" cx="646.01" cy="201.97" r="1.0"/>
<circle class="d" cx="642.01" cy="202.35" r="1.0"/>
<circle class="d" cx="644.01" cy="203.40" r="1.0"/>
<line x1="670.34" y1="141.00" x2="670.34" y2="156.50" stroke="#555555" stroke-width="0.9"/>
<line x1="670.34" y1="178.00" x2="670.34" y2="191.40" stroke="#555555" stroke-width="0.9"/>
<line x1="665.07" y1="141.00" x2="675.60" y2="141.00" stroke="#555555" stroke-width="0.9"/>
<line x1="665.07" y1="191.40" x2="675.60" y2="191.40" stroke="#555555" stroke-width="0.9"/>
<rect x="659.81" y="156.50" width="21.06" height="21.50" fill="#20dfdf" stroke="#555555" stroke-width="0.9"/>
<line x1="659.81" y1="170.20" x2="680.87" y2="170.20" stroke="#555555" stroke-width="0.9"/>
<text x="670.34" y="229.00" font-size="4.1" text-anchor="middle" textLength="16.60" lengthAdjust="spacingAndGlyphs" stroke="#000" stroke-width="0.1">Proposed</text>
<circle class="d" cx="670.34" cy="141.00" r="1.0"/>
<circle class="d" cx="672.34" cy="141.01" r="1.0"/>
<circle class="d" cx="668.34" cy="142.18" r="1.0"/>
<circle class="d" cx="674.34" cy="142.29" r="1.0"/>
<circle class="d" cx="670.34" cy="147.68" r="1.0"/>
<circle class="d" cx="672.34" cy="147.85" r="1.0"/>
<circle class="d" cx="670.34" cy="151.46" r="1.0"/>
<circle class="d" cx="670.34" cy="153.64" r="1.0"/>
<circle class="d" cx="670.34" cy="156.70" r="1.0"/>
<circle class="d" cx="670.34" cy="158.93" r="1.0"/>
<circle class="d" cx="670.34" cy="160.87" r="1.0"/>
<circle class="d" cx="670.34" cy="163.61" r="1.0"/>
<circle class="d" cx="670.34" cy="169.29" r="1.0"/>
<circle class="d" cx="671.34" cy="171.11" r="1.0"/>
<circle class="d" cx="669.34" cy="171.85" r="1.0"/>
<circle class="d" cx="673.34" cy="172.61" r="1.0"/>
<circle class="d" cx="671.34" cy="173.39" r="1.0"/>
<circle class="d" cx="668.34" cy="173.66" r="1.0"/>
<circle class="d" cx="666.34" cy="174.02" r="1.0"/>
<circle class="d" cx="670.34" cy="176.25" r="1.0"/>
<circle class="d" cx="670.34" cy="178.25" r="1.0"/>
<circle class="d" cx="670.34" cy="184.60" r="1.0"/>
<circle class="d" cx="670.34" cy="188.52" r="1.0"/>
<circle class="d" cx="670.34" cy="191.40" r="1.0"/>
<rect x="578.20" y="137.30" width="105.30" height="85.70" fill="none" stroke="#1a1a1a" stroke-width="0.9"/>
<line x1="330.20" y1="269.20" x2="332.00" y2="269.20" stroke="#1a1a1a" stroke-width="0.7"/>
<text x="329.10" y="270.60" font-size="3.9" text-anchor="end" textLength="5.60" lengthAdjust="spacingAndGlyphs" stroke="#000" stroke-width="0.2">0.9</text>
<line x1="330.20" y1="278.99" x2="332.00" y2="278.99" stroke="#1a1a1a" stroke-width="0.7"/>
<text x="329.10" y="280.39" font-size="3.9" text-anchor="end" textLength="5.60" lengthAdjust="spacingAndGlyphs" stroke="#000" stroke-width="0.2">0.8</text>
<line x1="330.20" y1="288.78" x2="332.00" y2="288.78" stroke="#1a1a1a" stroke-width="0.7"/>
<text x="329.10" y="290.18" font-size="3.9" text-anchor="end" textLength="5.60" lengthAdjust="spacingAndGlyphs" stroke="#000" stroke-width="0.2">0.7</text>
<line x1="330.20" y1="298.57" x2="332.00" y2="298.57" stroke="#1a1a1a" stroke-width="0.7"/>
<text x="329.10" y="299.97" font-size="3.9" text-anchor="end" textLength="5.60" lengthAdjust="spacingAndGlyphs" stroke="#000" stroke-width="0.2">0.6</text>
<line x1="330.20" y1="308.36" x2="332.00" y2="308.36" stroke="#1a1a1a" stroke-width="0.7"/>
<text x="329.10" y="309.76" font-size="3.9" text-anchor="end" textLength="5.60" lengthAdjust="spacingAndGlyphs" stroke="#000" stroke-width="0.2">0.5</text>
<line x1="330.20" y1="318.15" x2="332.00" y2="318.15" stroke="#1a1a1a" stroke-width="0.7"/>
<text x="329.10" y="319.55" font-size="3.9" text-anchor="end" textLength="5.60" lengthAdjust="spacingAndGlyphs" stroke="#000" stroke-width="0.2">0.4</text>
<line x1="330.20" y1="327.94" x2="332.00" y2="327.94" stroke="#1a1a1a" stroke-width="0.7"/>
<text x="329.10" y="329.34" font-size="3.9" text-anchor="end" textLength="5.60" lengthAdjust="spacingAndGlyphs" stroke="#000" stroke-width="0.2">0.3</text>
<line x1="330.20" y1="337.73" x2="332.00" y2="337.73" stroke="#1a1a1a" stroke-width="0.7"/>
<text x="329.10" y="339.13" font-size="3.9" text-anchor="end" textLength="5.60" lengthAdjust="spacingAndGlyphs" stroke="#000" stroke-width="0.2">0.2</text>
<line x1="330.20" y1="347.52" x2="332.00" y2="347.52" stroke="#1a1a1a" stroke-width="0.7"/>
<text x="329.10" y="348.92" font-size="3.9" text-anchor="end" textLength="5.60" lengthAdjust="spacingAndGlyphs" stroke="#000" stroke-width="0.2">0.1</text>
<text x="0" y="0" font-size="5.8" text-anchor="middle" textLength="22.50" lengthAdjust="spacingAndGlyphs" transform="translate(321.50,306.40) rotate(-90)" stroke="#000" stroke-width="0.15">F1 Score</text>
<line x1="345.09" y1="267.30" x2="345.09" y2="283.70" stroke="#555555" stroke-width="0.9"/>
<line x1="345.09" y1="316.30" x2="345.09" y2="335.20" stroke="#555555" stroke-width="0.9"/>
<line x1="339.85" y1="267.30" x2="350.32" y2="267.30" stroke="#555555" stroke-width="0.9"/>
<line x1="339.85" y1="335.20" x2="350.32" y2="335.20" stroke="#555555" stroke-width="0.9"/>
<rect x="334.62" y="283.70" width="20.94" height="32.60" fill="#a3eca3" stroke="#555555" stroke-width="0.9"/>
<line x1="334.62" y1="300.30" x2="355.56" y2="300.30" stroke="#555555" stroke-width="0.9"/>
<text x="345.09" y="354.80" font-size="4.1" text-anchor="middle" textLength="24.60" lengthAdjust="spacingAndGlyphs" stroke="#000" stroke-width="0.1">1D-ResNet34</text>
<circle class="d" cx="345.09" cy="267.30" r="1.0"/>
<circle class="d" cx="347.09" cy="268.86" r="1.0"/>
<circle class="d" cx="345.09" cy="270.73" r="1.0"/>
<circle class="d" cx="345.09" cy="276.58" r="1.0"/>
<circle class="d" cx="345.09" cy="278.66" r="1.0"/>
<circle class="d" cx="345.09" cy="290.28" r="1.0"/>
<circle class="d" cx="347.09" cy="291.84" r="1.0"/>
<circle class="d" cx="345.09" cy="295.18" r="1.0"/>
<circle class="d" cx="345.09" cy="297.92" r="1.0"/>
<circle class="d" cx="346.09" cy="299.81" r="1.0"/>
<circle class="d" cx="345.09" cy="304.55" r="1.0"/>
<circle class="d" cx="347.09" cy="305.13" r="1.0"/>
<circle class="d" cx="345.09" cy="306.91" r="1.0"/>
<circle class="d" cx="345.09" cy="308.90" r="1.0"/>
<circle class="d" cx="345.09" cy="311.57" r="1.0"/>
<circle class="d" cx="347.09" cy="312.56" r="1.0"/>
<circle class="d" cx="345.09" cy="313.77" r="1.0"/>
<circle class="d" cx="345.09" cy="318.32" r="1.0"/>
<circle class="d" cx="345.09" cy="323.80" r="1.0"/>
<circle class="d" cx="347.09" cy="324.29" r="1.0"/>
<circle class="d" cx="345.09" cy="325.84" r="1.0"/>
<circle class="d" cx="347.09" cy="326.29" r="1.0"/>
<circle class="d" cx="345.09" cy="328.34" r="1.0"/>
<circle class="d" cx="347.09" cy="329.72" r="1.0"/>
<circle class="d" cx="343.09" cy="329.92" r="1.0"/>
<circle class="d" cx="345.09" cy="330.82" r="1.0"/>
<circle class="d" cx="347.09" cy="331.68" r="1.0"/>
<circle class="d" cx="343.09" cy="332.37" r="1.0"/>
<circle class="d" cx="345.09" cy="335.20" r="1.0"/>
<line x1="371.26" y1="266.70" x2="371.26" y2="284.50" stroke="#555555" stroke-width="0.9"/>
<line x1="371.26" y1="312.70" x2="371.26" y2="343.30" stroke="#555555" stroke-width="0.9"/>
<line x1="366.03" y1="266.70" x2="376.50" y2="266.70" stroke="#555555" stroke-width="0.9"/>
<line x1="366.03" y1="343.30" x2="376.50" y2="343.30" stroke="#555555" stroke-width="0.9"/>
<rect x="360.79" y="284.50" width="20.94" height="28.20" fill="#93c8de" stroke="#555555" stroke-width="0.9"/>
<line x1="360.79" y1="298.30" x2="381.73" y2="298.30" stroke="#555555" stroke-width="0.9"/>
<text x="371.26" y="354.80" font-size="4.1" text-anchor="middle" textLength="22.50" lengthAdjust="spacingAndGlyphs" stroke="#000" stroke-width="0.1">2-ResGCNet</text>
<circle class="d" cx="371.26" cy="266.70" r="1.0"/>
<circle class="d" cx="373.26" cy="268.11" r="1.0"/>
<circle class="d" cx="371.26" cy="275.59" r="1.0"/>
<circle class="d" cx="371.26" cy="279.79" r="1.0"/>
<circle class="d" cx="373.26" cy="281.34" r="1.0"/>
<circle class="d" cx="371.26" cy="283.99" r="1.0"/>
<circle class="d" cx="372.26" cy="285.63" r="1.0"/>
<circle class="d" cx="371.26" cy="287.32" r="1.0"/>
<circle class="d" cx="373.26" cy="288.34" r="1.0"/>
<circle class="d" cx="371.26" cy="290.63" r="1.0"/>
<circle class="d" cx="371.26" cy="293.58" r="1.0"/>
<circle class="d" cx="373.26" cy="293.80" r="1.0"/>
<circle class="d" cx="369.26" cy="294.19" r="1.0"/>
<circle class="d" cx="371.26" cy="295.66" r="1.0"/>
<circle class="d" cx="373.26" cy="296.91" r="1.0"/>
<circle class="d" cx="371.26" cy="301.00" r="1.0"/>
<circle class="d" cx="373.26" cy="302.47" r="1.0"/>
<circle class="d" cx="371.26" cy="303.02" r="1.0"/>
<circle class="d" cx="371.26" cy="305.65" r="1.0"/>
<circle class="d" cx="371.26" cy="309.01" r="1.0"/>
<circle class="d" cx="373.26" cy="309.83" r="1.0"/>
<circle class="d" cx="369.26" cy="310.51" r="1.0"/>
<circle class="d" cx="371.26" cy="313.42" r="1.0"/>
<circle class="d" cx="371.26" cy="318.09" r="1.0"/>
<circle class="d" cx="371.26" cy="321.18" r="1.0"/>
<circle class="d" cx="371.26" cy="328.85" r="1.0"/>
<circle class="d" cx="371.26" cy="335.61" r="1.0"/>
<circle class="d" cx="373.26" cy="336.00" r="1.0"/>
<circle class="d" cx="371.26" cy="343.30" r="1.0"/>
<line x1="397.44" y1="267.50" x2="397.44" y2="286.50" stroke="#555555" stroke-width="0.9"/>
<line x1="397.44" y1="314.70" x2="397.44" y2="337.50" stroke="#555555" stroke-width="0.9"/>
<line x1="392.20" y1="267.50" x2="402.67" y2="267.50" stroke="#555555" stroke-width="0.9"/>
<line x1="392.20" y1="337.50" x2="402.67" y2="337.50" stroke="#555555" stroke-width="0.9"/>
<rect x="386.97" y="286.50" width="20.94" height="28.20" fill="#f9ecd9" stroke="#555555" stroke-width="0.9"/>
<line x1="386.97" y1="298.30" x2="407.91" y2="298.30" stroke="#555555" stroke-width="0.9"/>
<text x="397.44" y="354.80" font-size="4.1" text-anchor="middle" textLength="22.50" lengthAdjust="spacingAndGlyphs" stroke="#000" stroke-width="0.1">6-ResGCNet</text>
<circle class="d" cx="397.44" cy="267.50" r="1.0"/>
<circle class="d" cx="399.44" cy="268.02" r="1.0"/>
<circle class="d" cx="397.44" cy="271.70" r="1.0"/>
<circle class="d" cx="397.44" cy="276.96" r="1.0"/>
<circle class="d" cx="397.44" cy="279.66" r="1.0"/>
<circle class="d" cx="399.44" cy="281.03" r="1.0"/>
<circle class="d" cx="397.44" cy="285.39" r="1.0"/>
<circle class="d" cx="397.44" cy="288.79" r="1.0"/>
<circle class="d" cx="399.44" cy="289.08" r="1.0"/>
<circle class="d" cx="395.44" cy="290.34" r="1.0"/>
<circle class="d" cx="401.44" cy="290.36" r="1.0"/>
<circle class="d" cx="393.44" cy="290.55" r="1.0"/>
<circle class="d" cx="397.44" cy="291.36" r="1.0"/>
<circle class="d" cx="397.44" cy="293.85" r="1.0"/>
<circle class="d" cx="399.44" cy="294.53" r="1.0"/>
<circle class="d" cx="395.44" cy="294.85" r="1.0"/>
<circle class="d" cx="397.44" cy="299.02" r="1.0"/>
<circle class="d" cx="399.44" cy="300.00" r="1.0"/>
<circle class="d" cx="396.44" cy="300.81" r="1.0"/>
<circle class="d" cx="394.44" cy="301.17" r="1.0"/>
<circle class="d" cx="397.44" cy="305.79" r="1.0"/>
<circle class="d" cx="397.44" cy="310.52" r="1.0"/>
<circle class="d" cx="397.44" cy="312.43" r="1.0"/>
<circle class="d" cx="397.44" cy="322.17" r="1.0"/>
<circle class="d" cx="399.44" cy="323.64" r="1.0"/>
<circle class="d" cx="397.44" cy="331.97" r="1.0"/>
<circle class="d" cx="397.44" cy="333.92" r="1.0"/>
<circle class="d" cx="399.44" cy="335.44" r="1.0"/>
<circle class="d" cx="397.44" cy="337.50" r="1.0"/>
<line x1="423.61" y1="266.70" x2="423.61" y2="281.70" stroke="#555555" stroke-width="0.9"/>
<line x1="423.61" y1="310.50" x2="423.61" y2="345.20" stroke="#555555" stroke-width="0.9"/>
<line x1="418.38" y1="266.70" x2="428.85" y2="266.70" stroke="#555555" stroke-width="0.9"/>
<line x1="418.38" y1="345.20" x2="428.85" y2="345.20" stroke="#555555" stroke-width="0.9"/>
<rect x="413.14" y="281.70" width="20.94" height="28.80" fill="#20dfdf" stroke="#555555" stroke-width="0.9"/>
<line x1="413.14" y1="295.30" x2="434.08" y2="295.30" stroke="#555555" stroke-width="0.9"/>
<text x="423.61" y="354.80" font-size="4.1" text-anchor="middle" textLength="16.60" lengthAdjust="spacingAndGlyphs" stroke="#000" stroke-width="0.1">Proposed</text>
<circle class="d" cx="423.61" cy="266.70" r="1.0"/>
<circle class="d" cx="423.61" cy="269.24" r="1.0"/>
<circle class="d" cx="423.61" cy="273.65" r="1.0"/>
<circle class="d" cx="425.61" cy="273.70" r="1.0"/>
<circle class="d" cx="421.61" cy="274.41" r="1.0"/>
<circle class="d" cx="427.61" cy="274.86" r="1.0"/>
<circle class="d" cx="423.61" cy="277.54" r="1.0"/>
<circle class="d" cx="423.61" cy="280.61" r="1.0"/>
<circle class="d" cx="423.61" cy="290.45" r="1.0"/>
<circle class="d" cx="423.61" cy="292.61" r="1.0"/>
<circle class="d" cx="423.61" cy="296.21" r="1.0"/>
<circle class="d" cx="423.61" cy="298.39" r="1.0"/>
<circle class="d" cx="424.61" cy="300.23" r="1.0"/>
<circle class="d" cx="422.61" cy="300.45" r="1.0"/>
<circle class="d" cx="425.61" cy="301.93" r="1.0"/>
<circle class="d" cx="423.61" cy="303.89" r="1.0"/>
<circle class="d" cx="423.61" cy="308.77" r="1.0"/>
<circle class="d" cx="425.61" cy="309.73" r="1.0"/>
<circle class="d" cx="423.61" cy="310.83" r="1.0"/>
<circle class="d" cx="423.61" cy="312.81" r="1.0"/>
<circle class="d" cx="425.61" cy="313.00" r="1.0"/>
<circle class="d" cx="423.61" cy="320.74" r="1.0"/>
<circle class="d" cx="423.61" cy="324.25" r="1.0"/>
<circle class="d" cx="423.61" cy="327.25" r="1.0"/>
<circle class="d" cx="424.61" cy="328.95" r="1.0"/>
<circle class="d" cx="423.61" cy="334.02" r="1.0"/>
<circle class="d" cx="423.61" cy="337.02" r="1.0"/>
<circle class="d" cx="423.61" cy="344.63" r="1.0"/>
<circle class="d" cx="425.61" cy="345.20" r="1.0"/>
<rect x="332.00" y="263.20" width="104.70" height="85.60" fill="none" stroke="#1a1a1a" stroke-width="0.9"/>
<line x1="453.50" y1="272.30" x2="455.30" y2="272.30" stroke="#1a1a1a" stroke-width="0.7"/>
<text x="452.40" y="273.70" font-size="3.9" text-anchor="end" textLength="5.60" lengthAdjust="spacingAndGlyphs" stroke="#000" stroke-width="0.2">0.9</text>
<line x1="453.50" y1="285.50" x2="455.30" y2="285.50" stroke="#1a1a1a" stroke-width="0.7"/>
<text x="452.40" y="286.90" font-size="3.9" text-anchor="end" textLength="5.60" lengthAdjust="spacingAndGlyphs" stroke="#000" stroke-width="0.2">0.8</text>
<line x1="453.50" y1="298.70" x2="455.30" y2="298.70" stroke="#1a1a1a" stroke-width="0.7"/>
<text x="452.40" y="300.10" font-size="3.9" text-anchor="end" textLength="5.60" lengthAdjust="spacingAndGlyphs" stroke="#000" stroke-width="0.2">0.7</text>
<line x1="453.50" y1="311.90" x2="455.30" y2="311.90" stroke="#1a1a1a" stroke-width="0.7"/>
<text x="452.40" y="313.30" font-size="3.9" text-anchor="end" textLength="5.60" lengthAdjust="spacingAndGlyphs" stroke="#000" stroke-width="0.2">0.6</text>
<line x1="453.50" y1="325.10" x2="455.30" y2="325.10" stroke="#1a1a1a" stroke-width="0.7"/>
<text x="452.40" y="326.50" font-size="3.9" text-anchor="end" textLength="5.60" lengthAdjust="spacingAndGlyphs" stroke="#000" stroke-width="0.2">0.5</text>
<line x1="453.50" y1="338.30" x2="455.30" y2="338.30" stroke="#1a1a1a" stroke-width="0.7"/>
<text x="452.40" y="339.70" font-size="3.9" text-anchor="end" textLength="5.60" lengthAdjust="spacingAndGlyphs" stroke="#000" stroke-width="0.2">0.4</text>
<text x="0" y="0" font-size="5.8" text-anchor="middle" textLength="23.90" lengthAdjust="spacingAndGlyphs" transform="translate(444.80,306.35) rotate(-90)" stroke="#000" stroke-width="0.15">Precision</text>
<line x1="468.44" y1="270.00" x2="468.44" y2="285.80" stroke="#555555" stroke-width="0.9"/>
<line x1="468.44" y1="313.00" x2="468.44" y2="336.30" stroke="#555555" stroke-width="0.9"/>
<line x1="463.18" y1="270.00" x2="473.69" y2="270.00" stroke="#555555" stroke-width="0.9"/>
<line x1="463.18" y1="336.30" x2="473.69" y2="336.30" stroke="#555555" stroke-width="0.9"/>
<rect x="457.93" y="285.80" width="21.02" height="27.20" fill="#a3eca3" stroke="#555555" stroke-width="0.9"/>
<line x1="457.93" y1="298.40" x2="478.95" y2="298.40" stroke="#555555" stroke-width="0.9"/>
<text x="468.44" y="354.90" font-size="4.1" text-anchor="middle" textLength="24.60" lengthAdjust="spacingAndGlyphs" stroke="#000" stroke-width="0.1">1D-ResNet34</text>
<circle class="d" cx="468.44" cy="270.00" r="1.0"/>
<circle class="d" cx="470.44" cy="270.06" r="1.0"/>
<circle class="d" cx="466.44" cy="270.53" r="1.0"/>
<circle class="d" cx="468.44" cy="272.38" r="1.0"/>
<circle class="d" cx="468.44" cy="276.19" r="1.0"/>
<circle class="d" cx="468.44" cy="280.71" r="1.0"/>
<circle class="d" cx="468.44" cy="288.08" r="1.0"/>
<circle class="d" cx="468.44" cy="291.25" r="1.0"/>
<circle class="d" cx="470.44" cy="292.34" r="1.0"/>
<circle class="d" cx="468.44" cy="298.69" r="1.0"/>
<circle class="d" cx="468.44" cy="300.79" r="1.0"/>
<circle class="d" cx="470.44" cy="301.14" r="1.0"/>
<circle class="d" cx="468.44" cy="303.79" r="1.0"/>
<circle class="d" cx="469.44" cy="305.46" r="1.0"/>
<circle class="d" cx="467.44" cy="305.57" r="1.0"/>
<circle class="d" cx="468.44" cy="312.02" r="1.0"/>
<circle class="d" cx="470.44" cy="312.51" r="1.0"/>
<circle class="d" cx="466.44" cy="313.24" r="1.0"/>
<circle class="d" cx="468.44" cy="314.47" r="1.0"/>
<circle class="d" cx="470.44" cy="315.17" r="1.0"/>
<circle class="d" cx="468.44" cy="316.78" r="1.0"/>
<circle class="d" cx="470.44" cy="318.38" r="1.0"/>
<circle class="d" cx="468.44" cy="324.53" r="1.0"/>
<circle class="d" cx="470.44" cy="325.70" r="1.0"/>
<circle class="d" cx="468.44" cy="327.95" r="1.0"/>
<circle class="d" cx="470.44" cy="328.36" r="1.0"/>
<circle class="d" cx="468.44" cy="330.42" r="1.0"/>
<circle class="d" cx="468.44" cy="334.44" r="1.0"/>
<circle class="d" cx="469.44" cy="336.30" r="1.0"/>
<line x1="494.71" y1="270.40" x2="494.71" y2="285.10" stroke="#555555" stroke-width="0.9"/>
<line x1="494.71" y1="318.40" x2="494.71" y2="338.40" stroke="#555555" stroke-width="0.9"/>
<line x1="489.46" y1="270.40" x2="499.97" y2="270.40" stroke="#555555" stroke-width="0.9"/>
<line x1="489.46" y1="338.40" x2="499.97" y2="338.40" stroke="#555555" stroke-width="0.9"/>
<rect x="484.20" y="285.10" width="21.02" height="33.30" fill="#93c8de" stroke="#555555" stroke-width="0.9"/>
<line x1="484.20" y1="303.90" x2="505.22" y2="303.90" stroke="#555555" stroke-width="0.9"/>
<text x="494.71" y="354.90" font-size="4.1" text-anchor="middle" textLength="22.50" lengthAdjust="spacingAndGlyphs" stroke="#000" stroke-width="0.1">2-ResGCNet</text>
<circle class="d" cx="494.71" cy="270.40" r="1.0"/>
<circle class="d" cx="494.71" cy="273.34" r="1.0"/>
<circle class="d" cx="496.71" cy="273.57" r="1.0"/>
<circle class="d" cx="492.71" cy="273.57" r="1.0"/>
<circle class="d" cx="494.71" cy="276.20" r="1.0"/>
<circle class="d" cx="496.71" cy="277.40" r="1.0"/>
<circle class="d" cx="492.71" cy="277.57" r="1.0"/>
<circle class="d" cx="494.71" cy="279.60" r="1.0"/>
<circle class="d" cx="494.71" cy="284.26" r="1.0"/>
<circle class="d" cx="494.71" cy="286.68" r="1.0"/>
<circle class="d" cx="494.71" cy="288.70" r="1.0"/>
<circle class="d" cx="496.71" cy="289.51" r="1.0"/>
<circle class="d" cx="492.71" cy="289.60" r="1.0"/>
<circle class="d" cx="494.71" cy="291.80" r="1.0"/>
<circle class="d" cx="496.71" cy="292.64" r="1.0"/>
<circle class="d" cx="494.71" cy="297.77" r="1.0"/>
<circle class="d" cx="496.71" cy="297.96" r="1.0"/>
<circle class="d" cx="494.71" cy="303.63" r="1.0"/>
<circle class="d" cx="496.71" cy="304.04" r="1.0"/>
<circle class="d" cx="492.71" cy="304.56" r="1.0"/>
<circle class="d" cx="494.71" cy="312.21" r="1.0"/>
<circle class="d" cx="496.71" cy="313.27" r="1.0"/>
<circle class="d" cx="494.71" cy="316.33" r="1.0"/>
<circle class="d" cx="494.71" cy="322.89" r="1.0"/>
<circle class="d" cx="494.71" cy="327.03" r="1.0"/>
<circle class="d" cx="496.71" cy="327.60" r="1.0"/>
<circle class="d" cx="494.71" cy="330.59" r="1.0"/>
<circle class="d" cx="494.71" cy="333.25" r="1.0"/>
<circle class="d" cx="494.71" cy="338.40" r="1.0"/>
<line x1="520.99" y1="268.30" x2="520.99" y2="287.20" stroke="#555555" stroke-width="0.9"/>
<line x1="520.99" y1="320.50" x2="520.99" y2="340.30" stroke="#555555" stroke-width="0.9"/>
<line x1="515.73" y1="268.30" x2="526.24" y2="268.30" stroke="#555555" stroke-width="0.9"/>
<line x1="515.73" y1="340.30" x2="526.24" y2="340.30" stroke="#555555" stroke-width="0.9"/>
<rect x="510.48" y="287.20" width="21.02" height="33.30" fill="#f9ecd9" stroke="#555555" stroke-width="0.9"/>
<line x1="510.48" y1="307.40" x2="531.50" y2="307.40" stroke="#555555" stroke-width="0.9"/>
<text x="520.99" y="354.90" font-size="4.1" text-anchor="middle" textLength="22.50" lengthAdjust="spacingAndGlyphs" stroke="#000" stroke-width="0.1">6-ResGCNet</text>
<circle class="d" cx="520.99" cy="268.30" r="1.0"/>
<circle class="d" cx="520.99" cy="270.20" r="1.0"/>
<circle class="d" cx="520.99" cy="275.62" r="1.0"/>
<circle class="d" cx="522.99" cy="276.51" r="1.0"/>
<circle class="d" cx="520.99" cy="280.83" r="1.0"/>
<circle class="d" cx="520.99" cy="285.95" r="1.0"/>
<circle class="d" cx="522.99" cy="286.12" r="1.0"/>
<circle class="d" cx="520.99" cy="291.14" r="1.0"/>
<circle class="d" cx="520.99" cy="294.22" r="1.0"/>
<circle class="d" cx="520.99" cy="305.08" r="1.0"/>
<circle class="d" cx="522.99" cy="306.61" r="1.0"/>
<circle class="d" cx="519.99" cy="306.80" r="1.0"/>
<circle class="d" cx="520.99" cy="311.41" r="1.0"/>
<circle class="d" cx="522.99" cy="312.84" r="1.0"/>
<circle class="d" cx="520.99" cy="313.85" r="1.0"/>
<circle class="d" cx="521.99" cy="315.61" r="1.0"/>
<circle class="d" cx="520.99" cy="317.88" r="1.0"/>
<circle class="d" cx="521.99" cy="319.62" r="1.0"/>
<circle class="d" cx="519.99" cy="320.98" r="1.0"/>
<circle class="d" cx="520.99" cy="322.88" r="1.0"/>
<circle class="d" cx="522.99" cy="324.32" r="1.0"/>
<circle class="d" cx="519.99" cy="324.65" r="1.0"/>
<circle class="d" cx="520.99" cy="326.42" r="1.0"/>
<circle class="d" cx="522.99" cy="327.14" r="1.0"/>
<circle class="d" cx="520.99" cy="328.41" r="1.0"/>
<circle class="d" cx="520.99" cy="334.64" r="1.0"/>
<circle class="d" cx="520.99" cy="339.25" r="1.0"/>
<circle class="d" cx="522.99" cy="339.36" r="1.0"/>
<circle class="d" cx="518.99" cy="340.30" r="1.0"/>
<line x1="547.26" y1="266.90" x2="547.26" y2="284.90" stroke="#555555" stroke-width="0.9"/>
<line x1="547.26" y1="308.30" x2="547.26" y2="329.60" stroke="#555555" stroke-width="0.9"/>
<line x1="542.01" y1="266.90" x2="552.52" y2="266.90" stroke="#555555" stroke-width="0.9"/>
<line x1="542.01" y1="329.60" x2="552.52" y2="329.60" stroke="#555555" stroke-width="0.9"/>
<rect x="536.75" y="284.90" width="21.02" height="23.40" fill="#20dfdf" stroke="#555555" stroke-width="0.9"/>
<line x1="536.75" y1="297.20" x2="557.77" y2="297.20" stroke="#555555" stroke-width="0.9"/>
<text x="547.26" y="354.90" font-size="4.1" text-anchor="middle" textLength="16.60" lengthAdjust="spacingAndGlyphs" stroke="#000" stroke-width="0.1">Proposed</text>
<circle class="d" cx="547.26" cy="266.90" r="1.0"/>
<circle class="d" cx="549.26" cy="268.33" r="1.0"/>
<circle class="d" cx="547.26" cy="269.42" r="1.0"/>
<circle class="d" cx="547.26" cy="280.75" r="1.0"/>
<circle class="d" cx="547.26" cy="285.21" r="1.0"/>
<circle class="d" cx="548.26" cy="286.96" r="1.0"/>
<circle class="d" cx="547.26" cy="292.85" r="1.0"/>
<circle class="d" cx="549.26" cy="293.58" r="1.0"/>
<circle class="d" cx="547.26" cy="296.17" r="1.0"/>
<circle class="d" cx="549.26" cy="296.96" r="1.0"/>
<circle class="d" cx="547.26" cy="299.60" r="1.0"/>
<circle class="d" cx="549.26" cy="300.06" r="1.0"/>
<circle class="d" cx="545.26" cy="300.84" r="1.0"/>
<circle class="d" cx="551.26" cy="301.19" r="1.0"/>
<circle class="d" cx="547.26" cy="302.25" r="1.0"/>
<circle class="d" cx="549.26" cy="303.41" r="1.0"/>
<circle class="d" cx="545.26" cy="303.80" r="1.0"/>
<circle class="d" cx="547.26" cy="304.22" r="1.0"/>
<circle class="d" cx="547.26" cy="306.58" r="1.0"/>
<circle class="d" cx="547.26" cy="309.86" r="1.0"/>
<circle class="d" cx="547.26" cy="315.10" r="1.0"/>
<circle class="d" cx="547.26" cy="317.64" r="1.0"/>
<circle class="d" cx="547.26" cy="320.52" r="1.0"/>
<circle class="d" cx="549.26" cy="321.50" r="1.0"/>
<circle class="d" cx="546.26" cy="322.34" r="1.0"/>
<circle class="d" cx="547.26" cy="324.23" r="1.0"/>
<circle class="d" cx="547.26" cy="328.16" r="1.0"/>
<circle class="d" cx="549.26" cy="329.35" r="1.0"/>
<circle class="d" cx="545.26" cy="329.60" r="1.0"/>
<circle class="d" cx="547.26" cy="345.00" r="1.0"/>
<rect x="455.30" y="263.00" width="105.10" height="85.90" fill="none" stroke="#1a1a1a" stroke-width="0.9"/>
<line x1="576.40" y1="279.90" x2="578.20" y2="279.90" stroke="#1a1a1a" stroke-width="0.7"/>
<text x="575.30" y="281.30" font-size="3.9" text-anchor="end" textLength="5.60" lengthAdjust="spacingAndGlyphs" stroke="#000" stroke-width="0.2">0.8</text>
<line x1="576.40" y1="297.70" x2="578.20" y2="297.70" stroke="#1a1a1a" stroke-width="0.7"/>
<text x="575.30" y="299.10" font-size="3.9" text-anchor="end" textLength="5.60" lengthAdjust="spacingAndGlyphs" stroke="#000" stroke-width="0.2">0.6</text>
<line x1="576.40" y1="315.50" x2="578.20" y2="315.50" stroke="#1a1a1a" stroke-width="0.7"/>
<text x="575.30" y="316.90" font-size="3.9" text-anchor="end" textLength="5.60" lengthAdjust="spacingAndGlyphs" stroke="#000" stroke-width="0.2">0.4</text>
<line x1="576.40" y1="333.30" x2="578.20" y2="333.30" stroke="#1a1a1a" stroke-width="0.7"/>
<text x="575.30" y="334.70" font-size="3.9" text-anchor="end" textLength="5.60" lengthAdjust="spacingAndGlyphs" stroke="#000" stroke-width="0.2">0.2</text>
<text x="0" y="0" font-size="5.8" text-anchor="middle" textLength="15.30" lengthAdjust="spacingAndGlyphs" transform="translate(567.70,306.05) rotate(-90)" stroke="#000" stroke-width="0.15">Recall</text>
<line x1="591.36" y1="267.90" x2="591.36" y2="286.20" stroke="#555555" stroke-width="0.9"/>
<line x1="591.36" y1="322.20" x2="591.36" y2="337.70" stroke="#555555" stroke-width="0.9"/>
<line x1="586.10" y1="267.90" x2="596.63" y2="267.90" stroke="#555555" stroke-width="0.9"/>
<line x1="586.10" y1="337.70" x2="596.63" y2="337.70" stroke="#555555" stroke-width="0.9"/>
<rect x="580.83" y="286.20" width="21.06" height="36.00" fill="#a3eca3" stroke="#555555" stroke-width="0.9"/>
<line x1="580.83" y1="301.30" x2="601.89" y2="301.30" stroke="#555555" stroke-width="0.9"/>
<text x="591.36" y="354.30" font-size="4.1" text-anchor="middle" textLength="24.60" lengthAdjust="spacingAndGlyphs" stroke="#000" stroke-width="0.1">1D-ResNet34</text>
<circle class="d" cx="591.36" cy="267.90" r="1.0"/>
<circle class="d" cx="591.36" cy="273.48" r="1.0"/>
<circle class="d" cx="592.36" cy="275.34" r="1.0"/>
<circle class="d" cx="591.36" cy="277.67" r="1.0"/>
<circle class="d" cx="591.36" cy="284.43" r="1.0"/>
<circle class="d" cx="591.36" cy="286.44" r="1.0"/>
<circle class="d" cx="593.36" cy="287.71" r="1.0"/>
<circle class="d" cx="591.36" cy="289.01" r="1.0"/>
<circle class="d" cx="592.36" cy="290.78" r="1.0"/>
<circle class="d" cx="591.36" cy="294.25" r="1.0"/>
<circle class="d" cx="593.36" cy="295.84" r="1.0"/>
<circle class="d" cx="591.36" cy="298.02" r="1.0"/>
<circle class="d" cx="591.36" cy="300.92" r="1.0"/>
<circle class="d" cx="593.36" cy="301.13" r="1.0"/>
<circle class="d" cx="591.36" cy="304.39" r="1.0"/>
<circle class="d" cx="593.36" cy="305.31" r="1.0"/>
<circle class="d" cx="591.36" cy="311.03" r="1.0"/>
<circle class="d" cx="593.36" cy="311.41" r="1.0"/>
<circle class="d" cx="589.36" cy="311.89" r="1.0"/>
<circle class="d" cx="591.36" cy="318.76" r="1.0"/>
<circle class="d" cx="591.36" cy="322.94" r="1.0"/>
<circle class="d" cx="591.36" cy="327.96" r="1.0"/>
<circle class="d" cx="593.36" cy="329.11" r="1.0"/>
<circle class="d" cx="591.36" cy="330.82" r="1.0"/>
<circle class="d" cx="593.36" cy="331.40" r="1.0"/>
<circle class="d" cx="590.36" cy="332.69" r="1.0"/>
<circle class="d" cx="591.36" cy="335.16" r="1.0"/>
<circle class="d" cx="591.36" cy="337.30" r="1.0"/>
<circle class="d" cx="593.36" cy="337.70" r="1.0"/>
<line x1="617.69" y1="266.60" x2="617.69" y2="286.30" stroke="#555555" stroke-width="0.9"/>
<line x1="617.69" y1="316.30" x2="617.69" y2="343.50" stroke="#555555" stroke-width="0.9"/>
<line x1="612.42" y1="266.60" x2="622.95" y2="266.60" stroke="#555555" stroke-width="0.9"/>
<line x1="612.42" y1="343.50" x2="622.95" y2="343.50" stroke="#555555" stroke-width="0.9"/>
<rect x="607.16" y="286.30" width="21.06" height="30.00" fill="#93c8de" stroke="#555555" stroke-width="0.9"/>
<line x1="607.16" y1="305.20" x2="628.22" y2="305.20" stroke="#555555" stroke-width="0.9"/>
<text x="617.69" y="354.30" font-size="4.1" text-anchor="middle" textLength="22.50" lengthAdjust="spacingAndGlyphs" stroke="#000" stroke-width="0.1">2-ResGCNet</text>
<circle class="d" cx="617.69" cy="266.60" r="1.0"/>
<circle class="d" cx="617.69" cy="273.97" r="1.0"/>
<circle class="d" cx="619.69" cy="274.85" r="1.0"/>
<circle class="d" cx="615.69" cy="275.55" r="1.0"/>
<circle class="d" cx="617.69" cy="276.11" r="1.0"/>
<circle class="d" cx="617.69" cy="281.61" r="1.0"/>
<circle class="d" cx="617.69" cy="288.14" r="1.0"/>
<circle class="d" cx="617.69" cy="297.88" r="1.0"/>
<circle class="d" cx="619.69" cy="299.25" r="1.0"/>
<circle class="d" cx="617.69" cy="302.19" r="1.0"/>
<circle class="d" cx="617.69" cy="305.57" r="1.0"/>
<circle class="d" cx="617.69" cy="308.54" r="1.0"/>
<circle class="d" cx="619.69" cy="308.67" r="1.0"/>
<circle class="d" cx="617.69" cy="310.58" r="1.0"/>
<circle class="d" cx="617.69" cy="314.92" r="1.0"/>
<circle class="d" cx="619.69" cy="315.56" r="1.0"/>
<circle class="d" cx="617.69" cy="320.66" r="1.0"/>
<circle class="d" cx="619.69" cy="321.41" r="1.0"/>
<circle class="d" cx="615.69" cy="321.80" r="1.0"/>
<circle class="d" cx="617.69" cy="330.31" r="1.0"/>
<circle class="d" cx="619.69" cy="331.31" r="1.0"/>
<circle class="d" cx="617.69" cy="333.96" r="1.0"/>
<circle class="d" cx="619.69" cy="334.27" r="1.0"/>
<circle class="d" cx="615.69" cy="334.41" r="1.0"/>
<circle class="d" cx="617.69" cy="337.54" r="1.0"/>
<circle class="d" cx="617.69" cy="340.95" r="1.0"/>
<circle class="d" cx="619.69" cy="341.60" r="1.0"/>
<circle class="d" cx="616.69" cy="342.60" r="1.0"/>
<circle class="d" cx="618.69" cy="343.50" r="1.0"/>
<line x1="644.01" y1="269.40" x2="644.01" y2="290.40" stroke="#555555" stroke-width="0.9"/>
<line x1="644.01" y1="318.00" x2="644.01" y2="339.50" stroke="#555555" stroke-width="0.9"/>
<line x1="638.75" y1="269.40" x2="649.28" y2="269.40" stroke="#555555" stroke-width="0.9"/>
<line x1="638.75" y1="339.50" x2="649.28" y2="339.50" stroke="#555555" stroke-width="0.9"/>
<rect x="633.48" y="290.40" width="21.06" height="27.60" fill="#f9ecd9" stroke="#555555" stroke-width="0.9"/>
<line x1="633.48" y1="303.90" x2="654.54" y2="303.90" stroke="#555555" stroke-width="0.9"/>
<text x="644.01" y="354.30" font-size="4.1" text-anchor="middle" textLength="22.50" lengthAdjust="spacingAndGlyphs" stroke="#000" stroke-width="0.1">6-ResGCNet</text>
<circle class="d" cx="644.01" cy="269.40" r="1.0"/>
<circle class="d" cx="646.01" cy="269.57" r="1.0"/>
<circle class="d" cx="642.01" cy="269.83" r="1.0"/>
<circle class="d" cx="644.01" cy="272.90" r="1.0"/>
<circle class="d" cx="646.01" cy="273.52" r="1.0"/>
<circle class="d" cx="644.01" cy="276.04" r="1.0"/>
<circle class="d" cx="644.01" cy="288.33" r="1.0"/>
<circle class="d" cx="644.01" cy="292.80" r="1.0"/>
<circle class="d" cx="645.01" cy="294.50" r="1.0"/>
<circle class="d" cx="644.01" cy="296.41" r="1.0"/>
<circle class="d" cx="646.01" cy="297.90" r="1.0"/>
<circle class="d" cx="642.01" cy="298.02" r="1.0"/>
<circle class="d" cx="648.01" cy="298.16" r="1.0"/>
<circle class="d" cx="644.01" cy="299.03" r="1.0"/>
<circle class="d" cx="640.01" cy="299.59" r="1.0"/>
<circle class="d" cx="644.01" cy="300.93" r="1.0"/>
<circle class="d" cx="644.01" cy="304.08" r="1.0"/>
<circle class="d" cx="644.01" cy="308.41" r="1.0"/>
<circle class="d" cx="646.01" cy="309.65" r="1.0"/>
<circle class="d" cx="644.01" cy="311.46" r="1.0"/>
<circle class="d" cx="644.01" cy="316.97" r="1.0"/>
<circle class="d" cx="644.01" cy="319.14" r="1.0"/>
<circle class="d" cx="644.01" cy="324.66" r="1.0"/>
<circle class="d" cx="644.01" cy="326.66" r="1.0"/>
<circle class="d" cx="644.01" cy="329.07" r="1.0"/>
<circle class="d" cx="644.01" cy="331.47" r="1.0"/>
<circle class="d" cx="644.01" cy="334.84" r="1.0"/>
<circle class="d" cx="646.01" cy="335.80" r="1.0"/>
<circle class="d" cx="644.01" cy="339.50" r="1.0"/>
<line x1="670.34" y1="269.40" x2="670.34" y2="284.30" stroke="#555555" stroke-width="0.9"/>
<line x1="670.34" y1="318.10" x2="670.34" y2="345.00" stroke="#555555" stroke-width="0.9"/>
<line x1="665.07" y1="269.40" x2="675.60" y2="269.40" stroke="#555555" stroke-width="0.9"/>
<line x1="665.07" y1="345.00" x2="675.60" y2="345.00" stroke="#555555" stroke-width="0.9"/>
<rect x="659.81" y="284.30" width="21.06" height="33.80" fill="#20dfdf" stroke="#555555" stroke-width="0.9"/>
<line x1="659.81" y1="299.50" x2="680.87" y2="299.50" stroke="#555555" stroke-width="0.9"/>
<text x="670.34" y="354.30" font-size="4.1" text-anchor="middle" textLength="16.60" lengthAdjust="spacingAndGlyphs" stroke="#000" stroke-width="0.1">Proposed</text>
<circle class="d" cx="670.34" cy="269.40" r="1.0"/>
<circle class="d" cx="672.34" cy="270.23" r="1.0"/>
<circle class="d" cx="670.34" cy="277.50" r="1.0"/>
<circle class="d" cx="670.34" cy="280.87" r="1.0"/>
<circle class="d" cx="672.34" cy="281.36" r="1.0"/>
<circle class="d" cx="668.34" cy="282.27" r="1.0"/>
<circle class="d" cx="674.34" cy="282.47" r="1.0"/>
<circle class="d" cx="670.34" cy="285.05" r="1.0"/>
<circle class="d" cx="671.34" cy="286.77" r="1.0"/>
<circle class="d" cx="670.34" cy="291.63" r="1.0"/>
<circle class="d" cx="670.34" cy="294.38" r="1.0"/>
<circle class="d" cx="672.34" cy="294.97" r="1.0"/>
<circle class="d" cx="670.34" cy="299.70" r="1.0"/>
<circle class="d" cx="670.34" cy="303.12" r="1.0"/>
<circle class="d" cx="672.34" cy="303.67" r="1.0"/>
<circle class="d" cx="668.34" cy="304.44" r="1.0"/>
<circle class="d" cx="670.34" cy="305.08" r="1.0"/>
<circle class="d" cx="671.34" cy="306.78" r="1.0"/>
<circle class="d" cx="670.34" cy="310.87" r="1.0"/>
<circle class="d" cx="672.34" cy="312.24" r="1.0"/>
<circle class="d" cx="669.34" cy="312.54" r="1.0"/>
<circle class="d" cx="670.34" cy="318.29" r="1.0"/>
<circle class="d" cx="670.34" cy="322.04" r="1.0"/>
<circle class="d" cx="670.34" cy="333.91" r="1.0"/>
<circle class="d" cx="672.34" cy="335.44" r="1.0"/>
<circle class="d" cx="669.34" cy="335.67" r="1.0"/>
<circle class="d" cx="670.34" cy="342.27" r="1.0"/>
<circle class="d" cx="672.34" cy="343.02" r="1.0"/>
<circle class="d" cx="670.34" cy="345.00" r="1.0"/>
<rect x="578.20" y="263.00" width="105.30" height="85.30" fill="none" stroke="#1a1a1a" stroke-width="0.9"/>
</svg>
</body></html>
